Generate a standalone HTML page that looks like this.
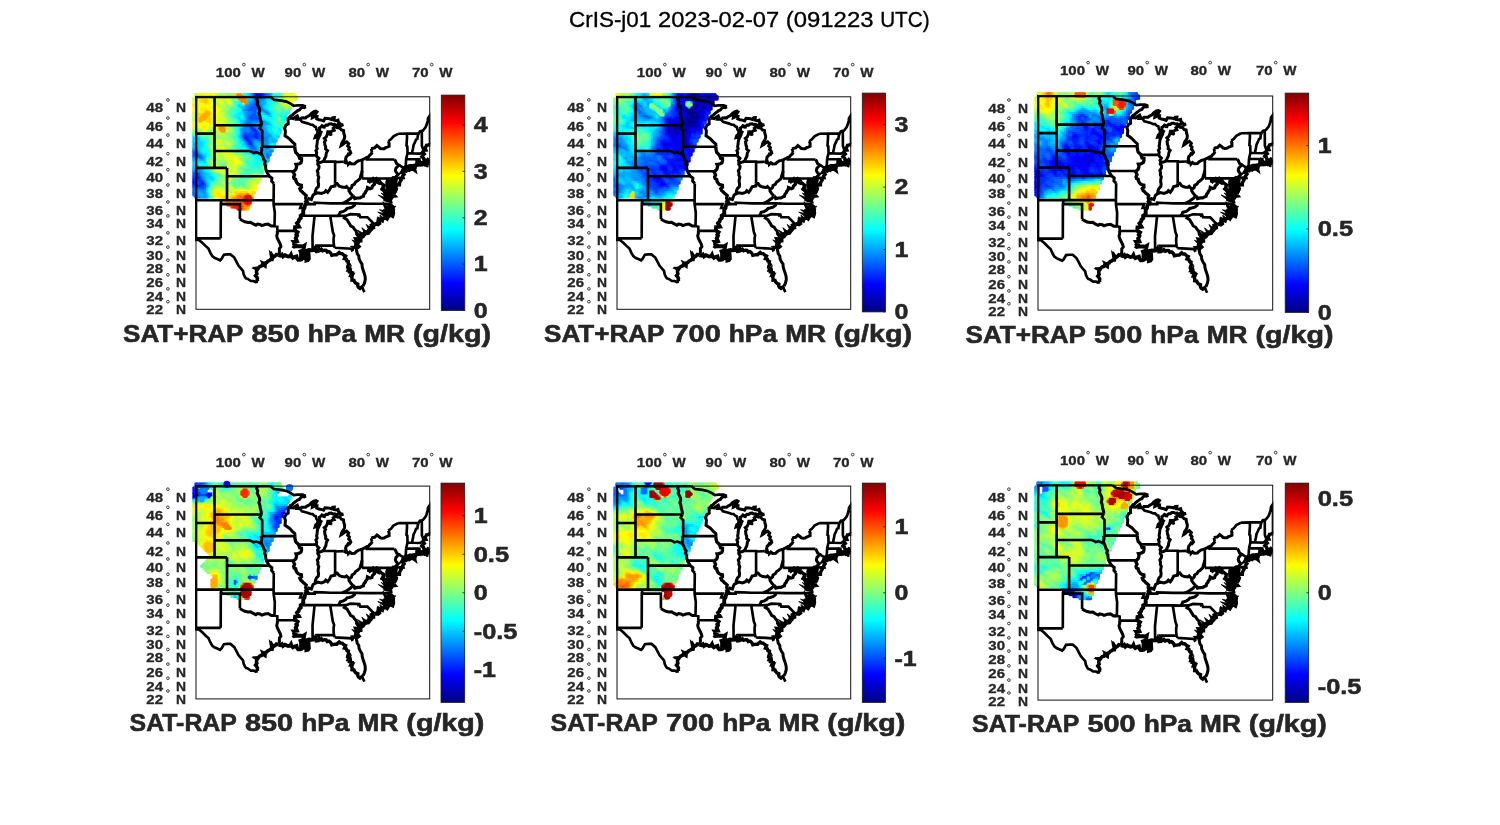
<!DOCTYPE html>
<html><head><meta charset="utf-8"><title>CrIS-j01 2023-02-07</title>
<style>html,body{margin:0;padding:0;background:#fff}svg{display:block;will-change:transform;transform:translateZ(0)}text{font-family:"Liberation Sans",sans-serif}</style></head><body>
<svg width="1500" height="825" viewBox="0 0 1500 825">
<defs>
<linearGradient id="jet" x1="0" y1="1" x2="0" y2="0"><stop offset="0" stop-color="#000080"/><stop offset="0.125" stop-color="#0000ff"/><stop offset="0.375" stop-color="#00ffff"/><stop offset="0.625" stop-color="#ffff00"/><stop offset="0.875" stop-color="#ff0000"/><stop offset="1" stop-color="#800000"/></linearGradient>
<clipPath id="box"><rect x="-1" y="-1" width="235.29999999999998" height="214.5"/></clipPath>
<g id="st" clip-path="url(#box)" fill="none" stroke="#000" stroke-linejoin="miter" stroke-miterlimit="4">
<path stroke-width="2.65" d="M-3.1 0.0 L74.3 0.0 M18.5 0.0 L18.5 36.8 L18.5 54.2 L18.5 71.1 M-3.1 36.8 L18.5 36.8 M18.5 28.4 L65.5 28.4 M18.5 54.2 L53.3 54.2 L55.8 55.1 L57.4 56.2 L60.2 55.4 L62.7 56.3 L64.6 57.5 L66.2 58.6 M-3.1 71.1 L31.0 71.1 M31.0 71.1 L31.0 79.4 L31.0 103.4 M31.0 79.4 L73.4 79.4 M-3.1 103.4 L25.1 103.4 L31.0 103.4 L77.6 103.4 M25.1 103.4 L25.1 107.3 L24.8 107.3 L24.7 141.5 M24.7 141.5 L2.4 141.5 L2.9 143.1 M2.9 143.1 L-3.1 143.1 M25.1 107.3 L43.9 107.3 L43.9 122.3 M81.3 134.0 L81.3 129.9 L78.5 129.2 L78.8 115.9 L77.6 107.3 L77.6 103.4 L77.8 86.7 M81.3 134.0 L99.3 134.0 M77.6 107.3 L105.7 107.3 L104.2 111.2 L108.5 111.2 M65.2 49.9 L99.0 49.9 M66.2 49.9 L66.2 34.1 L63.7 31.5 L65.5 28.4 M74.3 0.0 L77.8 2.9 L85.3 3.8 L90.3 4.8 L94.1 6.6 L97.8 9.0 L101.6 8.5 L106.6 8.5 L109.9 9.8 M70.4 74.4 L95.8 74.4 L97.7 76.2 M102.5 58.5 L120.4 58.5 M139.1 86.7 L139.1 65.3 M126.5 64.8 L139.1 64.8 L139.1 65.3 L147.7 65.0 M166.1 81.7 L166.1 74.1 L166.1 63.0 M166.1 81.7 L172.5 81.7 L195.7 81.7 M172.5 81.7 L172.5 85.9 M146.2 106.5 L158.8 106.6 L169.3 106.9 L195.2 106.9 M146.2 106.5 L134.8 106.5 L125.4 106.2 L118.7 105.9 L118.7 107.3 L109.7 107.3 M149.9 118.9 L142.2 119.0 L134.2 118.9 L117.9 118.9 L104.7 118.9 M149.9 118.9 L154.3 117.4 L162.8 117.7 L162.7 118.5 L163.5 118.2 L164.3 120.3 L171.4 120.4 L178.5 127.7 M134.2 118.9 L136.8 135.0 L138.1 138.5 L137.6 141.5 L137.6 145.2 L138.0 148.8 L138.8 151.0 M138.8 151.0 L155.5 152.0 L156.1 153.5 L156.6 153.2 L156.8 150.4 L160.2 151.0 M138.0 148.8 L121.7 148.8 L122.9 151.0 L122.2 154.1 M117.9 118.9 L118.5 119.7 L116.5 139.3 L116.6 153.4 M195.7 81.7 L196.3 91.9 L200.4 91.9 M195.7 81.7 L196.9 80.7 L198.2 81.0 M195.2 95.9 L199.2 95.3 M198.5 62.7 L170.8 62.7 L170.8 60.5 M202.6 68.1 L207.6 71.1 M209.1 71.2 L208.6 70.3 L209.8 68.6 L210.1 62.3 M210.1 62.3 L211.5 56.5 M211.5 56.5 L211.5 54.2 L211.3 49.5 L210.5 48.8 L210.7 45.6 L211.0 41.2 L211.0 36.8 M202.2 37.0 L211.0 36.8 L222.6 36.7 M222.6 36.7 L221.8 39.0 L221.4 42.1 L220.1 42.7 L218.9 45.6 L217.6 48.2 L217.0 51.7 L216.3 54.7 L216.6 56.6 M211.5 56.5 L216.6 56.6 L223.9 56.8 L226.9 55.4 M210.1 62.3 L220.7 62.5 L223.4 62.6 L223.4 63.6 L224.5 65.3 L225.0 67.0 M220.7 62.5 L220.4 68.5 M227.6 53.6 L225.9 49.3 L225.8 34.1 M222.6 36.7 L223.9 34.6 L225.8 34.1 M225.8 34.1 L227.0 33.7 L229.5 30.6 L230.5 28.3 L231.7 24.2 L232.0 21.5 L234.5 17.8 L237.0 14.6 M192.3 44.5 L194.9 42.6 L197.5 39.5 L202.2 37.0 M176.2 55.3 L175.5 53.8 L175.1 52.0 M121.7 35.9 L121.3 33.7 L120.4 32.8 L119.8 30.1 L118.5 29.7 L116.6 27.9 L114.8 27.9 L112.3 26.8 L106.0 25.1 L104.0 22.7 M2.9 143.1 L6.3 145.9 L10.0 149.6 L12.5 151.8 L14.4 156.1 L16.3 159.4 L18.8 161.2 L21.3 162.2 L24.1 163.5 L25.7 161.9 L27.9 157.9 L31.4 157.6 L34.5 157.6 L38.3 160.8 L40.8 165.5 L42.6 169.0 L47.0 174.0 L47.7 177.5 L49.2 180.7 L50.2 181.7 L51.4 181.9 L54.9 184.2 L57.7 184.2 L59.6 185.2 L61.8 184.8 M0.0 0.0 L0.0 143.1 M234.0 18.3 L234.0 47.3 M165.9 190.1 L168.4 195.3"/>
<path stroke-width="3.0" d="M43.9 122.3 L45.8 123.5 L48.9 125.0 L52.0 125.6 L54.6 125.4 L56.8 126.9 L59.9 128.4 L61.5 127.3 L64.0 127.7 L65.8 128.8 L69.0 127.7 L72.1 127.3 L75.3 129.2 L78.5 129.2 M81.3 134.0 L81.4 136.5 L80.7 139.0 L81.3 141.5 L82.8 144.4 L84.3 147.4 L84.9 149.8 L83.4 151.8 L83.4 155.4 L82.5 158.3 M77.8 86.7 L75.6 84.3 L75.9 81.4 L73.4 79.4 L71.8 76.9 L70.4 74.4 L69.8 71.8 L69.5 69.0 L68.5 67.0 L69.2 64.6 L67.7 62.7 L67.1 60.6 L66.2 58.6 M66.2 58.6 L65.2 56.0 L65.8 52.5 L65.2 49.9 M65.5 28.4 L65.2 25.4 L64.3 22.4 L63.8 18.7 L62.9 16.5 L63.7 14.1 L63.4 11.7 L62.4 9.5 L61.2 7.2 L61.8 4.8 L60.7 2.5 L61.3 0.0 M93.4 21.5 L92.2 22.0 L92.1 24.5 L92.2 27.1 L90.0 28.3 L88.5 31.5 L89.4 34.1 L89.2 36.8 L89.0 39.0 L91.6 40.8 L93.4 42.1 L94.9 43.6 L96.3 45.2 L98.8 47.3 L99.0 49.9 M122.2 65.3 L121.7 67.4 L123.1 69.6 L122.8 71.7 L121.3 73.9 L122.0 76.0 L121.8 78.2 L122.8 80.4 L122.3 82.5 L122.1 84.7 L122.6 87.3 L122.3 89.9 L120.5 91.6 L119.5 93.9 L119.0 97.1 M111.9 103.4 L112.9 101.8 L115.4 102.8 L116.3 100.3 L117.1 98.2 L119.0 97.1 L121.8 95.9 L125.4 96.7 L128.6 95.5 L129.8 93.9 L131.7 95.5 L133.3 93.4 L135.1 89.9 L138.9 89.1 L139.1 86.7 M139.1 86.7 L141.1 86.7 L143.0 89.1 L145.8 90.3 L149.2 90.7 L150.5 89.7 L151.8 91.1 L152.8 91.8 L153.0 92.3 M153.0 92.3 L154.0 92.2 L155.6 90.7 L156.0 88.7 L158.3 87.5 L159.6 85.3 L161.2 84.3 L164.0 81.8 L164.6 79.4 L165.6 76.1 L166.1 74.1 M157.0 99.2 L154.9 97.1 L153.0 94.2 L153.0 92.3 M157.0 99.2 L154.6 101.8 L152.8 103.0 L151.1 104.2 L148.8 105.5 L146.2 106.5 M158.8 106.6 L158.5 108.5 L156.1 110.4 L153.0 111.2 L151.1 111.6 L149.9 113.0 L147.4 114.6 L144.2 115.5 L143.6 117.0 L142.2 119.0 M149.9 118.9 L148.3 121.2 L151.1 122.9 L152.1 124.8 L153.3 126.5 L154.6 129.0 L157.1 130.3 L158.3 132.3 L159.9 134.0 L161.2 137.8 L162.6 139.3 L163.7 141.1 M198.5 62.7 L199.4 64.0 L200.7 67.0 L202.6 68.1 L201.3 69.9 L199.9 71.4 L199.4 73.6 L200.0 75.3 L202.1 77.7 L199.7 80.2 L198.2 81.0 L197.2 82.6 M167.1 189.4 L168.5 186.1 L169.3 182.9 L169.1 179.6 L168.1 176.1 L167.0 172.9 L166.2 170.1 L166.0 167.3 L164.3 164.8 L163.0 161.9 L162.8 159.1 L161.2 156.8 L160.5 153.2 L160.2 151.0"/>
<path stroke-width="3.0" d="M109.9 9.8 L108.2 10.8 L106.1 10.5 L104.5 11.8 L103.4 13.3 L101.6 13.9 L100.2 15.0 L98.7 16.1 L97.3 17.2 L96.1 18.6 L94.5 19.4 L93.4 20.8 L93.4 21.5 M93.4 21.5 L95.3 21.5 L97.3 21.8 L98.8 20.7 L100.3 19.7 L101.3 19.1 L102.0 20.8 L101.0 22.4 L104.1 22.4 L104.0 22.7 M104.0 22.7 L105.6 21.1 L107.9 21.0 L109.6 21.1 L111.0 19.9 L113.5 18.7 L115.4 16.6 L117.9 14.9 L119.9 14.4 L121.0 15.1 L119.9 16.8 L117.9 16.9 L116.6 18.7 L116.3 21.0 L119.1 19.7 L121.0 19.7 L120.7 22.0 L122.9 22.9 L125.4 23.3 L127.6 24.1 L129.0 21.6 L131.8 21.8 L133.5 22.0 L135.3 22.6 L136.7 21.0 L138.3 20.9 L138.0 23.3 L140.5 23.8 L142.0 23.3 L142.6 25.5 L144.2 27.0 L145.4 28.8 L147.4 27.9 L144.9 28.3 L141.7 27.9 L139.7 29.0 L138.6 27.6 L136.7 27.8 L135.2 27.0 L133.2 27.1 L131.7 28.3 L130.1 28.2 L128.6 29.5 L127.9 31.5 L127.7 29.6 L126.0 28.8 L125.0 30.1 L123.3 31.2 L123.5 33.2 L122.8 34.7 L121.7 35.9 M121.7 35.9 L121.3 37.6 L119.8 38.6 L119.1 40.8 L121.5 40.1 L122.9 38.1 L123.0 36.2 L124.9 35.6 L125.7 34.1 L124.3 35.6 L124.2 37.7 L123.2 39.7 L122.3 41.7 L121.6 43.1 L121.3 44.7 L121.0 47.8 L120.6 49.8 L121.2 52.0 L119.9 53.8 L120.7 55.8 L120.3 57.8 L120.4 58.5 L121.2 60.2 L122.9 61.6 L121.5 63.8 L122.2 65.3 L123.5 65.9 L126.0 65.1 L126.5 64.8 M126.5 64.8 L128.0 63.6 L128.6 61.9 L129.9 59.4 L130.1 57.7 L130.4 56.1 L131.6 53.9 L129.6 52.3 L129.7 50.1 L128.9 48.1 L128.7 46.0 L128.5 45.1 L129.6 43.4 L128.3 41.5 L130.2 40.1 L131.3 37.7 L131.8 35.0 L134.5 35.0 L134.3 36.9 L134.1 38.8 L134.8 36.8 L135.1 38.6 L134.1 35.9 L136.3 34.0 L138.2 33.5 L137.3 31.5 L139.7 29.8 L141.3 31.0 L143.8 31.2 L145.4 33.1 L147.5 33.7 L147.8 36.3 L148.3 37.9 L148.7 39.5 L148.4 41.9 L147.7 43.4 L146.1 45.6 L145.2 48.6 L146.7 47.7 L148.0 46.5 L148.8 46.1 L150.7 45.0 L152.7 46.9 L151.7 49.1 L153.4 50.8 L152.7 52.7 L154.1 54.2 L154.8 56.1 L153.5 57.7 L152.4 57.2 L151.1 59.4 L150.2 60.0 L149.6 62.3 L150.4 64.9 L147.7 65.0 M147.7 65.0 L148.6 65.3 L150.3 66.3 L152.3 66.5 L152.4 67.4 L153.9 65.9 L155.6 67.2 L158.7 67.0 L159.9 65.7 L161.3 64.8 L162.7 63.9 L164.3 63.6 L166.1 63.0 L168.8 61.7 L170.8 60.5 L172.5 60.1 L173.5 58.6 L175.2 57.1 L176.3 55.3 M175.1 52.0 L176.9 51.4 L178.7 51.1 L180.9 48.8 L182.6 50.1 L184.4 51.7 L186.2 52.0 L188.1 51.9 L189.6 50.9 L191.2 50.3 L193.1 49.5 L193.1 46.5 L192.3 44.5"/>
<path stroke-width="3.3" d="M99.0 49.9 L98.9 52.1 L99.4 54.2 L99.8 55.7 L101.0 56.8 L102.5 58.5 L103.1 60.0 L103.6 61.6 L105.5 61.9 L105.5 64.0 L104.9 66.0 L103.2 67.0 L101.6 67.4 L100.0 67.6 L100.6 69.3 L100.3 71.1 L99.7 72.8 L97.8 74.4 L97.7 76.2 M97.7 76.2 L98.6 78.2 L97.6 80.2 L98.1 81.8 L99.7 82.5 L100.0 84.3 L100.9 86.0 L102.2 87.5 L103.8 88.1 L105.4 88.5 L105.5 90.5 L103.8 91.9 L104.7 93.9 L106.1 95.0 L107.2 96.3 L108.8 97.5 L110.2 98.8 L109.7 101.1 L110.2 102.8 L111.9 103.4 M197.2 82.6 L197.2 83.9 L200.2 82.7 L199.7 85.9 L201.1 88.1 L203.5 88.1 L203.6 86.0 L204.3 84.6 L205.1 83.4 L203.7 81.4 L207.1 81.1 L206.6 79.4 L208.2 77.6 L206.9 75.5 L205.4 75.7 L206.8 73.6 L207.6 71.1"/>
<path stroke-width="3.9" d="M111.9 103.4 L110.3 104.8 L111.6 106.5 L109.7 107.3 L108.8 109.2 L108.5 111.2 L107.3 113.0 L107.2 115.1 L107.3 116.7 L106.2 117.9 L104.7 118.9 L104.8 121.2 L103.2 122.7 L102.5 124.9 L101.0 126.5 L102.9 129.8 L99.1 130.3 L98.9 132.2 L99.3 134.0 L101.6 135.4 L100.3 137.8 L101.0 138.9 L99.7 141.5 L100.9 144.4 L97.7 144.8 L99.5 147.5 L96.6 148.8 M96.6 148.8 L98.2 149.8 L99.9 149.4 L101.6 149.3 L103.3 149.4 L104.9 149.4 L106.6 149.8 L108.3 148.8 L107.7 151.8 L108.2 153.6 L109.6 154.8"/>
<path stroke-width="3.6" d="M172.5 85.9 L173.9 84.7 L175.6 83.9 L177.1 82.2 L178.1 83.2 L179.4 82.5 L180.6 81.8 L181.9 82.6 L182.8 83.4 L183.6 84.9 M178.5 127.7 L180.3 127.0 L182.1 127.7 L183.5 126.7 L183.1 125.0 L183.1 122.4 L186.3 123.9 L186.9 122.0 L188.4 121.4 L190.0 121.2 L191.1 122.0 L191.8 120.8 L192.5 119.7 L194.5 118.2 L196.6 119.4 L197.3 117.2 L197.4 115.7 L197.1 114.2 L197.3 112.8 L195.5 111.8 L196.0 109.7 L193.9 108.8 L195.2 106.9"/>
<path stroke-width="3.2" d="M183.6 84.9 L182.9 86.4 L180.6 85.3 L179.7 83.8 L178.0 85.3 L178.4 87.5 L176.4 89.3 L175.9 91.2 L174.1 91.9 L171.5 90.7 L171.1 93.0 L169.6 94.7 L169.3 95.9 L167.9 97.5 L167.4 99.5 L166.2 99.9 L164.0 101.1 L161.5 101.2 L158.8 101.8 L158.1 100.3 L157.0 99.2 M107.2 155.8 L107.9 154.7 L106.0 153.6 L104.1 154.3 L104.7 155.8 L106.6 155.9 L107.2 155.8 M208.3 72.8 L210.1 71.8 L212.6 71.5 L214.2 72.5 L215.7 71.3 L219.0 73.8 L218.0 69.8 L216.1 70.0 L215.3 71.8 L217.6 71.5 L218.7 70.2 L220.4 70.5 L218.9 70.9 L217.7 71.8 L216.3 72.4 L214.6 72.5 L213.2 73.6 L211.4 73.0 L210.1 74.4 L208.5 74.2 L206.9 74.7 L206.9 73.6 L208.3 72.8 M227.0 67.4 L229.2 67.8 L228.6 68.2 L227.0 67.4 M230.5 68.6 L232.2 68.8 L231.4 69.0 L230.5 68.6"/>
<path stroke-width="3.5" d="M61.8 184.8 L61.1 183.4 L61.5 181.7 L60.8 180.3 L59.5 178.8 L60.9 177.0 L60.5 175.4 L60.6 173.9 L61.5 172.6 L60.2 171.9 L62.1 171.5 L63.7 169.7 L65.5 169.2 L66.5 167.6 L69.0 169.2 L69.3 166.2 L70.8 165.7 L71.9 164.3 L73.4 163.7 L74.4 162.8 L76.1 162.8 L76.5 161.2 L75.6 159.7 L75.3 157.9 L76.8 159.4 L77.8 160.1 L79.0 159.4 L80.4 157.7 L82.5 158.3"/>
<path stroke-width="3.8" d="M82.5 158.3 L84.3 158.9 L85.9 157.8 L87.0 159.7 L88.9 158.3 L90.3 159.0 L92.1 159.8 L94.1 159.4 L95.0 157.9 L95.6 159.7 L96.9 161.0 L98.5 160.1 L100.5 159.5 L101.0 161.5 L102.2 163.0 L103.8 163.0 L105.4 162.6 L106.6 161.5 L107.9 161.2 L109.7 161.9 L110.4 163.3 L110.4 163.8 L111.9 163.4 L112.9 161.9 L112.7 158.8 L110.4 160.8 L109.1 159.0 L110.6 158.7 L111.0 157.2 L111.6 156.1 L109.1 155.8 L109.6 154.8 M109.6 154.8 L110.8 153.9 L112.3 153.4 L113.5 153.2 L115.7 153.6 L116.6 153.4 L118.2 153.2 L119.0 151.2 L119.6 151.2 L120.2 153.2 L120.7 154.3 L119.0 154.4 L120.3 154.5 L121.7 154.3 L122.2 154.1"/>
<path stroke-width="3.4" d="M122.2 154.1 L124.2 153.7 L125.4 152.5 L126.7 154.0 L128.6 153.4 L130.1 153.5 L131.2 155.2 L132.9 154.7 L133.9 155.4 L135.1 156.8 L135.8 158.5 L138.0 158.1 L139.3 157.9 L140.7 157.9 L141.7 156.8 L143.1 155.6 L144.4 156.8 L146.1 156.8 L148.0 158.5 L149.6 159.3 L148.4 161.8 L150.3 162.4 L150.8 164.1 L152.4 164.8 L152.2 166.2 L153.2 167.7 L151.9 169.0 L151.6 170.7 L152.8 171.8 L152.2 173.3 L154.3 173.3 L154.0 171.2 L153.3 173.3 L153.3 175.2 L155.9 175.8 L154.9 178.2 L156.5 177.9 L155.5 180.0 L156.1 181.4 L156.0 183.4 L158.0 183.6 L158.7 185.2 L160.0 186.6 L161.8 187.3 L161.7 189.0 L162.4 190.6 L164.0 191.7 L165.6 190.4 L167.1 189.4 M190.0 121.2 L190.6 118.9 L189.2 119.1 L188.1 118.2 L189.7 118.5 L191.3 118.9 L192.1 117.6 L191.3 116.2 L189.1 117.2 L188.1 115.1 L190.1 114.8 L191.9 115.8 L192.8 114.4 L194.4 114.7 L196.0 113.5 L195.0 111.6 L193.6 112.4 L192.1 112.8 L190.6 111.6 L190.0 110.4 L191.9 111.0 L193.8 110.8 L193.1 108.9 L195.3 109.7 L194.7 107.3 M195.2 106.9 L194.6 104.6 L194.4 104.0 L192.5 103.8 L191.6 103.4 L190.1 103.2 L189.4 101.8 L191.6 100.5 L192.2 103.0 L191.9 101.4 L189.2 102.3 L189.4 99.5 L191.2 99.0 L192.5 100.3 L192.5 98.7 L192.3 96.3 L190.5 96.2 L188.8 95.9 L189.4 97.8 L190.9 97.8 L192.5 97.9 L192.9 96.5 L191.3 95.5 L190.5 93.9 L188.8 93.9 L188.1 93.1 L186.2 92.3 L187.2 90.3 L187.8 88.3 L186.6 87.5 L184.9 86.3 L183.6 84.9 M187.8 88.3 L186.9 90.7 L187.8 92.7 L189.4 93.5 L190.2 95.6 L192.4 95.2 L191.9 93.1 L193.5 91.0 L191.1 89.9 L191.4 87.7 L191.0 85.5 L191.6 83.2 L193.8 84.3 L193.9 83.0 L195.0 83.4 L194.9 85.3 L193.1 85.9 L192.5 88.3 L192.5 90.7 L194.4 91.1 L193.1 93.1 L193.6 94.9 L195.2 95.7 L194.3 97.5 L194.6 99.5 L193.6 101.0 L194.6 102.5 L195.8 101.1 L196.6 99.5 L198.9 99.2 L195.8 96.0 L198.5 95.9 L199.0 94.2 L200.2 92.9 L200.4 91.9 L198.3 90.7 L200.1 89.1 L198.4 88.5 L198.2 86.7 L198.3 85.2 L197.2 84.3 L197.0 82.6 M206.8 73.6 L208.3 72.0 L209.1 71.2 L209.8 70.9 L212.0 69.8 L213.8 68.9 L216.3 69.0 L218.9 68.5 L220.4 68.5 L222.7 68.1 L223.2 66.1 L223.2 64.4 L224.2 65.3 L224.5 67.3 L225.1 67.0 L226.4 66.1 L228.1 64.9 L227.8 66.8 L228.3 66.5 L230.1 65.9 L232.0 66.5 L232.3 65.5 L232.4 64.4 L232.2 63.6 L231.4 62.3 L230.8 62.1 L231.5 62.7 L231.8 63.3 L232.2 64.6 L231.1 64.9 L230.1 65.1 L228.9 64.7 L228.0 63.2 L227.5 61.1 L225.8 59.8 L226.7 58.5 L228.3 57.2 L226.9 55.4 L227.6 53.6 L229.9 53.3 L228.9 51.2 L229.9 50.1 L230.5 48.6 L231.9 48.4 L233.3 47.8 L236.0 48.4 L235.8 45.6"/>
<path stroke-width="5.0" d="M160.2 151.0 L161.9 149.7 L160.5 148.1 L160.9 146.5 L161.8 145.2 L160.8 142.9 L164.0 143.0 L164.0 141.3 L164.9 140.0 L166.5 139.3 L167.4 137.8 L168.7 136.8 L169.9 135.9 L172.0 135.7 L173.1 134.0 L174.5 132.6 L175.0 131.3 L176.6 130.5 L176.2 128.8 L178.5 127.7"/>
<path fill="#000" stroke-width="0.8" d="M193.5 82.6 L195.2 82.2 L196.9 82.2 L197.9 83.9 L200.4 85.5 L201.3 88.1 L200.4 89.1 L200.4 91.1 L200.4 93.1 L200.7 95.5 L198.5 96.3 L197.1 97.6 L196.5 99.4 L196.2 101.2 L195.0 102.6 L192.5 103.8 L191.5 101.8 L191.6 99.5 L190.9 97.6 L191.0 95.5 L190.6 93.7 L190.0 91.9 L194.4 90.8 L190.6 88.3 L190.2 86.7 L190.3 85.1 L192.4 84.6 L193.5 82.6Z M195.7 109.7 L194.0 111.8 L191.8 109.7 L190.0 110.4 L190.0 112.0 L187.5 112.6 L188.1 115.1 L187.5 116.6 L188.1 118.2 L188.5 119.9 L190.0 120.8 L191.3 121.6 L192.8 120.5 L193.8 118.9 L195.1 117.2 L197.2 117.0 L197.4 114.9 L197.2 112.8 L199.8 109.5 L195.7 109.7Z M103.8 153.6 L105.6 154.3 L107.2 153.2 L109.1 154.3 L111.6 155.8 L111.0 158.3 L111.9 159.7 L112.9 161.2 L111.9 163.7 L110.1 163.7 L107.9 161.9 L105.4 162.6 L103.5 161.2 L103.5 158.3 L103.8 156.1 L103.8 153.6Z M206.6 74.8 L207.8 73.4 L208.2 71.5 L209.9 71.4 L211.7 71.4 L212.6 69.5 L214.5 69.1 L216.3 68.6 L218.5 69.5 L220.4 68.2 L220.4 70.3 L219.3 71.5 L218.0 72.2 L216.3 72.4 L214.7 72.3 L213.7 73.9 L211.6 72.6 L210.7 74.4 L208.5 73.4 L206.6 74.8Z M223.2 64.0 L224.8 65.2 L226.6 64.6 L228.3 64.9 L229.9 66.1 L232.0 66.1 L232.0 68.6 L230.1 70.0 L228.3 67.2 L226.4 68.6 L224.4 69.6 L222.6 68.2 L221.7 65.9 L223.2 64.0Z M144.5 48.6 L145.2 46.0 L147.4 45.6 L148.3 46.5 L146.7 48.2 L144.5 48.6Z M175.6 131.5 L170.2 127.6 L173.1 133.6Z M171.2 134.9 L165.8 130.9 L168.7 136.9Z M167.9 137.0 L161.4 133.2 L165.7 139.3Z M166.1 139.0 L160.8 135.1 L163.7 141.0Z M165.1 140.1 L159.2 136.8 L162.9 142.4Z M162.0 145.3 L155.8 143.1 L160.3 148.0Z M160.6 149.5 L154.3 149.6 L159.9 152.6Z M183.5 127.1 L181.3 120.8 L180.3 127.4Z M187.6 121.1 L183.9 118.3 L184.9 122.9Z M190.7 117.5 L181.7 115.3 L189.4 120.4Z M191.2 114.4 L183.5 112.9 L190.0 117.3Z M191.4 110.1 L187.0 104.9 L188.6 111.5Z M192.1 102.0 L182.3 98.2 L190.5 104.8Z M192.9 100.2 L185.3 96.2 L190.9 102.7Z M193.5 97.4 L184.2 91.9 L191.5 99.9Z M78.1 160.5 L75.3 154.6 L74.9 161.1Z M68.8 165.7 L64.2 163.5 L66.6 168.1Z M62.5 170.3 L56.7 170.5 L61.7 173.4Z M120.7 154.0 L119.4 147.7 L117.6 153.9Z M153.7 174.1 L155.4 168.6 L151.0 172.4Z M156.9 180.4 L157.3 176.3 L154.1 178.9Z"/>
</g>
</defs>
<rect width="1500" height="825" fill="#fff"/>
<text x="568.99" y="27.30" font-size="22.09" fill="#000" stroke="#000" stroke-width="0.33" textLength="82.36" lengthAdjust="spacingAndGlyphs" >CrIS-j01</text><text x="657.99" y="27.30" font-size="22.09" fill="#000" stroke="#000" stroke-width="0.33" textLength="121.17" lengthAdjust="spacingAndGlyphs" >2023-02-07</text><text x="785.78" y="27.30" font-size="22.09" fill="#000" stroke="#000" stroke-width="0.33" textLength="87.73" lengthAdjust="spacingAndGlyphs" >(091223</text><text x="880.14" y="27.30" font-size="22.09" fill="#000" stroke="#000" stroke-width="0.33" textLength="49.47" lengthAdjust="spacingAndGlyphs" >UTC)</text>
<g transform="translate(196.0,96.8) scale(1.00000,1.00000)">
<g fill="none" stroke-linecap="round" stroke-width="3.7">
<path stroke="#0000d4" d="M60 -2h.01M62 -2h.01"/>
<path stroke="#0000ea" d="M64 -2h.01M60 40h.01M50 42h.01"/>
<path stroke="#0000ff" d="M66 -2h.01M60 0h.01M56 32h.01M58 34h.01M60 34h.01M50 40h.01M-2 86h.01M6 86h.01"/>
<path stroke="#0015ff" d="M62 0h.01M64 0h.01M66 0h.01M56 30h.01M58 32h.01M60 36h.01M60 38h.01M48 40h.01M58 40h.01M62 40h.01M48 42h.01M52 42h.01M50 44h.01M52 44h.01M54 46h.01M-2 84h.01M4 84h.01M8 86h.01M0 88h.01M6 88h.01"/>
<path stroke="#002aff" d="M58 -2h.01M68 -2h.01M60 2h.01M60 4h.01M60 6h.01M54 28h.01M54 30h.01M60 32h.01M56 34h.01M62 36h.01M50 38h.01M54 38h.01M58 38h.01M62 38h.01M52 40h.01M56 40h.01M60 42h.01M62 42h.01M54 44h.01M52 46h.01M56 46h.01M54 48h.01M56 48h.01M0 78h.01M2 78h.01M0 80h.01M2 80h.01M4 80h.01M-2 82h.01M0 82h.01M2 82h.01M4 82h.01M6 84h.01M0 86h.01M4 86h.01M-2 88h.01M2 88h.01M4 88h.01M8 88h.01M0 90h.01M2 90h.01M4 90h.01"/>
<path stroke="#0040ff" d="M58 0h.01M68 0h.01M62 4h.01M62 6h.01M60 8h.01M62 8h.01M60 10h.01M62 10h.01M64 10h.01M54 12h.01M56 12h.01M64 12h.01M58 16h.01M60 16h.01M60 18h.01M54 20h.01M56 20h.01M60 20h.01M54 22h.01M56 22h.01M60 22h.01M62 22h.01M56 28h.01M58 30h.01M54 32h.01M62 34h.01M54 36h.01M58 36h.01M48 38h.01M52 38h.01M56 38h.01M64 38h.01M54 40h.01M54 42h.01M64 42h.01M56 44h.01M56 50h.01M58 50h.01M0 56h.01M0 58h.01M2 58h.01M2 60h.01M2 76h.01M-2 80h.01M0 84h.01M2 84h.01M-2 90h.01M6 90h.01M8 90h.01"/>
<path stroke="#0055ff" d="M70 -2h.01M58 2h.01M62 2h.01M64 2h.01M66 2h.01M58 8h.01M54 10h.01M56 10h.01M58 10h.01M58 12h.01M60 12h.01M62 12h.01M54 14h.01M56 14h.01M58 14h.01M60 14h.01M56 18h.01M58 18h.01M52 20h.01M58 20h.01M62 20h.01M58 22h.01M64 22h.01M56 24h.01M52 28h.01M48 36h.01M50 36h.01M52 36h.01M56 36h.01M64 36h.01M46 38h.01M46 40h.01M64 40h.01M56 42h.01M58 42h.01M64 44h.01M66 44h.01M52 48h.01M54 50h.01M58 52h.01M-2 56h.01M2 56h.01M-2 58h.01M0 60h.01M4 60h.01M-2 76h.01M0 76h.01M4 76h.01M-2 78h.01M4 78h.01M6 82h.01M8 84h.01M2 86h.01M10 88h.01M4 92h.01M6 92h.01M8 92h.01M-2 96h.01M0 100h.01"/>
<path stroke="#006aff" d="M56 -2h.01M72 -2h.01M70 0h.01M68 2h.01M58 4h.01M58 6h.01M64 6h.01M56 8h.01M64 8h.01M52 10h.01M52 12h.01M66 12h.01M52 14h.01M66 14h.01M56 16h.01M54 18h.01M52 22h.01M52 24h.01M54 24h.01M58 24h.01M60 24h.01M62 24h.01M64 24h.01M66 24h.01M50 26h.01M52 26h.01M54 26h.01M66 26h.01M50 28h.01M50 30h.01M52 30h.01M48 34h.01M54 34h.01M66 38h.01M66 40h.01M68 40h.01M48 44h.01M62 44h.01M50 46h.01M66 46h.01M58 48h.01M70 50h.01M56 52h.01M60 52h.01M-2 54h.01M0 54h.01M4 58h.01M72 58h.01M-2 60h.01M6 60h.01M70 60h.01M72 60h.01M4 62h.01M6 62h.01M6 80h.01M10 86h.01M10 90h.01M-2 92h.01M0 92h.01M2 92h.01M-2 94h.01M0 96h.01M-2 98h.01M0 98h.01M2 100h.01"/>
<path stroke="#0080ff" d="M74 -2h.01M74 0h.01M64 4h.01M56 6h.01M52 8h.01M54 8h.01M50 10h.01M66 10h.01M48 12h.01M50 12h.01M48 14h.01M50 14h.01M62 14h.01M64 14h.01M68 14h.01M70 14h.01M52 16h.01M54 16h.01M70 16h.01M72 16h.01M50 18h.01M52 18h.01M62 18h.01M50 20h.01M66 22h.01M50 24h.01M68 24h.01M56 26h.01M60 26h.01M68 26h.01M48 30h.01M60 30h.01M46 32h.01M48 32h.01M50 32h.01M52 32h.01M62 32h.01M46 34h.01M50 34h.01M52 34h.01M64 34h.01M46 36h.01M66 36h.01M70 40h.01M72 40h.01M46 42h.01M66 42h.01M68 42h.01M70 42h.01M58 44h.01M68 44h.01M70 44h.01M58 46h.01M68 46h.01M68 48h.01M70 48h.01M52 50h.01M60 50h.01M68 50h.01M72 50h.01M54 52h.01M70 52h.01M72 52h.01M74 52h.01M2 54h.01M56 54h.01M58 54h.01M60 54h.01M74 54h.01M76 54h.01M70 56h.01M72 56h.01M6 58h.01M70 58h.01M74 58h.01M72 62h.01M-2 74h.01M0 74h.01M2 74h.01M4 74h.01M6 78h.01M8 82h.01M10 92h.01M4 94h.01M6 94h.01M8 94h.01M2 98h.01"/>
<path stroke="#0095ff" d="M56 0h.01M72 0h.01M76 0h.01M70 2h.01M56 4h.01M66 4h.01M68 4h.01M54 6h.01M50 8h.01M66 8h.01M68 12h.01M50 16h.01M62 16h.01M68 16h.01M72 18h.01M74 18h.01M64 20h.01M50 22h.01M48 26h.01M58 26h.01M62 26h.01M64 26h.01M70 26h.01M72 26h.01M48 28h.01M58 28h.01M60 28h.01M66 28h.01M68 28h.01M62 30h.01M66 30h.01M68 30h.01M44 32h.01M64 32h.01M66 32h.01M68 32h.01M66 34h.01M68 34h.01M68 36h.01M70 36h.01M68 38h.01M70 38h.01M72 38h.01M74 38h.01M74 40h.01M72 42h.01M60 44h.01M72 44h.01M64 46h.01M70 46h.01M72 46h.01M50 48h.01M66 48h.01M72 48h.01M-2 52h.01M0 52h.01M62 52h.01M70 54h.01M4 56h.01M74 56h.01M8 60h.01M-2 62h.01M0 62h.01M2 62h.01M8 62h.01M6 64h.01M0 72h.01M2 72h.01M4 72h.01M6 74h.01M6 76h.01M8 80h.01M10 84h.01M0 94h.01M2 94h.01M10 94h.01M2 96h.01M6 96h.01M8 96h.01M10 96h.01M8 98h.01M10 98h.01M4 100h.01M8 100h.01M10 100h.01"/>
<path stroke="#00aaff" d="M54 -2h.01M56 2h.01M76 2h.01M54 4h.01M66 6h.01M68 6h.01M68 8h.01M48 10h.01M46 12h.01M72 14h.01M48 16h.01M74 16h.01M48 18h.01M70 18h.01M48 24h.01M70 24h.01M62 28h.01M64 28h.01M70 28h.01M72 28h.01M46 30h.01M64 30h.01M70 32h.01M44 34h.01M70 34h.01M72 34h.01M72 36h.01M44 38h.01M44 40h.01M76 40h.01M76 42h.01M78 42h.01M46 44h.01M76 44h.01M78 44h.01M0 46h.01M48 46h.01M60 46h.01M62 46h.01M78 46h.01M60 48h.01M50 50h.01M62 50h.01M2 52h.01M68 52h.01M54 54h.01M62 54h.01M64 54h.01M68 54h.01M72 54h.01M58 56h.01M60 56h.01M62 56h.01M68 56h.01M68 58h.01M70 62h.01M-2 64h.01M8 64h.01M-2 72h.01M6 72h.01M8 76h.01M8 78h.01M12 88h.01M12 90h.01M4 96h.01M4 98h.01M6 98h.01M6 100h.01"/>
<path stroke="#00bfff" d="M76 -2h.01M72 2h.01M74 2h.01M78 2h.01M52 4h.01M70 4h.01M52 6h.01M70 6h.01M42 8h.01M48 8h.01M70 8h.01M44 10h.01M46 10h.01M68 10h.01M70 12h.01M46 14h.01M64 16h.01M66 16h.01M64 18h.01M48 20h.01M74 20h.01M76 20h.01M44 24h.01M46 24h.01M46 26h.01M74 26h.01M46 28h.01M74 28h.01M70 30h.01M44 36h.01M74 36h.01M76 38h.01M0 40h.01M2 40h.01M82 40h.01M0 42h.01M2 42h.01M44 42h.01M74 42h.01M0 44h.01M74 44h.01M80 44h.01M-2 46h.01M2 46h.01M4 46h.01M74 46h.01M76 46h.01M-2 48h.01M0 48h.01M48 48h.01M62 48h.01M64 48h.01M-2 50h.01M0 50h.01M2 50h.01M66 50h.01M52 52h.01M64 52h.01M66 52h.01M76 52h.01M4 54h.01M66 54h.01M6 56h.01M56 56h.01M64 56h.01M66 56h.01M8 58h.01M58 58h.01M60 58h.01M10 60h.01M68 60h.01M0 64h.01M4 64h.01M72 64h.01M-2 68h.01M-2 70h.01M0 70h.01M2 70h.01M8 74h.01M10 76h.01M10 78h.01M12 78h.01M10 80h.01M14 80h.01M16 80h.01M10 82h.01M16 82h.01M12 86h.01M12 98h.01M12 100h.01"/>
<path stroke="#00d4ff" d="M52 -2h.01M54 0h.01M78 0h.01M52 2h.01M54 2h.01M78 4h.01M44 8h.01M42 10h.01M74 14h.01M46 16h.01M68 18h.01M76 18h.01M42 20h.01M66 20h.01M72 20h.01M42 22h.01M44 22h.01M48 22h.01M68 22h.01M72 24h.01M44 26h.01M76 28h.01M44 30h.01M72 30h.01M72 32h.01M82 32h.01M84 34h.01M76 36h.01M82 38h.01M-2 40h.01M42 40h.01M78 40h.01M-2 42h.01M4 42h.01M80 42h.01M-2 44h.01M2 44h.01M4 44h.01M6 46h.01M2 48h.01M4 48h.01M6 48h.01M74 48h.01M4 50h.01M6 50h.01M48 50h.01M64 50h.01M74 50h.01M4 52h.01M52 54h.01M10 58h.01M62 58h.01M64 58h.01M66 58h.01M10 62h.01M2 64h.01M10 64h.01M64 64h.01M70 64h.01M-2 66h.01M0 66h.01M8 66h.01M10 66h.01M68 66h.01M70 66h.01M0 68h.01M2 68h.01M70 68h.01M4 70h.01M8 72h.01M12 76h.01M14 78h.01M12 80h.01M12 82h.01M14 82h.01M18 82h.01M12 84h.01M16 84h.01M12 92h.01M12 96h.01"/>
<path stroke="#00eaff" d="M52 0h.01M80 2h.01M72 4h.01M74 4h.01M76 4h.01M80 4h.01M46 6h.01M72 6h.01M46 8h.01M72 8h.01M74 8h.01M70 10h.01M72 10h.01M44 12h.01M72 12h.01M42 16h.01M44 16h.01M76 16h.01M42 18h.01M44 18h.01M46 18h.01M66 18h.01M38 20h.01M40 20h.01M44 20h.01M86 20h.01M88 20h.01M90 20h.01M46 22h.01M70 22h.01M76 22h.01M90 22h.01M74 24h.01M76 26h.01M44 28h.01M74 30h.01M76 30h.01M42 32h.01M74 32h.01M76 32h.01M84 32h.01M74 34h.01M76 34h.01M78 36h.01M84 36h.01M42 38h.01M78 38h.01M80 38h.01M4 40h.01M80 40h.01M6 44h.01M8 44h.01M44 44h.01M8 46h.01M44 46h.01M46 46h.01M8 48h.01M46 48h.01M78 48h.01M8 50h.01M46 50h.01M6 52h.01M50 52h.01M6 54h.01M50 54h.01M8 56h.01M10 56h.01M12 56h.01M54 56h.01M56 58h.01M60 60h.01M62 60h.01M66 60h.01M62 62h.01M64 62h.01M68 62h.01M66 64h.01M68 64h.01M2 66h.01M4 66h.01M6 66h.01M6 70h.01M10 72h.01M10 74h.01M12 74h.01M14 76h.01M16 78h.01M18 80h.01M50 80h.01M14 84h.01M18 84h.01M14 86h.01M14 88h.01M14 90h.01M12 94h.01"/>
<path stroke="#00ffff" d="M50 -2h.01M50 2h.01M42 6h.01M44 6h.01M74 6h.01M80 6h.01M76 8h.01M74 10h.01M44 14h.01M76 14h.01M40 16h.01M78 16h.01M92 16h.01M38 18h.01M40 18h.01M84 18h.01M86 18h.01M46 20h.01M68 20h.01M70 20h.01M78 20h.01M40 22h.01M72 22h.01M74 22h.01M78 22h.01M88 22h.01M42 24h.01M78 28h.01M78 30h.01M80 30h.01M82 30h.01M42 34h.01M78 34h.01M82 34h.01M42 36h.01M6 42h.01M42 42h.01M10 44h.01M10 46h.01M10 48h.01M44 48h.01M76 48h.01M10 50h.01M44 50h.01M76 50h.01M8 52h.01M10 52h.01M48 52h.01M8 54h.01M10 54h.01M48 54h.01M52 56h.01M12 58h.01M14 58h.01M12 60h.01M58 60h.01M64 60h.01M60 62h.01M66 62h.01M62 64h.01M58 66h.01M60 66h.01M66 66h.01M4 68h.01M8 68h.01M10 68h.01M60 68h.01M8 70h.01M10 70h.01M60 70h.01M62 70h.01M12 72h.01M14 74h.01M16 76h.01M14 98h.01M14 100h.01"/>
<path stroke="#15ffea" d="M48 -2h.01M78 -2h.01M84 -2h.01M50 0h.01M80 0h.01M44 4h.01M76 6h.01M78 6h.01M40 8h.01M76 10h.01M42 12h.01M74 12h.01M76 12h.01M40 14h.01M42 14h.01M90 16h.01M78 18h.01M82 18h.01M90 18h.01M36 20h.01M84 20h.01M86 22h.01M76 24h.01M78 24h.01M80 24h.01M88 24h.01M42 26h.01M88 26h.01M42 30h.01M40 32h.01M78 32h.01M80 32h.01M80 36h.01M82 36h.01M-2 38h.01M0 38h.01M2 38h.01M40 40h.01M8 42h.01M10 42h.01M42 44h.01M42 46h.01M12 50h.01M42 50h.01M78 50h.01M44 52h.01M46 52h.01M12 54h.01M46 54h.01M14 56h.01M48 56h.01M50 56h.01M54 58h.01M14 60h.01M56 60h.01M58 62h.01M58 64h.01M60 64h.01M52 66h.01M62 66h.01M64 66h.01M6 68h.01M58 68h.01M62 68h.01M68 68h.01M56 70h.01M58 70h.01M56 72h.01M64 72h.01M18 78h.01M50 78h.01M20 80h.01M48 80h.01M52 80h.01M20 82h.01M20 84h.01M16 86h.01M14 92h.01M14 96h.01"/>
<path stroke="#2bffd4" d="M80 -2h.01M82 -2h.01M82 0h.01M84 0h.01M82 2h.01M40 6h.01M82 6h.01M82 8h.01M38 12h.01M40 12h.01M78 12h.01M38 14h.01M78 14h.01M88 14h.01M38 16h.01M80 16h.01M86 16h.01M88 16h.01M36 18h.01M80 18h.01M88 18h.01M38 22h.01M80 22h.01M40 24h.01M82 24h.01M86 24h.01M78 26h.01M82 26h.01M42 28h.01M38 30h.01M40 30h.01M84 30h.01M86 30h.01M40 34h.01M80 34h.01M40 36h.01M40 38h.01M6 40h.01M12 42h.01M40 42h.01M12 44h.01M40 44h.01M42 48h.01M40 50h.01M12 52h.01M40 52h.01M42 52h.01M42 54h.01M44 54h.01M50 58h.01M52 58h.01M16 60h.01M12 62h.01M56 62h.01M50 64h.01M52 64h.01M56 64h.01M12 66h.01M50 66h.01M54 66h.01M56 66h.01M12 68h.01M52 68h.01M54 68h.01M56 68h.01M12 70h.01M54 70h.01M64 70h.01M48 72h.01M50 72h.01M54 72h.01M58 72h.01M62 72h.01M50 74h.01M52 74h.01M58 74h.01M64 74h.01M66 74h.01M18 76h.01M66 76h.01M48 78h.01M52 78h.01M18 86h.01M46 86h.01M16 88h.01M46 88h.01M14 94h.01"/>
<path stroke="#40ffbf" d="M48 0h.01M38 4h.01M42 4h.01M38 6h.01M78 8h.01M80 8h.01M40 10h.01M78 10h.01M84 10h.01M36 12h.01M80 12h.01M86 12h.01M94 12h.01M36 14h.01M80 14h.01M86 14h.01M90 14h.01M92 14h.01M34 16h.01M36 16h.01M82 16h.01M84 16h.01M34 18h.01M80 20h.01M82 20h.01M36 22h.01M84 24h.01M40 26h.01M80 26h.01M84 26h.01M86 26h.01M40 28h.01M80 28h.01M82 28h.01M84 28h.01M86 28h.01M38 32h.01M4 38h.01M8 40h.01M10 40h.01M12 40h.01M36 40h.01M38 40h.01M38 42h.01M14 44h.01M12 46h.01M12 48h.01M40 48h.01M38 50h.01M14 52h.01M14 54h.01M40 54h.01M42 56h.01M46 56h.01M16 58h.01M54 60h.01M50 62h.01M54 62h.01M12 64h.01M54 64h.01M64 68h.01M66 68h.01M52 70h.01M14 72h.01M52 72h.01M60 72h.01M66 72h.01M16 74h.01M48 74h.01M54 74h.01M56 74h.01M60 74h.01M62 74h.01M48 76h.01M50 76h.01M64 76h.01M20 78h.01M22 78h.01M24 78h.01M46 78h.01M22 80h.01M24 80h.01M44 80h.01M46 80h.01M54 80h.01M46 82h.01M48 82h.01M50 82h.01M52 82h.01M22 84h.01M20 86h.01M48 86h.01M38 88h.01M40 88h.01M48 88h.01M16 90h.01M40 90h.01M48 90h.01M50 90h.01M16 100h.01"/>
<path stroke="#55ffaa" d="M46 -2h.01M86 -2h.01M86 0h.01M36 2h.01M38 2h.01M42 2h.01M84 2h.01M40 4h.01M82 4h.01M38 8h.01M84 8h.01M34 10h.01M36 10h.01M38 10h.01M86 10h.01M34 12h.01M88 12h.01M34 14h.01M82 14h.01M84 14h.01M32 16h.01M34 20h.01M82 22h.01M84 22h.01M38 24h.01M38 28h.01M38 34h.01M38 36h.01M38 38h.01M34 40h.01M36 42h.01M16 46h.01M40 46h.01M38 48h.01M36 50h.01M38 52h.01M40 56h.01M44 56h.01M46 58h.01M48 58h.01M50 60h.01M14 62h.01M16 62h.01M52 62h.01M48 64h.01M26 68h.01M50 68h.01M26 70h.01M28 70h.01M48 70h.01M66 70h.01M46 72h.01M22 76h.01M46 76h.01M52 76h.01M54 76h.01M56 76h.01M58 76h.01M60 76h.01M62 76h.01M26 78h.01M44 78h.01M54 78h.01M26 80h.01M28 80h.01M22 82h.01M44 82h.01M54 82h.01M42 84h.01M44 84h.01M46 84h.01M48 84h.01M22 86h.01M36 86h.01M38 86h.01M40 86h.01M42 86h.01M44 86h.01M42 88h.01M38 90h.01M46 90h.01"/>
<path stroke="#6aff95" d="M36 0h.01M36 4h.01M30 6h.01M80 10h.01M82 10h.01M82 12h.01M84 12h.01M92 12h.01M32 14h.01M32 18h.01M34 22h.01M36 24h.01M38 26h.01M36 28h.01M36 30h.01M-2 36h.01M0 36h.01M2 36h.01M14 36h.01M16 36h.01M36 36h.01M6 38h.01M10 38h.01M12 38h.01M14 38h.01M16 38h.01M18 38h.01M32 38h.01M36 38h.01M18 40h.01M14 42h.01M16 44h.01M34 44h.01M38 44h.01M14 46h.01M38 46h.01M14 50h.01M36 52h.01M38 54h.01M18 60h.01M48 60h.01M52 60h.01M18 62h.01M48 62h.01M48 66h.01M14 68h.01M24 68h.01M28 68h.01M14 70h.01M44 70h.01M46 70h.01M50 70h.01M68 70h.01M44 72h.01M68 72h.01M46 74h.01M20 76h.01M24 76h.01M44 76h.01M64 78h.01M66 78h.01M42 80h.01M38 82h.01M40 82h.01M42 82h.01M36 84h.01M38 84h.01M40 84h.01M50 84h.01M24 86h.01M50 86h.01M18 88h.01M22 88h.01M24 88h.01M36 88h.01M44 88h.01M50 88h.01M42 90h.01M16 92h.01M40 92h.01"/>
<path stroke="#80ff80" d="M32 -2h.01M34 -2h.01M34 0h.01M38 0h.01M40 2h.01M86 2h.01M88 2h.01M84 6h.01M30 8h.01M32 8h.01M32 10h.01M94 10h.01M32 12h.01M90 12h.01M30 14h.01M30 16h.01M30 18h.01M32 20h.01M32 22h.01M32 24h.01M34 24h.01M32 26h.01M34 26h.01M36 26h.01M32 28h.01M34 28h.01M36 32h.01M16 34h.01M4 36h.01M12 36h.01M18 36h.01M30 36h.01M32 36h.01M8 38h.01M30 38h.01M34 38h.01M14 40h.01M16 40h.01M20 40h.01M32 40h.01M16 42h.01M18 42h.01M26 42h.01M32 42h.01M34 42h.01M32 44h.01M36 44h.01M36 46h.01M14 48h.01M16 48h.01M18 48h.01M36 48h.01M32 50h.01M34 50h.01M16 52h.01M34 52h.01M16 54h.01M36 54h.01M16 56h.01M38 56h.01M44 58h.01M46 60h.01M20 62h.01M44 62h.01M46 62h.01M14 64h.01M20 64h.01M22 64h.01M26 64h.01M46 64h.01M14 66h.01M22 66h.01M24 66h.01M26 66h.01M28 66h.01M30 66h.01M30 68h.01M48 68h.01M16 72h.01M28 72h.01M42 72h.01M18 74h.01M42 74h.01M44 74h.01M28 78h.01M56 78h.01M56 80h.01M24 82h.01M26 82h.01M28 82h.01M56 82h.01M24 84h.01M26 84h.01M52 84h.01M54 84h.01M26 86h.01M34 86h.01M20 88h.01M26 88h.01M18 90h.01M44 90h.01M52 90h.01M50 92h.01M52 92h.01M16 94h.01M32 94h.01M34 94h.01M16 98h.01"/>
<path stroke="#95ff6a" d="M24 -2h.01M30 -2h.01M36 -2h.01M24 0h.01M26 0h.01M28 0h.01M30 0h.01M32 0h.01M88 0h.01M34 2h.01M84 4h.01M20 6h.01M36 6h.01M22 8h.01M34 8h.01M36 8h.01M86 8h.01M24 10h.01M26 10h.01M30 10h.01M88 10h.01M28 12h.01M30 12h.01M28 14h.01M28 18h.01M30 20h.01M30 26h.01M34 30h.01M2 32h.01M16 32h.01M32 32h.01M-2 34h.01M2 34h.01M4 34h.01M14 34h.01M18 34h.01M32 34h.01M36 34h.01M6 36h.01M28 36h.01M34 36h.01M20 38h.01M22 40h.01M24 40h.01M26 40h.01M20 42h.01M24 42h.01M28 42h.01M30 42h.01M18 46h.01M34 46h.01M28 48h.01M16 50h.01M30 50h.01M32 52h.01M22 54h.01M22 56h.01M24 56h.01M40 58h.01M42 58h.01M26 62h.01M28 62h.01M16 64h.01M18 64h.01M24 64h.01M28 64h.01M22 68h.01M46 68h.01M24 70h.01M30 70h.01M42 70h.01M30 72h.01M42 76h.01M42 78h.01M58 78h.01M60 78h.01M62 78h.01M30 80h.01M36 80h.01M38 80h.01M40 80h.01M30 82h.01M36 82h.01M58 82h.01M28 84h.01M30 84h.01M32 84h.01M34 84h.01M56 84h.01M32 86h.01M52 86h.01M28 88h.01M34 88h.01M52 88h.01M22 90h.01M24 90h.01M26 90h.01M28 90h.01M36 90h.01M18 92h.01M30 92h.01M32 92h.01M38 92h.01M48 92h.01M16 96h.01M34 96h.01M36 96h.01"/>
<path stroke="#aaff55" d="M22 -2h.01M26 -2h.01M28 -2h.01M38 -2h.01M22 0h.01M40 0h.01M26 2h.01M28 2h.01M30 2h.01M28 4h.01M86 4h.01M88 4h.01M22 6h.01M28 6h.01M86 6h.01M24 8h.01M28 10h.01M92 10h.01M26 12h.01M26 14h.01M28 16h.01M28 20h.01M-2 22h.01M24 22h.01M30 22h.01M0 24h.01M28 24h.01M30 24h.01M16 30h.01M30 30h.01M32 30h.01M4 32h.01M14 32h.01M18 32h.01M30 32h.01M34 32h.01M0 34h.01M6 34h.01M12 34h.01M24 34h.01M34 34h.01M8 36h.01M10 36h.01M24 36h.01M26 36h.01M22 38h.01M24 38h.01M28 38h.01M28 40h.01M30 40h.01M22 42h.01M18 44h.01M26 44h.01M28 44h.01M30 44h.01M28 46h.01M20 48h.01M30 48h.01M34 48h.01M22 50h.01M28 50h.01M18 52h.01M30 52h.01M18 54h.01M24 54h.01M32 54h.01M34 54h.01M36 56h.01M18 58h.01M24 58h.01M26 58h.01M38 58h.01M20 60h.01M26 60h.01M28 60h.01M42 60h.01M44 60h.01M22 62h.01M24 62h.01M30 64h.01M44 64h.01M16 66h.01M20 66h.01M32 66h.01M46 66h.01M16 68h.01M20 68h.01M32 68h.01M42 68h.01M44 68h.01M16 70h.01M32 70h.01M18 72h.01M26 72h.01M20 74h.01M26 76h.01M34 78h.01M36 78h.01M58 80h.01M64 80h.01M60 82h.01M58 84h.01M60 84h.01M62 84h.01M28 86h.01M30 86h.01M54 86h.01M56 86h.01M32 88h.01M54 88h.01M20 90h.01M30 90h.01M32 90h.01M54 90h.01M20 92h.01M28 92h.01M42 92h.01M46 92h.01M18 100h.01"/>
<path stroke="#bfff40" d="M0 -2h.01M88 -2h.01M16 2h.01M24 2h.01M32 2h.01M90 2h.01M98 2h.01M100 2h.01M30 4h.01M34 4h.01M90 4h.01M92 4h.01M18 6h.01M32 6h.01M88 6h.01M90 6h.01M20 8h.01M28 8h.01M88 8h.01M90 8h.01M92 8h.01M94 8h.01M22 10h.01M90 10h.01M24 14h.01M24 16h.01M26 16h.01M26 18h.01M22 20h.01M0 22h.01M22 22h.01M-2 24h.01M26 24h.01M28 26h.01M26 28h.01M30 28h.01M14 30h.01M18 30h.01M28 30h.01M-2 32h.01M0 32h.01M8 34h.01M10 34h.01M20 34h.01M22 34h.01M30 34h.01M20 36h.01M22 36h.01M26 38h.01M20 44h.01M26 46h.01M30 46h.01M32 46h.01M22 48h.01M24 48h.01M26 48h.01M32 48h.01M18 50h.01M20 50h.01M24 50h.01M26 50h.01M20 52h.01M22 52h.01M20 54h.01M30 54h.01M18 56h.01M26 56h.01M32 56h.01M34 56h.01M22 58h.01M28 58h.01M36 58h.01M22 60h.01M24 60h.01M30 62h.01M42 62h.01M32 64h.01M34 64h.01M36 64h.01M18 66h.01M18 68h.01M40 68h.01M34 70h.01M32 72h.01M34 72h.01M40 72h.01M22 74h.01M30 74h.01M32 74h.01M34 74h.01M40 74h.01M34 76h.01M40 76h.01M30 78h.01M38 78h.01M40 78h.01M34 82h.01M62 82h.01M64 82h.01M58 86h.01M30 88h.01M56 88h.01M34 90h.01M56 90h.01M22 92h.01M26 92h.01M34 92h.01M54 92h.01M30 94h.01M36 94h.01M42 94h.01M52 94h.01"/>
<path stroke="#d5ff2a" d="M2 -2h.01M6 -2h.01M20 -2h.01M94 -2h.01M98 -2h.01M0 0h.01M14 0h.01M16 0h.01M20 0h.01M94 0h.01M100 0h.01M-2 2h.01M14 2h.01M18 2h.01M22 2h.01M-2 4h.01M16 4h.01M18 4h.01M20 4h.01M22 4h.01M24 4h.01M26 4h.01M94 4h.01M96 4h.01M0 6h.01M2 6h.01M4 6h.01M24 6h.01M48 6h.01M92 6h.01M4 8h.01M26 8h.01M0 12h.01M2 12h.01M24 12h.01M0 14h.01M18 14h.01M22 14h.01M-2 16h.01M-2 18h.01M24 18h.01M-2 20h.01M20 20h.01M24 20h.01M26 20h.01M26 22h.01M28 22h.01M22 24h.01M24 24h.01M0 26h.01M2 26h.01M4 26h.01M24 26h.01M26 26h.01M10 28h.01M12 28h.01M28 28h.01M0 30h.01M2 30h.01M12 30h.01M6 32h.01M12 32h.01M20 32h.01M22 32h.01M22 44h.01M24 44h.01M20 46h.01M22 46h.01M24 46h.01M24 52h.01M28 52h.01M26 54h.01M20 56h.01M28 56h.01M30 56h.01M20 58h.01M30 58h.01M34 58h.01M30 60h.01M32 60h.01M34 60h.01M36 60h.01M38 60h.01M40 60h.01M32 62h.01M34 62h.01M36 62h.01M38 64h.01M34 66h.01M36 66h.01M38 66h.01M34 68h.01M36 68h.01M38 68h.01M18 70h.01M22 70h.01M36 70h.01M38 70h.01M40 70h.01M20 72h.01M24 72h.01M36 72h.01M38 72h.01M24 74h.01M28 74h.01M36 74h.01M38 74h.01M28 76h.01M32 76h.01M36 76h.01M38 76h.01M32 78h.01M34 80h.01M60 80h.01M62 80h.01M32 82h.01M60 86h.01M62 86h.01M24 92h.01M36 92h.01M44 92h.01M56 92h.01M18 94h.01M22 94h.01M24 94h.01M44 94h.01M54 94h.01M26 96h.01M32 96h.01M18 98h.01M36 98h.01M38 98h.01M26 104h.01"/>
<path stroke="#eaff15" d="M4 -2h.01M8 -2h.01M14 -2h.01M16 -2h.01M90 -2h.01M92 -2h.01M96 -2h.01M2 0h.01M12 0h.01M18 0h.01M90 0h.01M92 0h.01M96 0h.01M98 0h.01M0 2h.01M20 2h.01M92 2h.01M94 2h.01M96 2h.01M0 4h.01M14 4h.01M32 4h.01M16 6h.01M26 6h.01M34 6h.01M94 6h.01M2 8h.01M6 8h.01M18 8h.01M96 8h.01M0 10h.01M12 10h.01M14 10h.01M12 12h.01M14 12h.01M16 12h.01M2 14h.01M4 14h.01M14 14h.01M16 14h.01M20 14h.01M0 16h.01M18 16h.01M22 16h.01M0 18h.01M20 18h.01M22 18h.01M0 20h.01M2 22h.01M20 22h.01M20 24h.01M-2 26h.01M6 26h.01M10 26h.01M22 26h.01M-2 28h.01M4 28h.01M6 28h.01M8 28h.01M14 28h.01M16 28h.01M24 28h.01M-2 30h.01M4 30h.01M10 30h.01M8 32h.01M10 32h.01M26 52h.01M28 54h.01M32 58h.01M38 62h.01M42 64h.01M44 66h.01M20 70h.01M22 72h.01M26 74h.01M30 76h.01M32 80h.01M58 88h.01M60 88h.01M58 90h.01M58 92h.01M20 94h.01M26 94h.01M28 94h.01M38 94h.01M40 94h.01M46 94h.01M18 96h.01M24 96h.01M28 96h.01M38 96h.01M28 98h.01M24 102h.01"/>
<path stroke="#ffff00" d="M10 -2h.01M12 -2h.01M18 -2h.01M4 0h.01M6 0h.01M8 0h.01M10 0h.01M12 2h.01M2 4h.01M-2 6h.01M6 6h.01M14 6h.01M96 6h.01M0 8h.01M8 8h.01M10 8h.01M12 8h.01M14 8h.01M16 8h.01M-2 10h.01M2 10h.01M4 10h.01M6 10h.01M8 10h.01M10 10h.01M16 10h.01M20 10h.01M-2 12h.01M4 12h.01M18 12h.01M20 12h.01M22 12h.01M-2 14h.01M4 16h.01M6 16h.01M16 16h.01M20 16h.01M18 18h.01M2 20h.01M18 20h.01M2 24h.01M8 24h.01M8 26h.01M12 26h.01M20 26h.01M0 28h.01M2 28h.01M18 28h.01M6 30h.01M20 30h.01M22 30h.01M40 62h.01M40 64h.01M40 66h.01M42 66h.01M60 90h.01M60 92h.01M48 94h.01M50 94h.01M56 94h.01M58 94h.01M30 96h.01M52 96h.01M54 96h.01M26 98h.01M30 98h.01M32 98h.01M34 98h.01M20 100h.01M22 100h.01M32 100h.01M26 102h.01M28 106h.01"/>
<path stroke="#ffea00" d="M2 2h.01M4 2h.01M6 2h.01M8 2h.01M10 2h.01M4 4h.01M12 4h.01M8 6h.01M12 6h.01M-2 8h.01M18 10h.01M6 12h.01M8 12h.01M10 12h.01M6 14h.01M8 14h.01M12 14h.01M2 16h.01M8 16h.01M2 18h.01M6 18h.01M14 18h.01M16 18h.01M4 20h.01M12 20h.01M14 20h.01M16 20h.01M16 22h.01M18 22h.01M10 24h.01M16 24h.01M18 24h.01M14 26h.01M16 26h.01M18 26h.01M20 28h.01M22 28h.01M8 30h.01M20 96h.01M22 96h.01M42 96h.01M44 96h.01M56 96h.01M20 98h.01M22 98h.01M24 98h.01M40 98h.01M54 98h.01M56 98h.01M24 100h.01M26 100h.01M28 100h.01M30 100h.01M34 100h.01M32 102h.01M34 102h.01M28 104h.01M54 108h.01"/>
<path stroke="#ffd500" d="M40 -2h.01M6 4h.01M8 4h.01M10 6h.01M10 14h.01M14 16h.01M4 18h.01M10 22h.01M12 22h.01M14 22h.01M6 24h.01M12 24h.01M14 24h.01M40 96h.01M46 96h.01M48 96h.01M50 96h.01M58 96h.01M36 100h.01M38 100h.01M56 100h.01M28 102h.01M30 102h.01M32 104h.01M52 112h.01"/>
<path stroke="#ffbf00" d="M10 4h.01M10 16h.01M42 98h.01M50 98h.01M40 100h.01M36 102h.01M30 104h.01M34 104h.01M30 106h.01"/>
<path stroke="#ffaa00" d="M12 16h.01M8 18h.01M10 18h.01M12 18h.01M6 20h.01M8 20h.01M10 20h.01M4 22h.01M6 22h.01M8 22h.01M4 24h.01M44 98h.01M46 98h.01M48 98h.01M52 110h.01M50 112h.01"/>
<path stroke="#ff9500" d="M24 30h.01M26 30h.01M24 32h.01M26 32h.01M28 32h.01M26 34h.01M28 34h.01M38 102h.01M40 102h.01M36 104h.01M48 110h.01M50 110h.01M48 112h.01"/>
<path stroke="#ff8000" d="M42 -2h.01M44 -2h.01M42 0h.01M44 0h.01M46 0h.01M44 2h.01M46 2h.01M48 2h.01M46 4h.01M48 4h.01M50 4h.01M50 6h.01M42 100h.01M46 100h.01M48 100h.01M42 102h.01M38 104h.01M40 104h.01M42 104h.01M44 104h.01M32 106h.01M34 106h.01M36 106h.01M42 106h.01M44 108h.01M46 108h.01M48 108h.01M50 108h.01"/>
<path stroke="#ff6a00" d="M52 98h.01M44 100h.01M44 102h.01M46 102h.01M56 102h.01M46 104h.01M38 106h.01M40 106h.01M44 106h.01M48 106h.01M32 108h.01M42 108h.01M46 110h.01"/>
<path stroke="#ff5500" d="M46 106h.01M36 108h.01M38 108h.01M52 108h.01M46 112h.01"/>
<path stroke="#ff4000" d="M48 102h.01M48 104h.01M34 108h.01M40 108h.01M36 110h.01"/>
<path stroke="#ff1500" d="M38 110h.01M40 110h.01M42 110h.01M44 110h.01M42 112h.01M44 112h.01"/>
<path stroke="#ff0000" d="M50 100h.01M52 100h.01M54 100h.01M50 102h.01M52 102h.01M54 102h.01M50 104h.01M52 104h.01M54 104h.01M50 106h.01M52 106h.01M54 106h.01"/>
</g>
<use href="#st"/>
</g>
<rect x="196.0" y="96.8" width="233.7" height="212.5" fill="none" stroke="#101010" stroke-width="1.0"/>
<text x="215.80" y="76.60" font-size="12.72" font-weight="bold" fill="#262626" stroke="#262626" stroke-width="0.31" textLength="25.05" lengthAdjust="spacingAndGlyphs" >100</text>
<circle cx="243.85" cy="64.60" r="1.35" fill="none" stroke="#262626" stroke-width="0.9"/>
<text x="251.45" y="76.60" font-size="12.72" font-weight="bold" fill="#262626" stroke="#262626" stroke-width="0.31" textLength="13.24" lengthAdjust="spacingAndGlyphs" >W</text>
<text x="284.60" y="76.60" font-size="12.72" font-weight="bold" fill="#262626" stroke="#262626" stroke-width="0.31" textLength="16.70" lengthAdjust="spacingAndGlyphs" >90</text>
<circle cx="304.30" cy="64.60" r="1.35" fill="none" stroke="#262626" stroke-width="0.9"/>
<text x="311.90" y="76.60" font-size="12.72" font-weight="bold" fill="#262626" stroke="#262626" stroke-width="0.31" textLength="13.24" lengthAdjust="spacingAndGlyphs" >W</text>
<text x="348.50" y="76.60" font-size="12.72" font-weight="bold" fill="#262626" stroke="#262626" stroke-width="0.31" textLength="16.70" lengthAdjust="spacingAndGlyphs" >80</text>
<circle cx="368.20" cy="64.60" r="1.35" fill="none" stroke="#262626" stroke-width="0.9"/>
<text x="375.80" y="76.60" font-size="12.72" font-weight="bold" fill="#262626" stroke="#262626" stroke-width="0.31" textLength="13.24" lengthAdjust="spacingAndGlyphs" >W</text>
<text x="412.00" y="76.60" font-size="12.72" font-weight="bold" fill="#262626" stroke="#262626" stroke-width="0.31" textLength="16.70" lengthAdjust="spacingAndGlyphs" >70</text>
<circle cx="431.70" cy="64.60" r="1.35" fill="none" stroke="#262626" stroke-width="0.9"/>
<text x="439.30" y="76.60" font-size="12.72" font-weight="bold" fill="#262626" stroke="#262626" stroke-width="0.31" textLength="13.24" lengthAdjust="spacingAndGlyphs" >W</text>
<text x="146.30" y="112.40" font-size="12.72" font-weight="bold" fill="#262626" stroke="#262626" stroke-width="0.31" textLength="16.70" lengthAdjust="spacingAndGlyphs" >48</text>
<circle cx="167.90" cy="99.90" r="1.35" fill="none" stroke="#262626" stroke-width="0.9"/>
<text x="176.00" y="112.40" font-size="12.72" font-weight="bold" fill="#262626" stroke="#262626" stroke-width="0.31" textLength="10.04" lengthAdjust="spacingAndGlyphs" >N</text>
<text x="146.30" y="130.50" font-size="12.72" font-weight="bold" fill="#262626" stroke="#262626" stroke-width="0.31" textLength="16.70" lengthAdjust="spacingAndGlyphs" >46</text>
<circle cx="167.90" cy="118.00" r="1.35" fill="none" stroke="#262626" stroke-width="0.9"/>
<text x="176.00" y="130.50" font-size="12.72" font-weight="bold" fill="#262626" stroke="#262626" stroke-width="0.31" textLength="10.04" lengthAdjust="spacingAndGlyphs" >N</text>
<text x="146.30" y="147.60" font-size="12.72" font-weight="bold" fill="#262626" stroke="#262626" stroke-width="0.31" textLength="16.70" lengthAdjust="spacingAndGlyphs" >44</text>
<circle cx="167.90" cy="135.10" r="1.35" fill="none" stroke="#262626" stroke-width="0.9"/>
<text x="176.00" y="147.60" font-size="12.72" font-weight="bold" fill="#262626" stroke="#262626" stroke-width="0.31" textLength="10.04" lengthAdjust="spacingAndGlyphs" >N</text>
<text x="146.30" y="166.20" font-size="12.72" font-weight="bold" fill="#262626" stroke="#262626" stroke-width="0.31" textLength="16.70" lengthAdjust="spacingAndGlyphs" >42</text>
<circle cx="167.90" cy="153.70" r="1.35" fill="none" stroke="#262626" stroke-width="0.9"/>
<text x="176.00" y="166.20" font-size="12.72" font-weight="bold" fill="#262626" stroke="#262626" stroke-width="0.31" textLength="10.04" lengthAdjust="spacingAndGlyphs" >N</text>
<text x="146.30" y="182.20" font-size="12.72" font-weight="bold" fill="#262626" stroke="#262626" stroke-width="0.31" textLength="16.70" lengthAdjust="spacingAndGlyphs" >40</text>
<circle cx="167.90" cy="169.70" r="1.35" fill="none" stroke="#262626" stroke-width="0.9"/>
<text x="176.00" y="182.20" font-size="12.72" font-weight="bold" fill="#262626" stroke="#262626" stroke-width="0.31" textLength="10.04" lengthAdjust="spacingAndGlyphs" >N</text>
<text x="146.30" y="197.50" font-size="12.72" font-weight="bold" fill="#262626" stroke="#262626" stroke-width="0.31" textLength="16.70" lengthAdjust="spacingAndGlyphs" >38</text>
<circle cx="167.90" cy="185.00" r="1.35" fill="none" stroke="#262626" stroke-width="0.9"/>
<text x="176.00" y="197.50" font-size="12.72" font-weight="bold" fill="#262626" stroke="#262626" stroke-width="0.31" textLength="10.04" lengthAdjust="spacingAndGlyphs" >N</text>
<text x="146.30" y="214.50" font-size="12.72" font-weight="bold" fill="#262626" stroke="#262626" stroke-width="0.31" textLength="16.70" lengthAdjust="spacingAndGlyphs" >36</text>
<circle cx="167.90" cy="202.00" r="1.35" fill="none" stroke="#262626" stroke-width="0.9"/>
<text x="176.00" y="214.50" font-size="12.72" font-weight="bold" fill="#262626" stroke="#262626" stroke-width="0.31" textLength="10.04" lengthAdjust="spacingAndGlyphs" >N</text>
<text x="146.30" y="228.40" font-size="12.72" font-weight="bold" fill="#262626" stroke="#262626" stroke-width="0.31" textLength="16.70" lengthAdjust="spacingAndGlyphs" >34</text>
<circle cx="167.90" cy="215.90" r="1.35" fill="none" stroke="#262626" stroke-width="0.9"/>
<text x="176.00" y="228.40" font-size="12.72" font-weight="bold" fill="#262626" stroke="#262626" stroke-width="0.31" textLength="10.04" lengthAdjust="spacingAndGlyphs" >N</text>
<text x="146.30" y="245.40" font-size="12.72" font-weight="bold" fill="#262626" stroke="#262626" stroke-width="0.31" textLength="16.70" lengthAdjust="spacingAndGlyphs" >32</text>
<circle cx="167.90" cy="232.90" r="1.35" fill="none" stroke="#262626" stroke-width="0.9"/>
<text x="176.00" y="245.40" font-size="12.72" font-weight="bold" fill="#262626" stroke="#262626" stroke-width="0.31" textLength="10.04" lengthAdjust="spacingAndGlyphs" >N</text>
<text x="146.30" y="259.60" font-size="12.72" font-weight="bold" fill="#262626" stroke="#262626" stroke-width="0.31" textLength="16.70" lengthAdjust="spacingAndGlyphs" >30</text>
<circle cx="167.90" cy="247.10" r="1.35" fill="none" stroke="#262626" stroke-width="0.9"/>
<text x="176.00" y="259.60" font-size="12.72" font-weight="bold" fill="#262626" stroke="#262626" stroke-width="0.31" textLength="10.04" lengthAdjust="spacingAndGlyphs" >N</text>
<text x="146.30" y="272.70" font-size="12.72" font-weight="bold" fill="#262626" stroke="#262626" stroke-width="0.31" textLength="16.70" lengthAdjust="spacingAndGlyphs" >28</text>
<circle cx="167.90" cy="260.20" r="1.35" fill="none" stroke="#262626" stroke-width="0.9"/>
<text x="176.00" y="272.70" font-size="12.72" font-weight="bold" fill="#262626" stroke="#262626" stroke-width="0.31" textLength="10.04" lengthAdjust="spacingAndGlyphs" >N</text>
<text x="146.30" y="287.30" font-size="12.72" font-weight="bold" fill="#262626" stroke="#262626" stroke-width="0.31" textLength="16.70" lengthAdjust="spacingAndGlyphs" >26</text>
<circle cx="167.90" cy="274.80" r="1.35" fill="none" stroke="#262626" stroke-width="0.9"/>
<text x="176.00" y="287.30" font-size="12.72" font-weight="bold" fill="#262626" stroke="#262626" stroke-width="0.31" textLength="10.04" lengthAdjust="spacingAndGlyphs" >N</text>
<text x="146.30" y="301.40" font-size="12.72" font-weight="bold" fill="#262626" stroke="#262626" stroke-width="0.31" textLength="16.70" lengthAdjust="spacingAndGlyphs" >24</text>
<circle cx="167.90" cy="288.90" r="1.35" fill="none" stroke="#262626" stroke-width="0.9"/>
<text x="176.00" y="301.40" font-size="12.72" font-weight="bold" fill="#262626" stroke="#262626" stroke-width="0.31" textLength="10.04" lengthAdjust="spacingAndGlyphs" >N</text>
<text x="146.30" y="314.20" font-size="12.72" font-weight="bold" fill="#262626" stroke="#262626" stroke-width="0.31" textLength="16.70" lengthAdjust="spacingAndGlyphs" >22</text>
<circle cx="167.90" cy="301.70" r="1.35" fill="none" stroke="#262626" stroke-width="0.9"/>
<text x="176.00" y="314.20" font-size="12.72" font-weight="bold" fill="#262626" stroke="#262626" stroke-width="0.31" textLength="10.04" lengthAdjust="spacingAndGlyphs" >N</text>
<rect x="441.3" y="95.1" width="23.50" height="215.40" fill="url(#jet)" stroke="#1a1a1a" stroke-width="0.8"/>
<path d="M462.50 310.50H464.80" stroke="#1a1a1a" stroke-width="0.8"/>
<text x="473.80" y="317.80" font-size="21.19" font-weight="bold" fill="#262626" stroke="#262626" stroke-width="0.52" textLength="13.92" lengthAdjust="spacingAndGlyphs" >0</text>
<path d="M462.50 264.13H464.80" stroke="#1a1a1a" stroke-width="0.8"/>
<text x="473.80" y="271.43" font-size="21.19" font-weight="bold" fill="#262626" stroke="#262626" stroke-width="0.52" textLength="13.92" lengthAdjust="spacingAndGlyphs" >1</text>
<path d="M462.50 217.76H464.80" stroke="#1a1a1a" stroke-width="0.8"/>
<text x="473.80" y="225.06" font-size="21.19" font-weight="bold" fill="#262626" stroke="#262626" stroke-width="0.52" textLength="13.92" lengthAdjust="spacingAndGlyphs" >2</text>
<path d="M462.50 171.38H464.80" stroke="#1a1a1a" stroke-width="0.8"/>
<text x="473.80" y="178.68" font-size="21.19" font-weight="bold" fill="#262626" stroke="#262626" stroke-width="0.52" textLength="13.92" lengthAdjust="spacingAndGlyphs" >3</text>
<path d="M462.50 125.01H464.80" stroke="#1a1a1a" stroke-width="0.8"/>
<text x="473.80" y="132.31" font-size="21.19" font-weight="bold" fill="#262626" stroke="#262626" stroke-width="0.52" textLength="13.92" lengthAdjust="spacingAndGlyphs" >4</text>
<text x="123.04" y="341.80" font-size="24.48" font-weight="bold" fill="#262626" stroke="#262626" stroke-width="0.60" textLength="120.43" lengthAdjust="spacingAndGlyphs" >SAT+RAP</text><text x="251.51" y="341.80" font-size="24.48" font-weight="bold" fill="#262626" stroke="#262626" stroke-width="0.60" textLength="48.22" lengthAdjust="spacingAndGlyphs" >850</text><text x="307.77" y="341.80" font-size="24.48" font-weight="bold" fill="#262626" stroke="#262626" stroke-width="0.60" textLength="48.34" lengthAdjust="spacingAndGlyphs" >hPa</text><text x="364.16" y="341.80" font-size="24.48" font-weight="bold" fill="#262626" stroke="#262626" stroke-width="0.60" textLength="40.78" lengthAdjust="spacingAndGlyphs" >MR</text><text x="412.97" y="341.80" font-size="24.48" font-weight="bold" fill="#262626" stroke="#262626" stroke-width="0.60" textLength="77.98" lengthAdjust="spacingAndGlyphs" >(g/kg)</text>
<g transform="translate(617.0,96.8) scale(1.00000,1.00000)">
<g fill="none" stroke-linecap="round" stroke-width="3.7">
<path stroke="#000080" d="M74 -2h.01M76 -2h.01M80 -2h.01M78 0h.01M80 0h.01M76 8h.01M78 8h.01M70 12h.01M72 12h.01M70 14h.01M72 14h.01M74 14h.01M76 14h.01M72 16h.01M74 16h.01M76 16h.01M78 16h.01M72 18h.01M74 18h.01M76 18h.01M74 20h.01M76 20h.01M58 28h.01"/>
<path stroke="#000095" d="M78 -2h.01M82 -2h.01M76 0h.01M82 0h.01M78 2h.01M80 2h.01M80 4h.01M94 4h.01M96 4h.01M76 6h.01M94 6h.01M96 6h.01M86 10h.01M66 12h.01M74 12h.01M68 14h.01M78 14h.01M70 16h.01M80 16h.01M80 18h.01M78 20h.01M80 20h.01M82 20h.01M70 22h.01M72 22h.01M74 22h.01M76 22h.01M78 22h.01M80 22h.01M70 24h.01M72 24h.01M74 24h.01M76 24h.01M54 26h.01M70 26h.01M72 26h.01M74 26h.01M76 26h.01M56 28h.01M60 28h.01M70 28h.01M72 28h.01M74 28h.01M56 30h.01M58 30h.01M60 30h.01M62 30h.01M70 30h.01M72 30h.01M74 30h.01M64 32h.01"/>
<path stroke="#0000aa" d="M72 -2h.01M74 0h.01M90 0h.01M82 2h.01M92 2h.01M94 2h.01M98 2h.01M100 2h.01M74 4h.01M78 4h.01M82 4h.01M92 4h.01M78 6h.01M80 6h.01M82 6h.01M80 8h.01M86 8h.01M96 8h.01M70 10h.01M74 10h.01M76 10h.01M78 10h.01M80 10h.01M82 10h.01M84 10h.01M88 10h.01M64 12h.01M68 12h.01M76 12h.01M80 12h.01M86 12h.01M66 14h.01M80 14h.01M82 14h.01M84 14h.01M78 18h.01M82 18h.01M72 20h.01M82 22h.01M54 24h.01M66 24h.01M68 24h.01M78 24h.01M80 24h.01M82 24h.01M56 26h.01M58 26h.01M66 26h.01M68 26h.01M78 26h.01M80 26h.01M54 28h.01M62 28h.01M66 28h.01M68 28h.01M76 28h.01M78 28h.01M64 30h.01M68 30h.01M76 30h.01M78 30h.01M58 32h.01M60 32h.01M62 32h.01M66 32h.01M68 32h.01M70 32h.01M50 34h.01M52 34h.01M58 34h.01M60 34h.01M64 34h.01M66 34h.01M68 34h.01M70 34h.01M58 36h.01M60 36h.01M68 48h.01M70 48h.01M70 50h.01"/>
<path stroke="#0000bf" d="M88 -2h.01M90 -2h.01M92 -2h.01M94 -2h.01M84 0h.01M88 0h.01M92 0h.01M74 2h.01M76 2h.01M84 2h.01M88 2h.01M90 2h.01M96 2h.01M68 4h.01M72 4h.01M84 4h.01M86 4h.01M88 4h.01M68 6h.01M84 6h.01M86 6h.01M88 6h.01M92 6h.01M68 8h.01M82 8h.01M84 8h.01M88 8h.01M92 8h.01M94 8h.01M64 10h.01M66 10h.01M68 10h.01M94 10h.01M78 12h.01M82 12h.01M84 12h.01M88 12h.01M92 12h.01M94 12h.01M64 14h.01M86 14h.01M68 16h.01M82 16h.01M84 16h.01M70 18h.01M68 20h.01M70 20h.01M84 20h.01M64 22h.01M66 22h.01M68 22h.01M64 24h.01M52 26h.01M60 26h.01M62 26h.01M64 26h.01M82 26h.01M64 28h.01M80 28h.01M54 30h.01M66 30h.01M80 30h.01M50 32h.01M52 32h.01M54 32h.01M56 32h.01M72 32h.01M76 32h.01M78 32h.01M54 34h.01M56 34h.01M62 34h.01M72 34h.01M50 36h.01M52 36h.01M54 36h.01M62 36h.01M68 36h.01M60 38h.01M68 42h.01M68 44h.01M70 44h.01M68 46h.01M70 46h.01M68 50h.01M72 52h.01M70 66h.01M40 80h.01"/>
<path stroke="#0000d4" d="M62 -2h.01M64 -2h.01M96 -2h.01M98 -2h.01M64 0h.01M72 0h.01M86 0h.01M94 0h.01M96 0h.01M98 0h.01M100 0h.01M72 2h.01M86 2h.01M66 4h.01M70 4h.01M76 4h.01M90 4h.01M66 6h.01M90 6h.01M64 8h.01M66 8h.01M90 8h.01M62 10h.01M90 10h.01M92 10h.01M62 12h.01M90 12h.01M92 14h.01M86 16h.01M68 18h.01M84 18h.01M86 18h.01M66 20h.01M86 20h.01M54 22h.01M62 22h.01M84 22h.01M86 22h.01M52 24h.01M56 24h.01M62 24h.01M84 26h.01M52 28h.01M82 28h.01M52 30h.01M82 30h.01M74 32h.01M56 36h.01M64 36h.01M66 36h.01M70 36h.01M72 36h.01M54 38h.01M56 38h.01M58 38h.01M62 38h.01M68 38h.01M70 38h.01M72 38h.01M56 40h.01M58 40h.01M60 40h.01M68 40h.01M70 40h.01M56 42h.01M58 42h.01M60 42h.01M66 42h.01M70 42h.01M58 44h.01M58 46h.01M60 46h.01M66 46h.01M46 48h.01M48 48h.01M50 48h.01M66 48h.01M72 48h.01M52 50h.01M72 50h.01M62 52h.01M70 52h.01M60 54h.01M62 54h.01M72 54h.01M74 54h.01M62 56h.01M68 64h.01M70 64h.01M68 66h.01M70 68h.01M46 70h.01M64 70h.01M66 70h.01M50 78h.01M40 82h.01M42 82h.01M46 86h.01"/>
<path stroke="#0000ea" d="M70 -2h.01M84 -2h.01M86 -2h.01M66 0h.01M66 2h.01M68 2h.01M70 2h.01M60 4h.01M62 4h.01M60 6h.01M62 6h.01M64 6h.01M62 8h.01M60 10h.01M60 12h.01M60 14h.01M62 14h.01M88 14h.01M90 14h.01M62 16h.01M64 16h.01M66 16h.01M66 18h.01M88 18h.01M60 20h.01M62 20h.01M64 20h.01M88 20h.01M52 22h.01M60 22h.01M88 22h.01M50 24h.01M58 24h.01M60 24h.01M84 24h.01M50 28h.01M50 30h.01M84 30h.01M80 32h.01M82 32h.01M84 32h.01M48 34h.01M74 34h.01M76 34h.01M78 34h.01M84 34h.01M74 36h.01M50 38h.01M52 38h.01M64 38h.01M66 38h.01M74 38h.01M54 40h.01M62 40h.01M64 40h.01M66 40h.01M72 40h.01M74 40h.01M54 42h.01M56 44h.01M60 44h.01M62 44h.01M66 44h.01M46 46h.01M48 46h.01M50 46h.01M56 46h.01M62 46h.01M72 46h.01M52 48h.01M58 48h.01M60 48h.01M46 50h.01M48 50h.01M50 50h.01M54 50h.01M60 50h.01M62 50h.01M64 50h.01M66 50h.01M48 52h.01M50 52h.01M60 52h.01M64 52h.01M74 52h.01M50 54h.01M58 54h.01M64 54h.01M76 54h.01M60 56h.01M64 56h.01M74 56h.01M60 62h.01M62 62h.01M64 62h.01M72 64h.01M54 66h.01M54 68h.01M56 68h.01M64 68h.01M44 70h.01M48 70h.01M56 70h.01M58 70h.01M46 72h.01M48 72h.01M66 72h.01M68 72h.01M48 74h.01M48 76h.01M50 76h.01M38 80h.01M42 80h.01M50 80h.01M38 82h.01M44 82h.01M44 84h.01M44 86h.01M44 88h.01M46 88h.01M48 88h.01"/>
<path stroke="#0000ff" d="M60 -2h.01M66 -2h.01M62 0h.01M70 0h.01M60 2h.01M62 2h.01M64 2h.01M64 4h.01M60 8h.01M88 16h.01M64 18h.01M58 20h.01M50 22h.01M56 22h.01M58 22h.01M86 24h.01M88 24h.01M50 26h.01M84 28h.01M48 32h.01M80 34h.01M82 34h.01M76 36h.01M78 36h.01M52 40h.01M62 42h.01M64 42h.01M72 42h.01M48 44h.01M54 44h.01M64 44h.01M72 44h.01M44 46h.01M52 46h.01M54 46h.01M64 46h.01M54 48h.01M56 48h.01M62 48h.01M64 48h.01M74 48h.01M56 50h.01M58 50h.01M74 50h.01M46 52h.01M52 52h.01M56 52h.01M58 52h.01M68 52h.01M42 54h.01M48 54h.01M52 54h.01M56 54h.01M70 54h.01M50 56h.01M52 56h.01M56 56h.01M58 56h.01M66 56h.01M68 56h.01M72 56h.01M60 58h.01M62 58h.01M64 58h.01M66 58h.01M68 58h.01M70 58h.01M72 58h.01M74 58h.01M64 60h.01M72 60h.01M58 62h.01M66 62h.01M68 62h.01M50 64h.01M54 64h.01M60 64h.01M62 64h.01M64 64h.01M66 64h.01M52 66h.01M56 66h.01M46 68h.01M58 68h.01M60 68h.01M62 68h.01M66 68h.01M68 68h.01M50 70h.01M62 70h.01M68 70h.01M44 72h.01M50 72h.01M56 72h.01M58 72h.01M60 72h.01M64 72h.01M46 74h.01M50 74h.01M56 74h.01M58 74h.01M60 74h.01M54 76h.01M56 76h.01M60 76h.01M62 76h.01M38 78h.01M40 78h.01M48 78h.01M52 78h.01M52 80h.01M36 82h.01M40 84h.01M42 84h.01M46 84h.01M48 86h.01M42 88h.01"/>
<path stroke="#0015ff" d="M68 -2h.01M60 0h.01M68 0h.01M58 10h.01M58 12h.01M58 14h.01M60 16h.01M90 16h.01M92 16h.01M60 18h.01M62 18h.01M90 18h.01M52 20h.01M54 20h.01M90 20h.01M48 22h.01M48 24h.01M86 26h.01M48 28h.01M86 28h.01M48 30h.01M86 30h.01M48 36h.01M80 36h.01M82 36h.01M84 36h.01M48 38h.01M78 38h.01M50 40h.01M76 40h.01M48 42h.01M52 42h.01M74 42h.01M44 44h.01M46 44h.01M50 44h.01M52 44h.01M74 46h.01M44 48h.01M40 50h.01M44 50h.01M42 52h.01M54 52h.01M66 52h.01M76 52h.01M44 54h.01M54 54h.01M66 54h.01M68 54h.01M42 56h.01M54 56h.01M70 56h.01M56 58h.01M58 58h.01M48 60h.01M58 60h.01M60 60h.01M62 60h.01M66 60h.01M68 60h.01M70 60h.01M48 62h.01M50 62h.01M52 62h.01M54 62h.01M56 62h.01M70 62h.01M72 62h.01M52 64h.01M56 64h.01M58 64h.01M42 66h.01M50 66h.01M58 66h.01M60 66h.01M62 66h.01M64 66h.01M66 66h.01M44 68h.01M48 68h.01M50 68h.01M52 68h.01M42 70h.01M54 70h.01M60 70h.01M42 72h.01M62 72h.01M44 74h.01M52 74h.01M54 74h.01M62 74h.01M38 76h.01M46 76h.01M52 76h.01M58 76h.01M36 78h.01M56 78h.01M36 80h.01M44 80h.01M46 82h.01M52 82h.01M54 82h.01M36 84h.01M38 84h.01M54 84h.01M38 86h.01M40 86h.01M42 86h.01M50 88h.01M42 90h.01M44 90h.01M46 90h.01M50 90h.01"/>
<path stroke="#002aff" d="M58 4h.01M58 6h.01M58 8h.01M56 14h.01M56 16h.01M58 16h.01M56 18h.01M58 18h.01M50 20h.01M56 20h.01M90 22h.01M48 26h.01M46 30h.01M76 38h.01M80 38h.01M82 38h.01M48 40h.01M78 40h.01M82 40h.01M46 42h.01M50 42h.01M76 42h.01M78 42h.01M80 42h.01M42 44h.01M74 44h.01M76 46h.01M76 48h.01M42 50h.01M76 50h.01M40 52h.01M44 52h.01M40 54h.01M46 54h.01M40 56h.01M44 56h.01M46 56h.01M48 56h.01M42 58h.01M44 58h.01M46 58h.01M48 58h.01M50 58h.01M52 58h.01M54 58h.01M46 60h.01M50 60h.01M56 60h.01M46 62h.01M40 66h.01M42 68h.01M32 70h.01M52 70h.01M30 72h.01M32 72h.01M34 72h.01M36 72h.01M38 72h.01M40 72h.01M52 72h.01M54 72h.01M34 74h.01M36 74h.01M38 74h.01M42 74h.01M64 74h.01M66 74h.01M36 76h.01M40 76h.01M64 76h.01M42 78h.01M46 78h.01M54 78h.01M58 78h.01M60 78h.01M62 78h.01M64 78h.01M32 80h.01M34 80h.01M48 80h.01M54 80h.01M56 80h.01M32 82h.01M34 82h.01M56 82h.01M34 84h.01M48 84h.01M56 84h.01M50 86h.01M38 88h.01M40 88h.01M40 90h.01M48 90h.01M52 90h.01M38 92h.01M40 92h.01"/>
<path stroke="#0040ff" d="M58 2h.01M56 10h.01M56 12h.01M54 14h.01M54 16h.01M54 18h.01M30 20h.01M32 20h.01M48 20h.01M46 22h.01M88 26h.01M46 28h.01M46 32h.01M46 34h.01M46 36h.01M46 38h.01M44 40h.01M46 40h.01M80 40h.01M40 42h.01M42 42h.01M44 42h.01M40 44h.01M76 44h.01M42 46h.01M40 48h.01M42 48h.01M78 48h.01M38 50h.01M78 50h.01M40 58h.01M52 60h.01M54 60h.01M34 64h.01M36 64h.01M40 64h.01M48 64h.01M44 66h.01M36 68h.01M30 70h.01M34 70h.01M36 70h.01M38 70h.01M40 70h.01M24 72h.01M24 74h.01M26 74h.01M30 74h.01M32 74h.01M40 74h.01M28 76h.01M30 76h.01M34 76h.01M42 76h.01M44 76h.01M28 78h.01M30 78h.01M32 78h.01M34 78h.01M44 78h.01M66 78h.01M30 80h.01M46 80h.01M58 80h.01M60 80h.01M30 82h.01M48 82h.01M50 82h.01M58 82h.01M30 84h.01M32 84h.01M52 84h.01M58 84h.01M32 86h.01M34 86h.01M36 86h.01M52 86h.01M54 86h.01M56 86h.01M58 86h.01M60 86h.01M62 86h.01M32 88h.01M34 88h.01M36 88h.01M52 88h.01M58 88h.01M34 90h.01M36 90h.01M38 90h.01M36 92h.01M42 92h.01M44 92h.01M46 92h.01M38 94h.01M40 94h.01M38 96h.01M40 96h.01"/>
<path stroke="#0055ff" d="M58 -2h.01M58 0h.01M20 8h.01M56 8h.01M20 10h.01M20 12h.01M54 12h.01M22 14h.01M52 16h.01M28 18h.01M50 18h.01M52 18h.01M28 20h.01M46 20h.01M46 24h.01M44 34h.01M44 36h.01M44 38h.01M42 40h.01M78 44h.01M80 44h.01M40 46h.01M78 46h.01M0 48h.01M2 48h.01M38 48h.01M2 50h.01M4 50h.01M38 52h.01M38 56h.01M38 58h.01M26 60h.01M28 60h.01M38 60h.01M44 60h.01M28 62h.01M32 62h.01M34 62h.01M36 62h.01M28 64h.01M30 64h.01M32 64h.01M38 64h.01M42 64h.01M28 66h.01M30 66h.01M38 66h.01M46 66h.01M48 66h.01M20 68h.01M28 68h.01M30 68h.01M32 68h.01M34 68h.01M38 68h.01M40 68h.01M20 70h.01M22 70h.01M28 70h.01M22 72h.01M26 72h.01M28 72h.01M22 74h.01M28 74h.01M24 76h.01M26 76h.01M32 76h.01M66 76h.01M26 78h.01M26 80h.01M28 80h.01M62 80h.01M64 80h.01M-2 82h.01M28 82h.01M60 82h.01M28 84h.01M50 84h.01M60 84h.01M62 84h.01M30 86h.01M30 88h.01M54 88h.01M56 88h.01M60 88h.01M-2 90h.01M32 90h.01M32 92h.01M34 92h.01M50 92h.01M52 92h.01M36 94h.01M42 94h.01M-2 96h.01M0 96h.01"/>
<path stroke="#006aff" d="M56 2h.01M56 4h.01M20 6h.01M22 8h.01M18 10h.01M54 10h.01M18 12h.01M22 12h.01M20 14h.01M24 14h.01M52 14h.01M22 16h.01M24 16h.01M50 16h.01M26 18h.01M30 18h.01M48 18h.01M26 20h.01M34 20h.01M44 20h.01M32 22h.01M46 26h.01M44 28h.01M42 34h.01M42 36h.01M40 40h.01M0 44h.01M38 44h.01M0 46h.01M2 46h.01M38 46h.01M-2 48h.01M4 48h.01M0 50h.01M6 50h.01M36 50h.01M8 52h.01M36 52h.01M38 54h.01M26 58h.01M28 58h.01M36 58h.01M24 60h.01M30 60h.01M32 60h.01M34 60h.01M36 60h.01M40 60h.01M24 62h.01M26 62h.01M30 62h.01M38 62h.01M40 62h.01M44 62h.01M26 64h.01M44 64h.01M46 64h.01M24 66h.01M26 66h.01M32 66h.01M34 66h.01M36 66h.01M16 68h.01M18 68h.01M22 68h.01M24 68h.01M26 68h.01M24 70h.01M26 70h.01M20 72h.01M22 76h.01M24 78h.01M26 82h.01M62 82h.01M-2 84h.01M-2 86h.01M28 86h.01M-2 88h.01M0 88h.01M2 88h.01M4 88h.01M0 90h.01M2 90h.01M30 90h.01M54 90h.01M58 90h.01M60 90h.01M0 92h.01M2 92h.01M30 92h.01M48 92h.01M-2 94h.01M0 94h.01M2 94h.01M34 94h.01M44 94h.01M46 94h.01M48 94h.01M50 94h.01M2 96h.01M42 96h.01M46 96h.01M0 98h.01M28 98h.01M38 98h.01M40 98h.01"/>
<path stroke="#0080ff" d="M56 -2h.01M56 0h.01M56 6h.01M24 8h.01M54 8h.01M22 10h.01M24 10h.01M20 16h.01M26 16h.01M28 16h.01M48 16h.01M22 18h.01M24 18h.01M24 20h.01M28 22h.01M30 22h.01M34 22h.01M44 22h.01M44 24h.01M44 26h.01M44 30h.01M44 32h.01M40 34h.01M42 38h.01M-2 42h.01M0 42h.01M2 42h.01M4 42h.01M38 42h.01M-2 44h.01M-2 46h.01M4 46h.01M-2 50h.01M8 50h.01M10 50h.01M2 52h.01M6 52h.01M10 52h.01M10 54h.01M36 54h.01M24 56h.01M26 56h.01M28 56h.01M34 56h.01M36 56h.01M24 58h.01M30 58h.01M32 58h.01M34 58h.01M22 60h.01M42 60h.01M8 62h.01M10 62h.01M18 62h.01M22 62h.01M42 62h.01M20 64h.01M22 64h.01M24 64h.01M14 66h.01M16 66h.01M18 66h.01M20 66h.01M22 66h.01M14 68h.01M18 70h.01M18 72h.01M20 74h.01M16 76h.01M20 76h.01M2 78h.01M22 78h.01M-2 80h.01M22 80h.01M24 80h.01M24 82h.01M64 82h.01M0 84h.01M20 84h.01M26 84h.01M0 86h.01M2 86h.01M26 86h.01M14 88h.01M26 88h.01M28 88h.01M4 90h.01M6 90h.01M8 90h.01M28 90h.01M56 90h.01M-2 92h.01M4 92h.01M54 92h.01M4 94h.01M24 94h.01M26 94h.01M30 94h.01M32 94h.01M52 94h.01M24 96h.01M26 96h.01M28 96h.01M36 96h.01M44 96h.01M-2 98h.01M2 98h.01M26 98h.01M30 98h.01M42 98h.01M44 98h.01M22 100h.01M28 100h.01M30 100h.01"/>
<path stroke="#0095ff" d="M26 0h.01M22 6h.01M30 6h.01M32 6h.01M18 8h.01M32 8h.01M16 10h.01M26 10h.01M24 12h.01M26 12h.01M52 12h.01M18 14h.01M26 14h.01M50 14h.01M20 18h.01M32 18h.01M22 20h.01M36 20h.01M16 22h.01M18 22h.01M26 22h.01M36 22h.01M18 24h.01M20 24h.01M42 26h.01M40 32h.01M42 32h.01M40 38h.01M-2 40h.01M0 40h.01M2 40h.01M4 40h.01M38 40h.01M6 42h.01M36 42h.01M2 44h.01M4 44h.01M6 44h.01M6 46h.01M36 46h.01M6 48h.01M8 48h.01M10 48h.01M36 48h.01M34 50h.01M0 52h.01M4 52h.01M34 52h.01M8 54h.01M34 54h.01M12 56h.01M30 56h.01M32 56h.01M12 58h.01M6 60h.01M8 60h.01M14 60h.01M16 60h.01M20 60h.01M16 62h.01M20 62h.01M10 64h.01M12 64h.01M14 64h.01M16 64h.01M18 64h.01M12 66h.01M14 70h.01M16 70h.01M16 72h.01M16 74h.01M18 74h.01M8 76h.01M14 76h.01M18 76h.01M0 78h.01M4 78h.01M6 78h.01M14 78h.01M16 78h.01M18 78h.01M20 78h.01M0 80h.01M2 80h.01M6 80h.01M8 80h.01M14 80h.01M16 80h.01M18 80h.01M20 80h.01M0 82h.01M16 82h.01M18 82h.01M20 82h.01M22 82h.01M8 84h.01M18 84h.01M22 84h.01M24 84h.01M12 86h.01M22 86h.01M24 86h.01M6 88h.01M12 88h.01M24 88h.01M14 90h.01M16 90h.01M6 92h.01M28 92h.01M56 92h.01M22 94h.01M28 94h.01M54 94h.01M4 96h.01M22 96h.01M30 96h.01M32 96h.01M34 96h.01M48 96h.01M32 98h.01M34 98h.01M36 98h.01M46 98h.01M0 100h.01M20 100h.01M24 100h.01M26 100h.01M32 100h.01M40 100h.01M24 102h.01M26 102h.01"/>
<path stroke="#00aaff" d="M26 -2h.01M28 -2h.01M26 2h.01M28 2h.01M30 2h.01M54 2h.01M20 4h.01M28 4h.01M30 4h.01M18 6h.01M34 6h.01M54 6h.01M74 6h.01M16 8h.01M26 8h.01M30 8h.01M52 10h.01M16 12h.01M28 12h.01M34 12h.01M28 14h.01M38 14h.01M46 14h.01M48 14h.01M30 16h.01M40 16h.01M34 18h.01M36 18h.01M42 18h.01M16 20h.01M18 20h.01M20 20h.01M42 20h.01M20 22h.01M22 22h.01M24 22h.01M38 22h.01M42 22h.01M16 24h.01M26 24h.01M28 24h.01M30 24h.01M32 24h.01M38 24h.01M40 24h.01M42 24h.01M20 26h.01M38 34h.01M38 36h.01M40 36h.01M0 38h.01M38 38h.01M36 40h.01M8 44h.01M36 44h.01M8 46h.01M-2 52h.01M12 52h.01M-2 54h.01M2 54h.01M4 54h.01M12 54h.01M24 54h.01M26 54h.01M28 54h.01M10 56h.01M22 56h.01M14 58h.01M22 58h.01M10 60h.01M18 60h.01M10 66h.01M12 68h.01M6 72h.01M14 72h.01M6 74h.01M8 74h.01M14 74h.01M0 76h.01M2 76h.01M4 76h.01M6 76h.01M10 76h.01M12 76h.01M-2 78h.01M8 78h.01M10 78h.01M12 78h.01M4 80h.01M12 80h.01M6 82h.01M8 82h.01M14 82h.01M10 84h.01M16 84h.01M4 86h.01M10 86h.01M14 86h.01M8 88h.01M10 88h.01M16 88h.01M10 90h.01M12 90h.01M26 90h.01M8 92h.01M14 92h.01M16 92h.01M18 92h.01M24 92h.01M26 92h.01M58 92h.01M6 94h.01M20 94h.01M56 94h.01M6 96h.01M50 96h.01M22 98h.01M24 98h.01M48 98h.01M2 100h.01M4 100h.01M34 100h.01M38 100h.01M42 100h.01M44 100h.01M28 102h.01M26 104h.01M28 106h.01"/>
<path stroke="#00bfff" d="M30 -2h.01M28 0h.01M30 0h.01M32 0h.01M54 0h.01M32 2h.01M18 4h.01M26 4h.01M32 4h.01M34 4h.01M54 4h.01M24 6h.01M26 6h.01M36 6h.01M28 10h.01M30 10h.01M32 10h.01M30 12h.01M32 12h.01M46 12h.01M48 12h.01M30 14h.01M32 14h.01M34 14h.01M36 14h.01M18 16h.01M32 16h.01M34 16h.01M36 16h.01M38 16h.01M16 18h.01M18 18h.01M38 20h.01M14 22h.01M40 22h.01M12 24h.01M14 24h.01M22 24h.01M24 24h.01M34 24h.01M36 24h.01M10 26h.01M26 26h.01M40 26h.01M36 28h.01M42 28h.01M10 30h.01M14 30h.01M16 30h.01M42 30h.01M16 32h.01M38 32h.01M-2 36h.01M0 36h.01M36 36h.01M-2 38h.01M2 38h.01M4 38h.01M6 38h.01M36 38h.01M6 40h.01M8 42h.01M10 42h.01M10 46h.01M12 48h.01M34 48h.01M12 50h.01M0 54h.01M6 54h.01M22 54h.01M32 54h.01M-2 56h.01M0 56h.01M2 56h.01M4 56h.01M6 56h.01M8 56h.01M14 56h.01M4 58h.01M6 58h.01M8 58h.01M10 58h.01M16 58h.01M18 58h.01M12 60h.01M6 62h.01M12 62h.01M14 62h.01M8 64h.01M10 68h.01M12 70h.01M4 72h.01M8 72h.01M12 72h.01M-2 74h.01M0 74h.01M2 74h.01M10 74h.01M12 74h.01M-2 76h.01M10 80h.01M2 82h.01M4 82h.01M10 82h.01M12 82h.01M2 84h.01M6 84h.01M12 84h.01M14 84h.01M8 86h.01M20 86h.01M22 88h.01M10 92h.01M12 92h.01M22 92h.01M60 92h.01M8 94h.01M16 94h.01M18 94h.01M52 96h.01M54 96h.01M56 96h.01M4 98h.01M20 98h.01M18 100h.01M36 100h.01M46 100h.01M30 102h.01M32 102h.01M44 102h.01M28 104h.01M30 104h.01M30 106h.01"/>
<path stroke="#00d4ff" d="M24 -2h.01M32 -2h.01M54 -2h.01M24 0h.01M34 0h.01M20 2h.01M34 2h.01M22 4h.01M24 4h.01M36 4h.01M16 6h.01M28 6h.01M28 8h.01M38 8h.01M14 10h.01M40 10h.01M42 10h.01M72 10h.01M44 12h.01M50 12h.01M16 14h.01M16 16h.01M14 18h.01M38 18h.01M40 18h.01M6 20h.01M8 20h.01M14 20h.01M10 24h.01M12 26h.01M18 26h.01M22 26h.01M24 26h.01M28 26h.01M34 26h.01M36 26h.01M38 26h.01M8 28h.01M10 28h.01M12 28h.01M34 28h.01M6 30h.01M8 30h.01M12 30h.01M36 30h.01M40 30h.01M10 32h.01M12 32h.01M14 32h.01M18 32h.01M34 34h.01M36 34h.01M2 36h.01M4 36h.01M8 40h.01M10 40h.01M12 42h.01M34 42h.01M10 44h.01M34 44h.01M34 46h.01M14 52h.01M32 52h.01M14 54h.01M20 54h.01M30 54h.01M16 56h.01M20 56h.01M2 58h.01M20 58h.01M4 60h.01M-2 62h.01M8 66h.01M8 68h.01M4 70h.01M6 70h.01M8 70h.01M10 70h.01M-2 72h.01M0 72h.01M2 72h.01M10 72h.01M4 74h.01M4 84h.01M6 86h.01M16 86h.01M18 86h.01M18 90h.01M24 90h.01M20 92h.01M12 94h.01M14 94h.01M58 94h.01M8 96h.01M12 96h.01M14 96h.01M18 96h.01M20 96h.01M58 96h.01M6 98h.01M12 98h.01M18 98h.01M50 98h.01M56 98h.01M6 100h.01M48 100h.01M34 102h.01M38 102h.01M40 102h.01M42 102h.01M46 102h.01M32 104h.01M32 106h.01M32 108h.01"/>
<path stroke="#00eaff" d="M20 -2h.01M22 -2h.01M18 2h.01M24 2h.01M36 2h.01M16 4h.01M52 4h.01M38 6h.01M14 8h.01M40 8h.01M42 8h.01M44 10h.01M14 16h.01M46 16h.01M6 18h.01M8 18h.01M10 20h.01M12 20h.01M40 20h.01M6 22h.01M8 22h.01M10 22h.01M12 22h.01M8 26h.01M14 26h.01M16 26h.01M30 26h.01M32 26h.01M4 28h.01M6 28h.01M14 28h.01M22 28h.01M24 28h.01M28 28h.01M32 28h.01M38 28h.01M40 28h.01M4 30h.01M32 30h.01M34 30h.01M38 30h.01M6 32h.01M8 32h.01M28 32h.01M32 32h.01M34 32h.01M36 32h.01M-2 34h.01M0 34h.01M18 34h.01M20 34h.01M32 34h.01M6 36h.01M10 36h.01M34 36h.01M8 38h.01M10 38h.01M34 38h.01M12 40h.01M34 40h.01M14 42h.01M12 44h.01M14 44h.01M12 46h.01M14 46h.01M14 48h.01M16 48h.01M18 48h.01M14 50h.01M16 50h.01M32 50h.01M16 52h.01M18 52h.01M22 52h.01M24 52h.01M26 52h.01M28 52h.01M16 54h.01M18 54h.01M18 56h.01M-2 58h.01M0 58h.01M-2 60h.01M-2 64h.01M6 64h.01M6 66h.01M-2 68h.01M4 68h.01M6 68h.01M-2 70h.01M0 70h.01M2 70h.01M18 88h.01M22 90h.01M10 94h.01M10 96h.01M8 98h.01M52 98h.01M54 98h.01M50 100h.01M36 102h.01M34 104h.01M34 106h.01M34 108h.01"/>
<path stroke="#00ffff" d="M20 0h.01M22 0h.01M36 0h.01M22 2h.01M44 8h.01M46 10h.01M48 10h.01M14 12h.01M36 12h.01M42 12h.01M2 16h.01M4 16h.01M12 16h.01M4 18h.01M12 18h.01M8 24h.01M2 28h.01M16 28h.01M18 28h.01M20 28h.01M26 28h.01M30 28h.01M18 30h.01M24 30h.01M26 30h.01M28 30h.01M30 30h.01M4 32h.01M20 32h.01M26 32h.01M30 32h.01M2 34h.01M4 34h.01M6 34h.01M12 34h.01M16 34h.01M30 34h.01M8 36h.01M12 38h.01M14 40h.01M16 44h.01M16 46h.01M18 46h.01M32 46h.01M32 48h.01M18 50h.01M20 52h.01M30 52h.01M0 60h.01M2 60h.01M0 62h.01M4 62h.01M0 64h.01M2 64h.01M4 64h.01M-2 66h.01M4 66h.01M0 68h.01M2 68h.01M20 88h.01M10 98h.01M12 100h.01M52 100h.01M48 102h.01M50 102h.01M36 104h.01M36 106h.01M36 108h.01"/>
<path stroke="#15ffea" d="M18 -2h.01M18 0h.01M52 0h.01M16 2h.01M42 2h.01M52 2h.01M38 4h.01M42 4h.01M14 6h.01M40 6h.01M42 6h.01M70 6h.01M12 8h.01M0 10h.01M2 10h.01M12 10h.01M50 10h.01M0 12h.01M2 12h.01M0 14h.01M2 14h.01M14 14h.01M0 16h.01M2 18h.01M10 18h.01M4 20h.01M6 26h.01M-2 30h.01M2 30h.01M20 30h.01M-2 32h.01M0 32h.01M24 32h.01M8 34h.01M10 34h.01M14 34h.01M28 34h.01M12 36h.01M32 36h.01M14 38h.01M16 42h.01M18 44h.01M32 44h.01M22 50h.01M24 50h.01M2 62h.01M0 66h.01M2 66h.01M20 90h.01M8 100h.01M52 102h.01M38 104h.01M40 104h.01M42 104h.01M44 104h.01M46 104h.01M48 104h.01M50 104h.01M52 104h.01M38 106h.01M38 108h.01M38 110h.01"/>
<path stroke="#2bffd4" d="M52 -2h.01M16 0h.01M42 0h.01M38 2h.01M12 6h.01M44 6h.01M-2 10h.01M4 12h.01M4 14h.01M10 16h.01M4 22h.01M6 24h.01M2 26h.01M4 26h.01M-2 28h.01M0 28h.01M0 30h.01M22 30h.01M2 32h.01M22 32h.01M22 34h.01M26 34h.01M14 36h.01M16 36h.01M18 36h.01M20 36h.01M22 36h.01M28 36h.01M30 36h.01M32 38h.01M16 40h.01M32 40h.01M32 42h.01M30 44h.01M20 46h.01M30 46h.01M20 48h.01M28 48h.01M30 48h.01M20 50h.01M26 50h.01M28 50h.01M30 50h.01M10 100h.01M54 100h.01M56 100h.01M54 104h.01M40 106h.01M42 106h.01M36 110h.01M40 110h.01"/>
<path stroke="#40ffbf" d="M38 0h.01M44 0h.01M40 2h.01M44 2h.01M8 4h.01M10 4h.01M12 4h.01M14 4h.01M40 4h.01M8 6h.01M10 6h.01M-2 8h.01M0 8h.01M2 8h.01M10 8h.01M4 10h.01M6 10h.01M-2 12h.01M6 12h.01M8 12h.01M12 12h.01M-2 14h.01M8 14h.01M10 14h.01M12 14h.01M-2 16h.01M6 16h.01M8 16h.01M-2 18h.01M0 18h.01M2 20h.01M2 22h.01M-2 26h.01M0 26h.01M24 34h.01M24 36h.01M26 36h.01M22 38h.01M24 38h.01M18 42h.01M24 44h.01M28 44h.01M26 46h.01M28 46h.01M22 48h.01M24 48h.01M26 48h.01M54 102h.01M44 106h.01M40 108h.01M42 112h.01"/>
<path stroke="#55ffaa" d="M16 -2h.01M40 0h.01M46 0h.01M14 2h.01M50 2h.01M6 4h.01M6 6h.01M4 8h.01M6 8h.01M8 8h.01M46 8h.01M8 10h.01M10 10h.01M10 12h.01M6 14h.01M-2 20h.01M0 20h.01M-2 22h.01M0 22h.01M-2 24h.01M0 24h.01M2 24h.01M4 24h.01M16 38h.01M26 38h.01M30 38h.01M30 40h.01M26 42h.01M28 42h.01M30 42h.01M26 44h.01M24 46h.01M56 102h.01M42 108h.01M44 108h.01"/>
<path stroke="#6aff95" d="M50 -2h.01M14 0h.01M50 0h.01M8 2h.01M12 2h.01M46 2h.01M48 2h.01M44 4h.01M46 4h.01M48 4h.01M50 4h.01M-2 6h.01M0 6h.01M4 6h.01M46 6h.01M48 6h.01M50 6h.01M52 6h.01M48 8h.01M50 8h.01M52 8h.01M46 18h.01M18 38h.01M20 38h.01M28 38h.01M18 40h.01M22 40h.01M24 40h.01M26 40h.01M28 40h.01M20 42h.01M22 42h.01M24 42h.01M20 44h.01M22 44h.01M22 46h.01M42 110h.01M44 112h.01"/>
<path stroke="#80ff80" d="M14 -2h.01M46 -2h.01M48 -2h.01M12 0h.01M48 0h.01M6 2h.01M10 2h.01M-2 4h.01M0 4h.01M2 4h.01M4 4h.01M2 6h.01M72 6h.01M34 8h.01M36 8h.01M70 8h.01M72 8h.01M74 8h.01M34 10h.01M36 10h.01M38 10h.01M38 12h.01M40 12h.01M40 14h.01M42 14h.01M44 14h.01M42 16h.01M44 16h.01M44 18h.01M20 40h.01"/>
<path stroke="#95ff6a" d="M12 -2h.01M6 0h.01M-2 2h.01M4 2h.01M44 110h.01"/>
<path stroke="#aaff55" d="M4 -2h.01M6 -2h.01M8 -2h.01M4 0h.01M8 0h.01M10 0h.01M0 2h.01M2 2h.01M16 96h.01M48 106h.01"/>
<path stroke="#bfff40" d="M10 -2h.01M34 -2h.01"/>
<path stroke="#d5ff2a" d="M2 -2h.01"/>
<path stroke="#eaff15" d="M0 -2h.01M44 -2h.01M0 0h.01M2 0h.01"/>
<path stroke="#ffff00" d="M36 -2h.01M38 -2h.01M40 -2h.01M42 -2h.01M46 106h.01M46 108h.01M48 108h.01M46 110h.01M48 110h.01M46 112h.01M48 112h.01"/>
<path stroke="#ffd500" d="M14 98h.01M16 98h.01M14 100h.01M16 100h.01"/>
<path stroke="#ff6a00" d="M54 106h.01"/>
<path stroke="#950000" d="M50 106h.01M52 106h.01M50 108h.01M52 108h.01M54 108h.01M50 110h.01M52 110h.01M50 112h.01M52 112h.01"/>
</g>
<use href="#st"/>
</g>
<rect x="617.0" y="96.8" width="233.7" height="212.5" fill="none" stroke="#101010" stroke-width="1.0"/>
<text x="636.80" y="76.60" font-size="12.72" font-weight="bold" fill="#262626" stroke="#262626" stroke-width="0.31" textLength="25.05" lengthAdjust="spacingAndGlyphs" >100</text>
<circle cx="664.85" cy="64.60" r="1.35" fill="none" stroke="#262626" stroke-width="0.9"/>
<text x="672.45" y="76.60" font-size="12.72" font-weight="bold" fill="#262626" stroke="#262626" stroke-width="0.31" textLength="13.24" lengthAdjust="spacingAndGlyphs" >W</text>
<text x="705.60" y="76.60" font-size="12.72" font-weight="bold" fill="#262626" stroke="#262626" stroke-width="0.31" textLength="16.70" lengthAdjust="spacingAndGlyphs" >90</text>
<circle cx="725.30" cy="64.60" r="1.35" fill="none" stroke="#262626" stroke-width="0.9"/>
<text x="732.90" y="76.60" font-size="12.72" font-weight="bold" fill="#262626" stroke="#262626" stroke-width="0.31" textLength="13.24" lengthAdjust="spacingAndGlyphs" >W</text>
<text x="769.50" y="76.60" font-size="12.72" font-weight="bold" fill="#262626" stroke="#262626" stroke-width="0.31" textLength="16.70" lengthAdjust="spacingAndGlyphs" >80</text>
<circle cx="789.20" cy="64.60" r="1.35" fill="none" stroke="#262626" stroke-width="0.9"/>
<text x="796.80" y="76.60" font-size="12.72" font-weight="bold" fill="#262626" stroke="#262626" stroke-width="0.31" textLength="13.24" lengthAdjust="spacingAndGlyphs" >W</text>
<text x="833.00" y="76.60" font-size="12.72" font-weight="bold" fill="#262626" stroke="#262626" stroke-width="0.31" textLength="16.70" lengthAdjust="spacingAndGlyphs" >70</text>
<circle cx="852.70" cy="64.60" r="1.35" fill="none" stroke="#262626" stroke-width="0.9"/>
<text x="860.30" y="76.60" font-size="12.72" font-weight="bold" fill="#262626" stroke="#262626" stroke-width="0.31" textLength="13.24" lengthAdjust="spacingAndGlyphs" >W</text>
<text x="567.30" y="112.40" font-size="12.72" font-weight="bold" fill="#262626" stroke="#262626" stroke-width="0.31" textLength="16.70" lengthAdjust="spacingAndGlyphs" >48</text>
<circle cx="588.90" cy="99.90" r="1.35" fill="none" stroke="#262626" stroke-width="0.9"/>
<text x="597.00" y="112.40" font-size="12.72" font-weight="bold" fill="#262626" stroke="#262626" stroke-width="0.31" textLength="10.04" lengthAdjust="spacingAndGlyphs" >N</text>
<text x="567.30" y="130.50" font-size="12.72" font-weight="bold" fill="#262626" stroke="#262626" stroke-width="0.31" textLength="16.70" lengthAdjust="spacingAndGlyphs" >46</text>
<circle cx="588.90" cy="118.00" r="1.35" fill="none" stroke="#262626" stroke-width="0.9"/>
<text x="597.00" y="130.50" font-size="12.72" font-weight="bold" fill="#262626" stroke="#262626" stroke-width="0.31" textLength="10.04" lengthAdjust="spacingAndGlyphs" >N</text>
<text x="567.30" y="147.60" font-size="12.72" font-weight="bold" fill="#262626" stroke="#262626" stroke-width="0.31" textLength="16.70" lengthAdjust="spacingAndGlyphs" >44</text>
<circle cx="588.90" cy="135.10" r="1.35" fill="none" stroke="#262626" stroke-width="0.9"/>
<text x="597.00" y="147.60" font-size="12.72" font-weight="bold" fill="#262626" stroke="#262626" stroke-width="0.31" textLength="10.04" lengthAdjust="spacingAndGlyphs" >N</text>
<text x="567.30" y="166.20" font-size="12.72" font-weight="bold" fill="#262626" stroke="#262626" stroke-width="0.31" textLength="16.70" lengthAdjust="spacingAndGlyphs" >42</text>
<circle cx="588.90" cy="153.70" r="1.35" fill="none" stroke="#262626" stroke-width="0.9"/>
<text x="597.00" y="166.20" font-size="12.72" font-weight="bold" fill="#262626" stroke="#262626" stroke-width="0.31" textLength="10.04" lengthAdjust="spacingAndGlyphs" >N</text>
<text x="567.30" y="182.20" font-size="12.72" font-weight="bold" fill="#262626" stroke="#262626" stroke-width="0.31" textLength="16.70" lengthAdjust="spacingAndGlyphs" >40</text>
<circle cx="588.90" cy="169.70" r="1.35" fill="none" stroke="#262626" stroke-width="0.9"/>
<text x="597.00" y="182.20" font-size="12.72" font-weight="bold" fill="#262626" stroke="#262626" stroke-width="0.31" textLength="10.04" lengthAdjust="spacingAndGlyphs" >N</text>
<text x="567.30" y="197.50" font-size="12.72" font-weight="bold" fill="#262626" stroke="#262626" stroke-width="0.31" textLength="16.70" lengthAdjust="spacingAndGlyphs" >38</text>
<circle cx="588.90" cy="185.00" r="1.35" fill="none" stroke="#262626" stroke-width="0.9"/>
<text x="597.00" y="197.50" font-size="12.72" font-weight="bold" fill="#262626" stroke="#262626" stroke-width="0.31" textLength="10.04" lengthAdjust="spacingAndGlyphs" >N</text>
<text x="567.30" y="214.50" font-size="12.72" font-weight="bold" fill="#262626" stroke="#262626" stroke-width="0.31" textLength="16.70" lengthAdjust="spacingAndGlyphs" >36</text>
<circle cx="588.90" cy="202.00" r="1.35" fill="none" stroke="#262626" stroke-width="0.9"/>
<text x="597.00" y="214.50" font-size="12.72" font-weight="bold" fill="#262626" stroke="#262626" stroke-width="0.31" textLength="10.04" lengthAdjust="spacingAndGlyphs" >N</text>
<text x="567.30" y="228.40" font-size="12.72" font-weight="bold" fill="#262626" stroke="#262626" stroke-width="0.31" textLength="16.70" lengthAdjust="spacingAndGlyphs" >34</text>
<circle cx="588.90" cy="215.90" r="1.35" fill="none" stroke="#262626" stroke-width="0.9"/>
<text x="597.00" y="228.40" font-size="12.72" font-weight="bold" fill="#262626" stroke="#262626" stroke-width="0.31" textLength="10.04" lengthAdjust="spacingAndGlyphs" >N</text>
<text x="567.30" y="245.40" font-size="12.72" font-weight="bold" fill="#262626" stroke="#262626" stroke-width="0.31" textLength="16.70" lengthAdjust="spacingAndGlyphs" >32</text>
<circle cx="588.90" cy="232.90" r="1.35" fill="none" stroke="#262626" stroke-width="0.9"/>
<text x="597.00" y="245.40" font-size="12.72" font-weight="bold" fill="#262626" stroke="#262626" stroke-width="0.31" textLength="10.04" lengthAdjust="spacingAndGlyphs" >N</text>
<text x="567.30" y="259.60" font-size="12.72" font-weight="bold" fill="#262626" stroke="#262626" stroke-width="0.31" textLength="16.70" lengthAdjust="spacingAndGlyphs" >30</text>
<circle cx="588.90" cy="247.10" r="1.35" fill="none" stroke="#262626" stroke-width="0.9"/>
<text x="597.00" y="259.60" font-size="12.72" font-weight="bold" fill="#262626" stroke="#262626" stroke-width="0.31" textLength="10.04" lengthAdjust="spacingAndGlyphs" >N</text>
<text x="567.30" y="272.70" font-size="12.72" font-weight="bold" fill="#262626" stroke="#262626" stroke-width="0.31" textLength="16.70" lengthAdjust="spacingAndGlyphs" >28</text>
<circle cx="588.90" cy="260.20" r="1.35" fill="none" stroke="#262626" stroke-width="0.9"/>
<text x="597.00" y="272.70" font-size="12.72" font-weight="bold" fill="#262626" stroke="#262626" stroke-width="0.31" textLength="10.04" lengthAdjust="spacingAndGlyphs" >N</text>
<text x="567.30" y="287.30" font-size="12.72" font-weight="bold" fill="#262626" stroke="#262626" stroke-width="0.31" textLength="16.70" lengthAdjust="spacingAndGlyphs" >26</text>
<circle cx="588.90" cy="274.80" r="1.35" fill="none" stroke="#262626" stroke-width="0.9"/>
<text x="597.00" y="287.30" font-size="12.72" font-weight="bold" fill="#262626" stroke="#262626" stroke-width="0.31" textLength="10.04" lengthAdjust="spacingAndGlyphs" >N</text>
<text x="567.30" y="301.40" font-size="12.72" font-weight="bold" fill="#262626" stroke="#262626" stroke-width="0.31" textLength="16.70" lengthAdjust="spacingAndGlyphs" >24</text>
<circle cx="588.90" cy="288.90" r="1.35" fill="none" stroke="#262626" stroke-width="0.9"/>
<text x="597.00" y="301.40" font-size="12.72" font-weight="bold" fill="#262626" stroke="#262626" stroke-width="0.31" textLength="10.04" lengthAdjust="spacingAndGlyphs" >N</text>
<text x="567.30" y="314.20" font-size="12.72" font-weight="bold" fill="#262626" stroke="#262626" stroke-width="0.31" textLength="16.70" lengthAdjust="spacingAndGlyphs" >22</text>
<circle cx="588.90" cy="301.70" r="1.35" fill="none" stroke="#262626" stroke-width="0.9"/>
<text x="597.00" y="314.20" font-size="12.72" font-weight="bold" fill="#262626" stroke="#262626" stroke-width="0.31" textLength="10.04" lengthAdjust="spacingAndGlyphs" >N</text>
<rect x="862.3" y="93.1" width="23.20" height="218.80" fill="url(#jet)" stroke="#1a1a1a" stroke-width="0.8"/>
<path d="M883.20 311.90H885.50" stroke="#1a1a1a" stroke-width="0.8"/>
<text x="894.50" y="319.20" font-size="21.19" font-weight="bold" fill="#262626" stroke="#262626" stroke-width="0.52" textLength="13.92" lengthAdjust="spacingAndGlyphs" >0</text>
<path d="M883.20 249.49H885.50" stroke="#1a1a1a" stroke-width="0.8"/>
<text x="894.50" y="256.79" font-size="21.19" font-weight="bold" fill="#262626" stroke="#262626" stroke-width="0.52" textLength="13.92" lengthAdjust="spacingAndGlyphs" >1</text>
<path d="M883.20 187.09H885.50" stroke="#1a1a1a" stroke-width="0.8"/>
<text x="894.50" y="194.39" font-size="21.19" font-weight="bold" fill="#262626" stroke="#262626" stroke-width="0.52" textLength="13.92" lengthAdjust="spacingAndGlyphs" >2</text>
<path d="M883.20 124.68H885.50" stroke="#1a1a1a" stroke-width="0.8"/>
<text x="894.50" y="131.98" font-size="21.19" font-weight="bold" fill="#262626" stroke="#262626" stroke-width="0.52" textLength="13.92" lengthAdjust="spacingAndGlyphs" >3</text>
<text x="544.04" y="341.80" font-size="24.48" font-weight="bold" fill="#262626" stroke="#262626" stroke-width="0.60" textLength="120.43" lengthAdjust="spacingAndGlyphs" >SAT+RAP</text><text x="672.51" y="341.80" font-size="24.48" font-weight="bold" fill="#262626" stroke="#262626" stroke-width="0.60" textLength="48.22" lengthAdjust="spacingAndGlyphs" >700</text><text x="728.77" y="341.80" font-size="24.48" font-weight="bold" fill="#262626" stroke="#262626" stroke-width="0.60" textLength="48.34" lengthAdjust="spacingAndGlyphs" >hPa</text><text x="785.16" y="341.80" font-size="24.48" font-weight="bold" fill="#262626" stroke="#262626" stroke-width="0.60" textLength="40.78" lengthAdjust="spacingAndGlyphs" >MR</text><text x="833.97" y="341.80" font-size="24.48" font-weight="bold" fill="#262626" stroke="#262626" stroke-width="0.60" textLength="77.98" lengthAdjust="spacingAndGlyphs" >(g/kg)</text>
<g transform="translate(1038.0,96.0) scale(1.00428,1.00753)">
<g fill="none" stroke-linecap="round" stroke-width="3.7">
<path stroke="#0000bf" d="M52 62h.01M52 64h.01M54 64h.01M20 66h.01M-2 88h.01M-2 90h.01M0 90h.01"/>
<path stroke="#0000d4" d="M60 38h.01M28 52h.01M30 52h.01M30 54h.01M50 60h.01M42 62h.01M44 62h.01M46 62h.01M54 62h.01M38 64h.01M40 64h.01M46 64h.01M18 66h.01M48 66h.01M50 66h.01M52 66h.01M18 68h.01M20 68h.01M42 68h.01M48 68h.01M50 68h.01M20 70h.01M22 70h.01M22 72h.01M-2 76h.01M46 76h.01M-2 78h.01M54 78h.01M-2 80h.01M-2 86h.01M0 88h.01M0 92h.01"/>
<path stroke="#0000ea" d="M76 30h.01M48 32h.01M76 32h.01M78 32h.01M84 32h.01M56 34h.01M56 36h.01M58 36h.01M82 36h.01M62 38h.01M36 40h.01M62 40h.01M64 40h.01M48 46h.01M50 46h.01M50 48h.01M54 50h.01M56 50h.01M52 52h.01M56 52h.01M58 52h.01M28 54h.01M40 54h.01M52 54h.01M54 54h.01M60 54h.01M28 56h.01M54 56h.01M56 56h.01M30 58h.01M32 58h.01M46 58h.01M48 58h.01M50 58h.01M56 58h.01M58 58h.01M60 58h.01M62 58h.01M30 60h.01M32 60h.01M42 60h.01M46 60h.01M48 60h.01M52 60h.01M60 60h.01M62 60h.01M16 62h.01M18 62h.01M38 62h.01M40 62h.01M48 62h.01M50 62h.01M16 64h.01M18 64h.01M20 64h.01M36 64h.01M42 64h.01M44 64h.01M48 64h.01M50 64h.01M56 64h.01M16 66h.01M22 66h.01M36 66h.01M38 66h.01M40 66h.01M42 66h.01M54 66h.01M56 66h.01M58 66h.01M60 66h.01M16 68h.01M22 68h.01M32 68h.01M40 68h.01M44 68h.01M46 68h.01M52 68h.01M58 68h.01M60 68h.01M14 70h.01M16 70h.01M18 70h.01M32 70h.01M42 70h.01M44 70h.01M46 70h.01M48 70h.01M50 70h.01M14 72h.01M16 72h.01M20 72h.01M24 72h.01M34 72h.01M44 72h.01M46 72h.01M48 72h.01M-2 74h.01M16 74h.01M22 74h.01M36 74h.01M44 74h.01M46 74h.01M48 74h.01M16 76h.01M18 76h.01M44 76h.01M48 76h.01M0 78h.01M52 78h.01M56 78h.01M62 78h.01M64 78h.01M0 80h.01M36 80h.01M44 80h.01M52 80h.01M54 80h.01M56 80h.01M60 80h.01M62 80h.01M-2 82h.01M-2 84h.01M-2 92h.01"/>
<path stroke="#0000ff" d="M46 30h.01M48 30h.01M72 30h.01M74 30h.01M78 30h.01M82 30h.01M84 30h.01M86 30h.01M46 32h.01M64 32h.01M80 32h.01M82 32h.01M48 34h.01M54 34h.01M66 34h.01M78 34h.01M80 34h.01M82 34h.01M84 34h.01M54 36h.01M60 36h.01M68 36h.01M36 38h.01M38 38h.01M54 38h.01M56 38h.01M58 38h.01M82 38h.01M38 40h.01M60 40h.01M66 40h.01M36 42h.01M62 42h.01M64 42h.01M48 44h.01M56 44h.01M58 44h.01M60 44h.01M62 44h.01M60 46h.01M62 46h.01M38 48h.01M48 48h.01M52 48h.01M60 48h.01M62 48h.01M28 50h.01M30 50h.01M50 50h.01M52 50h.01M26 52h.01M32 52h.01M40 52h.01M42 52h.01M50 52h.01M54 52h.01M60 52h.01M26 54h.01M32 54h.01M38 54h.01M42 54h.01M56 54h.01M58 54h.01M26 56h.01M30 56h.01M32 56h.01M36 56h.01M38 56h.01M40 56h.01M42 56h.01M46 56h.01M48 56h.01M52 56h.01M58 56h.01M60 56h.01M38 58h.01M40 58h.01M52 58h.01M54 58h.01M16 60h.01M18 60h.01M34 60h.01M36 60h.01M38 60h.01M40 60h.01M44 60h.01M54 60h.01M56 60h.01M64 60h.01M20 62h.01M32 62h.01M34 62h.01M36 62h.01M56 62h.01M62 62h.01M64 62h.01M14 64h.01M34 64h.01M12 66h.01M14 66h.01M24 66h.01M32 66h.01M34 66h.01M44 66h.01M46 66h.01M14 68h.01M24 68h.01M26 68h.01M30 68h.01M34 68h.01M36 68h.01M38 68h.01M12 70h.01M24 70h.01M26 70h.01M28 70h.01M30 70h.01M34 70h.01M36 70h.01M38 70h.01M40 70h.01M52 70h.01M58 70h.01M60 70h.01M62 70h.01M-2 72h.01M18 72h.01M26 72h.01M28 72h.01M30 72h.01M32 72h.01M36 72h.01M40 72h.01M42 72h.01M50 72h.01M0 74h.01M14 74h.01M18 74h.01M20 74h.01M24 74h.01M34 74h.01M42 74h.01M50 74h.01M62 74h.01M0 76h.01M2 76h.01M24 76h.01M34 76h.01M36 76h.01M38 76h.01M50 76h.01M62 76h.01M64 76h.01M2 78h.01M4 78h.01M16 78h.01M18 78h.01M32 78h.01M34 78h.01M36 78h.01M46 78h.01M48 78h.01M50 78h.01M58 78h.01M60 78h.01M2 80h.01M4 80h.01M28 80h.01M30 80h.01M34 80h.01M38 80h.01M42 80h.01M46 80h.01M58 80h.01M64 80h.01M0 82h.01M0 86h.01M2 88h.01M2 90h.01"/>
<path stroke="#0015ff" d="M46 20h.01M48 20h.01M90 22h.01M40 24h.01M70 24h.01M70 26h.01M72 26h.01M46 28h.01M48 28h.01M68 28h.01M70 28h.01M72 28h.01M74 28h.01M76 28h.01M82 28h.01M84 28h.01M50 30h.01M80 30h.01M50 32h.01M54 32h.01M56 32h.01M62 32h.01M66 32h.01M74 32h.01M46 34h.01M50 34h.01M58 34h.01M64 34h.01M68 34h.01M76 34h.01M52 36h.01M66 36h.01M70 36h.01M80 36h.01M84 36h.01M40 38h.01M48 38h.01M52 38h.01M64 38h.01M66 38h.01M68 38h.01M70 38h.01M74 38h.01M76 38h.01M78 38h.01M34 40h.01M40 40h.01M42 40h.01M48 40h.01M50 40h.01M52 40h.01M58 40h.01M68 40h.01M76 40h.01M32 42h.01M34 42h.01M38 42h.01M40 42h.01M48 42h.01M50 42h.01M60 42h.01M66 42h.01M68 42h.01M70 42h.01M34 44h.01M36 44h.01M38 44h.01M54 44h.01M64 44h.01M36 46h.01M38 46h.01M46 46h.01M58 46h.01M64 46h.01M26 48h.01M28 48h.01M36 48h.01M40 48h.01M54 48h.01M26 50h.01M32 50h.01M36 50h.01M38 50h.01M40 50h.01M42 50h.01M44 50h.01M48 50h.01M58 50h.01M60 50h.01M36 52h.01M38 52h.01M44 52h.01M48 52h.01M34 54h.01M44 54h.01M46 54h.01M48 54h.01M50 54h.01M62 54h.01M34 56h.01M44 56h.01M50 56h.01M62 56h.01M28 58h.01M34 58h.01M36 58h.01M42 58h.01M44 58h.01M14 60h.01M20 60h.01M58 60h.01M14 62h.01M30 62h.01M58 62h.01M60 62h.01M8 64h.01M12 64h.01M22 64h.01M24 64h.01M30 64h.01M32 64h.01M58 64h.01M60 64h.01M62 64h.01M64 64h.01M26 66h.01M28 66h.01M30 66h.01M62 66h.01M64 66h.01M66 66h.01M68 66h.01M12 68h.01M28 68h.01M54 68h.01M56 68h.01M62 68h.01M64 68h.01M66 68h.01M-2 70h.01M10 70h.01M54 70h.01M56 70h.01M64 70h.01M12 72h.01M38 72h.01M56 72h.01M58 72h.01M60 72h.01M62 72h.01M2 74h.01M12 74h.01M26 74h.01M28 74h.01M30 74h.01M32 74h.01M38 74h.01M60 74h.01M4 76h.01M10 76h.01M12 76h.01M14 76h.01M26 76h.01M30 76h.01M32 76h.01M42 76h.01M52 76h.01M54 76h.01M60 76h.01M6 78h.01M26 78h.01M28 78h.01M30 78h.01M38 78h.01M40 78h.01M42 78h.01M44 78h.01M66 78h.01M6 80h.01M18 80h.01M20 80h.01M32 80h.01M40 80h.01M48 80h.01M50 80h.01M2 82h.01M6 82h.01M0 84h.01M2 84h.01M2 86h.01M10 90h.01M12 90h.01M2 92h.01M-2 94h.01M0 94h.01M-2 96h.01M0 96h.01M-2 98h.01M0 98h.01M0 100h.01"/>
<path stroke="#002aff" d="M100 0h.01M96 2h.01M98 2h.01M100 2h.01M96 8h.01M44 18h.01M38 20h.01M40 20h.01M42 20h.01M44 20h.01M88 20h.01M40 22h.01M42 22h.01M46 22h.01M48 22h.01M88 22h.01M42 24h.01M44 24h.01M68 24h.01M44 26h.01M46 26h.01M66 26h.01M68 26h.01M82 26h.01M44 28h.01M66 28h.01M78 28h.01M56 30h.01M58 30h.01M60 30h.01M62 30h.01M68 30h.01M70 30h.01M52 32h.01M58 32h.01M60 32h.01M42 34h.01M44 34h.01M52 34h.01M62 34h.01M74 34h.01M34 36h.01M36 36h.01M38 36h.01M46 36h.01M48 36h.01M50 36h.01M62 36h.01M64 36h.01M72 36h.01M74 36h.01M76 36h.01M78 36h.01M34 38h.01M42 38h.01M44 38h.01M46 38h.01M50 38h.01M72 38h.01M80 38h.01M44 40h.01M46 40h.01M54 40h.01M56 40h.01M70 40h.01M72 40h.01M74 40h.01M78 40h.01M82 40h.01M30 42h.01M42 42h.01M46 42h.01M52 42h.01M54 42h.01M56 42h.01M58 42h.01M32 44h.01M40 44h.01M46 44h.01M50 44h.01M52 44h.01M66 44h.01M68 44h.01M28 46h.01M34 46h.01M40 46h.01M52 46h.01M56 46h.01M66 46h.01M30 48h.01M42 48h.01M46 48h.01M56 48h.01M58 48h.01M64 48h.01M34 50h.01M46 50h.01M62 50h.01M10 52h.01M46 52h.01M62 52h.01M10 54h.01M12 54h.01M24 54h.01M36 54h.01M14 56h.01M24 56h.01M64 56h.01M14 58h.01M16 58h.01M64 58h.01M-2 60h.01M6 60h.01M22 60h.01M28 60h.01M66 60h.01M6 62h.01M8 62h.01M22 62h.01M24 62h.01M28 62h.01M66 62h.01M6 64h.01M10 64h.01M26 64h.01M28 64h.01M66 64h.01M2 66h.01M6 66h.01M8 66h.01M10 66h.01M-2 68h.01M8 68h.01M10 68h.01M68 68h.01M0 70h.01M8 70h.01M66 70h.01M0 72h.01M4 72h.01M6 72h.01M10 72h.01M52 72h.01M54 72h.01M64 72h.01M68 72h.01M4 74h.01M6 74h.01M10 74h.01M40 74h.01M52 74h.01M56 74h.01M58 74h.01M64 74h.01M6 76h.01M8 76h.01M20 76h.01M22 76h.01M28 76h.01M40 76h.01M56 76h.01M58 76h.01M8 78h.01M10 78h.01M14 78h.01M20 78h.01M22 78h.01M24 78h.01M8 80h.01M16 80h.01M22 80h.01M26 80h.01M4 82h.01M8 82h.01M10 82h.01M12 82h.01M30 82h.01M36 82h.01M44 82h.01M46 82h.01M4 84h.01M6 84h.01M8 84h.01M14 84h.01M4 86h.01M6 86h.01M4 88h.01M8 88h.01M10 88h.01M8 90h.01M2 94h.01M2 96h.01M2 98h.01"/>
<path stroke="#0040ff" d="M98 -2h.01M94 0h.01M98 0h.01M96 4h.01M94 8h.01M90 16h.01M92 16h.01M42 18h.01M46 18h.01M90 18h.01M90 20h.01M50 22h.01M74 22h.01M76 22h.01M46 24h.01M48 24h.01M66 24h.01M72 24h.01M40 26h.01M42 26h.01M48 26h.01M64 26h.01M74 26h.01M76 26h.01M78 26h.01M80 26h.01M40 28h.01M42 28h.01M50 28h.01M64 28h.01M80 28h.01M86 28h.01M40 30h.01M44 30h.01M52 30h.01M64 30h.01M66 30h.01M38 32h.01M40 32h.01M42 32h.01M44 32h.01M68 32h.01M72 32h.01M34 34h.01M60 34h.01M70 34h.01M30 36h.01M32 36h.01M40 36h.01M42 36h.01M44 36h.01M30 40h.01M32 40h.01M80 40h.01M44 42h.01M72 42h.01M30 44h.01M42 44h.01M44 44h.01M70 44h.01M72 44h.01M26 46h.01M30 46h.01M42 46h.01M54 46h.01M24 48h.01M32 48h.01M34 48h.01M44 48h.01M66 48h.01M24 50h.01M64 50h.01M24 52h.01M34 52h.01M8 54h.01M14 54h.01M22 54h.01M64 54h.01M12 56h.01M66 56h.01M12 58h.01M18 58h.01M24 58h.01M26 58h.01M66 58h.01M74 58h.01M12 60h.01M24 60h.01M70 60h.01M72 60h.01M-2 62h.01M0 62h.01M4 62h.01M12 62h.01M26 62h.01M0 64h.01M2 64h.01M4 64h.01M68 64h.01M4 66h.01M70 66h.01M0 68h.01M2 68h.01M6 68h.01M70 68h.01M2 70h.01M4 70h.01M6 70h.01M68 70h.01M2 72h.01M8 72h.01M66 72h.01M8 74h.01M54 74h.01M66 76h.01M12 78h.01M10 80h.01M12 80h.01M14 80h.01M24 80h.01M22 82h.01M28 82h.01M32 82h.01M34 82h.01M38 82h.01M10 84h.01M12 84h.01M16 84h.01M8 86h.01M14 86h.01M16 86h.01M6 88h.01M4 90h.01M6 90h.01M14 90h.01M4 92h.01M4 94h.01M4 96h.01M2 100h.01"/>
<path stroke="#0055ff" d="M96 -2h.01M96 0h.01M94 2h.01M92 6h.01M94 6h.01M96 6h.01M92 8h.01M94 10h.01M94 12h.01M90 14h.01M92 14h.01M40 18h.01M50 20h.01M74 20h.01M38 22h.01M44 22h.01M70 22h.01M72 22h.01M78 22h.01M82 22h.01M86 22h.01M38 24h.01M50 24h.01M64 24h.01M74 24h.01M76 24h.01M78 24h.01M80 24h.01M82 24h.01M84 24h.01M86 24h.01M88 24h.01M62 26h.01M84 26h.01M88 26h.01M54 28h.01M56 28h.01M58 28h.01M60 28h.01M62 28h.01M38 30h.01M42 30h.01M54 30h.01M36 32h.01M70 32h.01M30 34h.01M32 34h.01M36 34h.01M38 34h.01M40 34h.01M72 34h.01M30 38h.01M32 38h.01M28 40h.01M28 42h.01M74 42h.01M76 42h.01M28 44h.01M74 44h.01M24 46h.01M32 46h.01M44 46h.01M68 46h.01M74 46h.01M68 48h.01M10 50h.01M4 52h.01M8 52h.01M12 52h.01M64 52h.01M4 54h.01M6 54h.01M6 56h.01M8 56h.01M10 56h.01M16 56h.01M18 56h.01M22 56h.01M68 56h.01M-2 58h.01M4 58h.01M6 58h.01M20 58h.01M22 58h.01M68 58h.01M70 58h.01M72 58h.01M0 60h.01M4 60h.01M8 60h.01M26 60h.01M68 60h.01M2 62h.01M10 62h.01M70 62h.01M72 62h.01M-2 64h.01M-2 66h.01M0 66h.01M4 68h.01M66 74h.01M14 82h.01M16 82h.01M18 82h.01M20 82h.01M24 82h.01M26 82h.01M40 82h.01M42 82h.01M48 82h.01M54 82h.01M30 84h.01M32 84h.01M10 86h.01M12 86h.01M18 86h.01M20 86h.01M22 86h.01M12 88h.01M14 88h.01M6 92h.01M8 92h.01M10 92h.01M12 92h.01M14 92h.01M4 98h.01"/>
<path stroke="#006aff" d="M92 -2h.01M94 -2h.01M92 0h.01M92 4h.01M94 4h.01M42 16h.01M44 16h.01M88 16h.01M38 18h.01M48 18h.01M56 18h.01M58 18h.01M70 18h.01M88 18h.01M36 20h.01M58 20h.01M60 20h.01M62 20h.01M72 20h.01M76 20h.01M86 20h.01M36 22h.01M52 22h.01M60 22h.01M62 22h.01M64 22h.01M66 22h.01M68 22h.01M80 22h.01M84 22h.01M52 24h.01M62 24h.01M38 26h.01M50 26h.01M54 26h.01M56 26h.01M58 26h.01M60 26h.01M86 26h.01M38 28h.01M52 28h.01M34 30h.01M36 30h.01M34 32h.01M28 38h.01M26 44h.01M6 46h.01M8 46h.01M70 46h.01M72 46h.01M76 46h.01M22 48h.01M70 48h.01M2 50h.01M8 50h.01M12 50h.01M66 50h.01M68 50h.01M2 52h.01M6 52h.01M14 52h.01M22 52h.01M66 52h.01M68 52h.01M0 54h.01M2 54h.01M16 54h.01M18 54h.01M20 54h.01M66 54h.01M68 54h.01M70 54h.01M-2 56h.01M0 56h.01M2 56h.01M4 56h.01M20 56h.01M70 56h.01M72 56h.01M74 56h.01M0 58h.01M2 58h.01M8 58h.01M10 58h.01M2 60h.01M10 60h.01M68 62h.01M70 64h.01M72 64h.01M50 82h.01M52 82h.01M56 82h.01M60 82h.01M62 82h.01M18 84h.01M20 84h.01M22 84h.01M24 84h.01M34 84h.01M24 86h.01M16 88h.01M18 88h.01M20 88h.01M22 88h.01M24 88h.01M16 90h.01M22 90h.01M24 90h.01M16 92h.01M6 94h.01M8 94h.01M16 94h.01M6 96h.01M4 100h.01"/>
<path stroke="#0080ff" d="M92 2h.01M90 6h.01M90 8h.01M92 10h.01M68 12h.01M70 12h.01M90 12h.01M92 12h.01M68 14h.01M88 14h.01M40 16h.01M46 16h.01M36 18h.01M50 18h.01M54 18h.01M54 20h.01M56 20h.01M70 20h.01M82 20h.01M84 20h.01M54 22h.01M58 22h.01M36 24h.01M54 24h.01M56 24h.01M58 24h.01M60 24h.01M52 26h.01M32 30h.01M30 32h.01M32 32h.01M28 34h.01M28 36h.01M26 38h.01M0 40h.01M26 40h.01M0 42h.01M2 42h.01M4 42h.01M6 42h.01M78 42h.01M80 42h.01M6 44h.01M8 44h.01M10 44h.01M24 44h.01M10 46h.01M22 46h.01M-2 48h.01M6 48h.01M8 48h.01M10 48h.01M72 48h.01M76 48h.01M78 48h.01M-2 50h.01M0 50h.01M4 50h.01M6 50h.01M22 50h.01M-2 52h.01M0 52h.01M18 52h.01M20 52h.01M70 52h.01M-2 54h.01M72 54h.01M58 82h.01M28 84h.01M36 84h.01M38 84h.01M30 86h.01M18 90h.01M20 90h.01M26 90h.01M10 94h.01M14 94h.01M6 98h.01"/>
<path stroke="#0095ff" d="M90 -2h.01M90 4h.01M68 10h.01M90 10h.01M42 14h.01M44 14h.01M46 14h.01M48 14h.01M48 16h.01M50 16h.01M52 16h.01M54 16h.01M56 16h.01M68 16h.01M52 18h.01M60 18h.01M68 18h.01M86 18h.01M52 20h.01M64 20h.01M66 20h.01M68 20h.01M78 20h.01M80 20h.01M34 22h.01M56 22h.01M34 24h.01M36 26h.01M30 28h.01M32 28h.01M34 28h.01M36 28h.01M28 32h.01M-2 40h.01M2 40h.01M6 40h.01M8 42h.01M24 42h.01M26 42h.01M2 44h.01M4 44h.01M12 44h.01M22 44h.01M76 44h.01M-2 46h.01M4 46h.01M0 48h.01M4 48h.01M74 48h.01M14 50h.01M16 50h.01M18 50h.01M70 50h.01M72 50h.01M16 52h.01M72 52h.01M76 52h.01M74 54h.01M76 54h.01M64 82h.01M26 84h.01M40 84h.01M42 84h.01M44 84h.01M46 84h.01M48 84h.01M28 86h.01M32 86h.01M26 88h.01M18 92h.01M20 92h.01M22 92h.01M24 92h.01M26 92h.01M18 94h.01M6 100h.01"/>
<path stroke="#00aaff" d="M90 0h.01M90 2h.01M66 10h.01M44 12h.01M46 12h.01M66 12h.01M88 12h.01M40 14h.01M50 14h.01M38 16h.01M58 16h.01M86 16h.01M34 18h.01M62 18h.01M76 18h.01M34 20h.01M34 26h.01M30 30h.01M0 36h.01M2 36h.01M12 36h.01M14 36h.01M24 36h.01M26 36h.01M-2 38h.01M0 38h.01M2 38h.01M12 38h.01M14 38h.01M24 38h.01M4 40h.01M24 40h.01M-2 42h.01M10 42h.01M12 42h.01M22 42h.01M0 44h.01M14 44h.01M80 44h.01M0 46h.01M12 46h.01M18 46h.01M20 46h.01M78 46h.01M2 48h.01M12 48h.01M14 48h.01M16 48h.01M18 48h.01M20 50h.01M74 52h.01M50 84h.01M52 84h.01M26 86h.01M34 86h.01M28 88h.01M28 90h.01M12 94h.01M20 94h.01M8 96h.01M10 96h.01M16 96h.01M18 96h.01"/>
<path stroke="#00bfff" d="M70 -2h.01M70 0h.01M88 2h.01M88 4h.01M88 6h.01M66 8h.01M68 8h.01M88 8h.01M70 10h.01M88 10h.01M52 14h.01M56 14h.01M58 14h.01M66 14h.01M36 16h.01M66 18h.01M78 18h.01M84 18h.01M32 22h.01M32 24h.01M32 26h.01M0 28h.01M28 28h.01M28 30h.01M-2 34h.01M0 34h.01M10 34h.01M26 34h.01M10 36h.01M4 38h.01M6 38h.01M10 38h.01M16 38h.01M8 40h.01M10 40h.01M12 40h.01M14 40h.01M14 42h.01M-2 44h.01M16 44h.01M18 44h.01M20 44h.01M78 44h.01M2 46h.01M14 46h.01M16 46h.01M20 48h.01M74 50h.01M76 50h.01M78 50h.01M54 84h.01M36 86h.01M30 88h.01M32 88h.01M28 92h.01M22 94h.01M24 94h.01M12 96h.01M14 96h.01M20 96h.01M8 98h.01"/>
<path stroke="#00d4ff" d="M88 0h.01M70 2h.01M86 2h.01M86 4h.01M64 6h.01M70 6h.01M64 8h.01M70 8h.01M64 10h.01M42 12h.01M48 12h.01M38 14h.01M54 14h.01M86 14h.01M30 16h.01M32 16h.01M34 16h.01M60 16h.01M66 16h.01M84 16h.01M32 18h.01M64 18h.01M82 18h.01M28 26h.01M30 26h.01M0 30h.01M8 32h.01M10 32h.01M26 32h.01M12 34h.01M-2 36h.01M4 36h.01M6 36h.01M16 36h.01M22 36h.01M8 38h.01M18 38h.01M16 40h.01M18 40h.01M22 40h.01M16 42h.01M18 42h.01M20 42h.01M56 84h.01M62 84h.01M38 86h.01M40 86h.01M30 90h.01M26 94h.01M28 94h.01M10 98h.01M12 98h.01M8 100h.01"/>
<path stroke="#00eaff" d="M68 -2h.01M72 -2h.01M88 -2h.01M68 0h.01M72 0h.01M84 0h.01M86 0h.01M72 2h.01M84 2h.01M64 4h.01M66 4h.01M70 4h.01M62 6h.01M66 6h.01M68 6h.01M62 8h.01M44 10h.01M40 12h.01M56 12h.01M64 12h.01M72 12h.01M60 14h.01M62 16h.01M80 18h.01M32 20h.01M-2 26h.01M26 26h.01M-2 28h.01M2 28h.01M-2 30h.01M2 30h.01M4 30h.01M6 30h.01M-2 32h.01M0 32h.01M4 32h.01M6 32h.01M12 32h.01M2 34h.01M8 34h.01M14 34h.01M22 34h.01M24 34h.01M8 36h.01M20 38h.01M22 38h.01M20 40h.01M58 84h.01M60 84h.01M42 86h.01M44 86h.01M34 88h.01M32 90h.01M30 92h.01M30 94h.01M22 96h.01M14 98h.01M18 98h.01M20 98h.01M28 106h.01"/>
<path stroke="#00ffff" d="M82 0h.01M74 2h.01M62 4h.01M68 4h.01M72 4h.01M60 8h.01M42 10h.01M46 10h.01M62 10h.01M38 12h.01M50 12h.01M54 12h.01M58 12h.01M86 12h.01M36 14h.01M62 14h.01M64 14h.01M84 14h.01M64 16h.01M78 16h.01M30 18h.01M30 20h.01M30 22h.01M30 24h.01M0 26h.01M26 28h.01M8 30h.01M10 30h.01M12 30h.01M26 30h.01M2 32h.01M14 32h.01M24 32h.01M4 34h.01M6 34h.01M16 34h.01M18 36h.01M20 36h.01M46 86h.01M50 86h.01M52 86h.01M54 86h.01M16 98h.01M26 104h.01"/>
<path stroke="#15ffea" d="M66 -2h.01M74 -2h.01M86 -2h.01M74 0h.01M64 2h.01M66 2h.01M68 2h.01M74 4h.01M58 6h.01M60 6h.01M72 6h.01M58 8h.01M72 8h.01M60 10h.01M72 10h.01M52 12h.01M30 14h.01M28 16h.01M82 16h.01M28 22h.01M26 24h.01M28 24h.01M8 26h.01M24 30h.01M16 32h.01M18 34h.01M20 34h.01M48 86h.01M56 86h.01M36 88h.01M34 90h.01M32 92h.01M32 94h.01M24 96h.01M26 96h.01M28 96h.01M22 98h.01M10 100h.01M12 100h.01M14 100h.01M32 108h.01"/>
<path stroke="#2bffd4" d="M84 -2h.01M66 0h.01M76 0h.01M62 2h.01M76 2h.01M82 2h.01M60 4h.01M56 6h.01M40 10h.01M48 10h.01M52 10h.01M54 10h.01M56 10h.01M58 10h.01M36 12h.01M60 12h.01M62 12h.01M28 14h.01M32 14h.01M34 14h.01M26 18h.01M28 18h.01M74 18h.01M28 20h.01M0 22h.01M2 22h.01M4 22h.01M0 24h.01M2 24h.01M4 24h.01M6 24h.01M24 24h.01M2 26h.01M6 26h.01M24 26h.01M4 28h.01M6 28h.01M8 28h.01M10 28h.01M24 28h.01M22 30h.01M18 32h.01M38 88h.01M40 88h.01M36 90h.01M30 96h.01M16 100h.01M18 100h.01M20 100h.01M28 104h.01M30 106h.01"/>
<path stroke="#40ffbf" d="M54 -2h.01M76 -2h.01M78 -2h.01M78 0h.01M80 0h.01M58 2h.01M60 2h.01M54 4h.01M56 4h.01M58 4h.01M74 6h.01M38 8h.01M40 8h.01M42 8h.01M44 8h.01M48 8h.01M50 8h.01M52 8h.01M56 8h.01M38 10h.01M50 10h.01M82 14h.01M24 16h.01M26 16h.01M80 16h.01M24 18h.01M-2 20h.01M0 20h.01M2 20h.01M4 20h.01M26 20h.01M-2 22h.01M24 22h.01M26 22h.01M-2 24h.01M8 24h.01M4 26h.01M10 26h.01M16 26h.01M12 28h.01M22 28h.01M14 30h.01M20 32h.01M22 32h.01M58 86h.01M62 86h.01M42 88h.01M46 88h.01M34 92h.01M32 96h.01M24 98h.01M26 98h.01M28 98h.01M22 100h.01M24 102h.01M34 108h.01"/>
<path stroke="#55ffaa" d="M52 -2h.01M64 -2h.01M82 -2h.01M54 0h.01M56 0h.01M58 0h.01M64 0h.01M54 2h.01M56 2h.01M78 2h.01M80 2h.01M52 4h.01M36 6h.01M38 6h.01M48 6h.01M50 6h.01M54 6h.01M36 8h.01M46 8h.01M54 8h.01M74 8h.01M36 10h.01M34 12h.01M74 12h.01M26 14h.01M78 14h.01M22 16h.01M0 18h.01M22 18h.01M24 20h.01M6 22h.01M22 22h.01M22 24h.01M14 26h.01M22 26h.01M16 30h.01M18 30h.01M20 30h.01M60 86h.01M44 88h.01M48 88h.01M36 92h.01M34 94h.01M26 102h.01M32 106h.01M36 110h.01"/>
<path stroke="#6aff95" d="M56 -2h.01M80 -2h.01M52 2h.01M48 4h.01M50 4h.01M42 6h.01M46 6h.01M52 6h.01M30 8h.01M32 8h.01M34 10h.01M26 12h.01M28 12h.01M32 12h.01M18 14h.01M24 14h.01M18 16h.01M20 16h.01M-2 18h.01M2 18h.01M4 18h.01M6 20h.01M8 22h.01M10 24h.01M12 24h.01M14 24h.01M16 24h.01M12 26h.01M14 28h.01M16 28h.01M18 28h.01M20 28h.01M52 88h.01M54 88h.01M56 88h.01M38 90h.01M34 96h.01M30 98h.01M24 100h.01M32 102h.01M30 104h.01M36 108h.01M38 110h.01M40 110h.01"/>
<path stroke="#80ff80" d="M20 -2h.01M22 -2h.01M50 -2h.01M58 -2h.01M62 -2h.01M22 0h.01M26 0h.01M28 0h.01M60 0h.01M62 0h.01M28 2h.01M30 2h.01M50 2h.01M28 4h.01M30 4h.01M32 4h.01M34 4h.01M36 4h.01M46 4h.01M28 6h.01M30 6h.01M32 6h.01M34 6h.01M40 6h.01M44 6h.01M34 8h.01M32 10h.01M74 10h.01M24 12h.01M30 12h.01M20 14h.01M22 14h.01M80 14h.01M-2 16h.01M0 16h.01M22 20h.01M10 22h.01M12 22h.01M18 26h.01M50 88h.01M58 88h.01M60 88h.01M38 92h.01M36 94h.01M32 98h.01M26 100h.01M28 100h.01M30 100h.01M28 102h.01M30 102h.01M32 104h.01M34 106h.01M42 110h.01M42 112h.01M44 112h.01"/>
<path stroke="#95ff6a" d="M24 -2h.01M26 -2h.01M28 -2h.01M30 -2h.01M60 -2h.01M20 0h.01M24 0h.01M30 0h.01M52 0h.01M22 2h.01M24 2h.01M26 2h.01M32 2h.01M48 2h.01M26 4h.01M38 4h.01M42 4h.01M44 4h.01M26 6h.01M22 8h.01M24 10h.01M30 10h.01M76 12h.01M0 14h.01M16 14h.01M2 16h.01M6 18h.01M18 18h.01M20 18h.01M8 20h.01M20 22h.01M18 24h.01M20 24h.01M20 26h.01M40 90h.01M42 90h.01M46 90h.01M38 94h.01M34 98h.01M36 106h.01M38 108h.01M44 110h.01"/>
<path stroke="#aaff55" d="M32 -2h.01M48 -2h.01M32 0h.01M50 0h.01M0 2h.01M24 4h.01M40 4h.01M20 8h.01M24 8h.01M28 8h.01M20 10h.01M22 10h.01M26 10h.01M76 10h.01M18 12h.01M20 12h.01M22 12h.01M78 12h.01M-2 14h.01M16 16h.01M12 18h.01M14 18h.01M16 18h.01M72 18h.01M10 20h.01M12 20h.01M14 20h.01M16 20h.01M18 20h.01M20 20h.01M14 22h.01M16 22h.01M18 22h.01M44 90h.01M48 90h.01M40 92h.01M36 96h.01M32 100h.01M34 104h.01M38 106h.01M40 108h.01M46 110h.01M50 110h.01M46 112h.01"/>
<path stroke="#bfff40" d="M0 -2h.01M18 -2h.01M34 -2h.01M0 0h.01M48 0h.01M-2 2h.01M20 2h.01M34 2h.01M36 2h.01M44 2h.01M46 2h.01M0 4h.01M20 6h.01M22 6h.01M24 6h.01M26 8h.01M28 10h.01M16 12h.01M80 12h.01M2 14h.01M4 16h.01M12 16h.01M14 16h.01M8 18h.01M10 18h.01M42 92h.01M40 94h.01M36 98h.01M34 102h.01M42 108h.01M44 108h.01M46 108h.01M48 108h.01M50 112h.01"/>
<path stroke="#d5ff2a" d="M36 -2h.01M34 0h.01M2 2h.01M38 2h.01M42 2h.01M-2 4h.01M20 4h.01M22 4h.01M16 6h.01M18 6h.01M16 8h.01M18 8h.01M18 10h.01M-2 12h.01M0 12h.01M14 14h.01M10 16h.01M50 90h.01M52 90h.01M54 90h.01M56 90h.01M44 92h.01M46 92h.01M60 92h.01M38 96h.01M36 104h.01M40 106h.01M42 106h.01M44 106h.01M46 106h.01M50 108h.01M48 110h.01"/>
<path stroke="#eaff15" d="M2 -2h.01M2 0h.01M18 0h.01M36 0h.01M18 2h.01M40 2h.01M2 4h.01M4 4h.01M6 4h.01M18 4h.01M-2 6h.01M0 6h.01M2 6h.01M6 6h.01M14 6h.01M-2 8h.01M2 8h.01M4 8h.01M14 8h.01M-2 10h.01M6 10h.01M16 10h.01M78 10h.01M14 12h.01M4 14h.01M8 14h.01M10 14h.01M12 14h.01M76 14h.01M6 16h.01M58 90h.01M60 90h.01M48 92h.01M58 92h.01M42 94h.01M44 94h.01M46 94h.01M40 96h.01M38 98h.01M34 100h.01M36 100h.01M38 104h.01M40 104h.01M42 104h.01M48 112h.01"/>
<path stroke="#ffff00" d="M4 0h.01M4 2h.01M16 2h.01M14 4h.01M16 4h.01M4 6h.01M8 6h.01M0 8h.01M6 8h.01M0 10h.01M4 10h.01M14 10h.01M2 12h.01M6 12h.01M8 12h.01M10 12h.01M12 12h.01M6 14h.01M8 16h.01M50 92h.01M52 92h.01M56 92h.01M48 94h.01M58 94h.01M42 96h.01M46 96h.01M36 102h.01M38 102h.01M44 104h.01M48 106h.01"/>
<path stroke="#ffea00" d="M4 -2h.01M16 -2h.01M16 0h.01M6 2h.01M14 2h.01M8 4h.01M12 4h.01M12 6h.01M12 8h.01M2 10h.01M8 10h.01M12 10h.01M4 12h.01M54 92h.01M50 94h.01M52 94h.01M44 96h.01M38 100h.01M40 102h.01M56 102h.01M46 104h.01M54 104h.01M54 106h.01"/>
<path stroke="#ffd500" d="M6 -2h.01M6 0h.01M8 2h.01M10 6h.01M8 8h.01M10 10h.01M54 94h.01M56 94h.01M48 96h.01M52 96h.01M54 96h.01M56 96h.01M58 96h.01M40 98h.01M42 98h.01M42 102h.01"/>
<path stroke="#ffbf00" d="M14 -2h.01M8 0h.01M14 0h.01M10 2h.01M12 2h.01M10 4h.01M10 8h.01M50 96h.01M44 98h.01M46 98h.01M56 98h.01M54 102h.01M52 104h.01M50 106h.01"/>
<path stroke="#ffaa00" d="M8 -2h.01M10 0h.01M48 98h.01M52 98h.01M54 98h.01M40 100h.01M42 100h.01M56 100h.01M44 102h.01M52 102h.01M48 104h.01M52 106h.01"/>
<path stroke="#ff9500" d="M12 0h.01M50 98h.01M44 100h.01M54 100h.01M46 102h.01M50 104h.01"/>
<path stroke="#ff8000" d="M12 -2h.01M46 100h.01M48 100h.01M52 100h.01M48 102h.01M50 102h.01"/>
<path stroke="#ff6a00" d="M10 -2h.01M86 6h.01M86 10h.01M76 16h.01"/>
<path stroke="#ff5500" d="M38 -2h.01M40 -2h.01M42 -2h.01M44 -2h.01M46 -2h.01M38 0h.01M40 0h.01M42 0h.01M44 0h.01M46 0h.01M76 4h.01M78 4h.01M80 4h.01M84 4h.01M76 6h.01M78 6h.01M80 6h.01M76 8h.01M78 8h.01M80 8h.01M50 100h.01"/>
<path stroke="#ff4000" d="M82 4h.01M80 10h.01M82 12h.01M84 12h.01"/>
<path stroke="#ff1500" d="M82 6h.01M84 6h.01M82 8h.01M84 8h.01M86 8h.01M82 10h.01M84 10h.01"/>
<path stroke="#ff0000" d="M70 14h.01M72 14h.01M74 14h.01M70 16h.01M72 16h.01M74 16h.01M52 108h.01M54 108h.01M52 110h.01M52 112h.01"/>
</g>
<use href="#st"/>
</g>
<rect x="1038.0" y="96.0" width="234.7" height="214.1" fill="none" stroke="#101010" stroke-width="1.0"/>
<text x="1060.00" y="74.60" font-size="12.72" font-weight="bold" fill="#262626" stroke="#262626" stroke-width="0.31" textLength="25.05" lengthAdjust="spacingAndGlyphs" >100</text>
<circle cx="1088.05" cy="62.60" r="1.35" fill="none" stroke="#262626" stroke-width="0.9"/>
<text x="1095.65" y="74.60" font-size="12.72" font-weight="bold" fill="#262626" stroke="#262626" stroke-width="0.31" textLength="13.24" lengthAdjust="spacingAndGlyphs" >W</text>
<text x="1127.50" y="74.60" font-size="12.72" font-weight="bold" fill="#262626" stroke="#262626" stroke-width="0.31" textLength="16.70" lengthAdjust="spacingAndGlyphs" >90</text>
<circle cx="1147.20" cy="62.60" r="1.35" fill="none" stroke="#262626" stroke-width="0.9"/>
<text x="1154.80" y="74.60" font-size="12.72" font-weight="bold" fill="#262626" stroke="#262626" stroke-width="0.31" textLength="13.24" lengthAdjust="spacingAndGlyphs" >W</text>
<text x="1190.50" y="74.60" font-size="12.72" font-weight="bold" fill="#262626" stroke="#262626" stroke-width="0.31" textLength="16.70" lengthAdjust="spacingAndGlyphs" >80</text>
<circle cx="1210.20" cy="62.60" r="1.35" fill="none" stroke="#262626" stroke-width="0.9"/>
<text x="1217.80" y="74.60" font-size="12.72" font-weight="bold" fill="#262626" stroke="#262626" stroke-width="0.31" textLength="13.24" lengthAdjust="spacingAndGlyphs" >W</text>
<text x="1256.00" y="74.60" font-size="12.72" font-weight="bold" fill="#262626" stroke="#262626" stroke-width="0.31" textLength="16.70" lengthAdjust="spacingAndGlyphs" >70</text>
<circle cx="1275.70" cy="62.60" r="1.35" fill="none" stroke="#262626" stroke-width="0.9"/>
<text x="1283.30" y="74.60" font-size="12.72" font-weight="bold" fill="#262626" stroke="#262626" stroke-width="0.31" textLength="13.24" lengthAdjust="spacingAndGlyphs" >W</text>
<text x="988.30" y="112.50" font-size="12.72" font-weight="bold" fill="#262626" stroke="#262626" stroke-width="0.31" textLength="16.70" lengthAdjust="spacingAndGlyphs" >48</text>
<circle cx="1008.90" cy="100.00" r="1.35" fill="none" stroke="#262626" stroke-width="0.9"/>
<text x="1018.00" y="112.50" font-size="12.72" font-weight="bold" fill="#262626" stroke="#262626" stroke-width="0.31" textLength="10.04" lengthAdjust="spacingAndGlyphs" >N</text>
<text x="988.30" y="130.78" font-size="12.72" font-weight="bold" fill="#262626" stroke="#262626" stroke-width="0.31" textLength="16.70" lengthAdjust="spacingAndGlyphs" >46</text>
<circle cx="1008.90" cy="118.28" r="1.35" fill="none" stroke="#262626" stroke-width="0.9"/>
<text x="1018.00" y="130.78" font-size="12.72" font-weight="bold" fill="#262626" stroke="#262626" stroke-width="0.31" textLength="10.04" lengthAdjust="spacingAndGlyphs" >N</text>
<text x="988.30" y="148.05" font-size="12.72" font-weight="bold" fill="#262626" stroke="#262626" stroke-width="0.31" textLength="16.70" lengthAdjust="spacingAndGlyphs" >44</text>
<circle cx="1008.90" cy="135.55" r="1.35" fill="none" stroke="#262626" stroke-width="0.9"/>
<text x="1018.00" y="148.05" font-size="12.72" font-weight="bold" fill="#262626" stroke="#262626" stroke-width="0.31" textLength="10.04" lengthAdjust="spacingAndGlyphs" >N</text>
<text x="988.30" y="166.84" font-size="12.72" font-weight="bold" fill="#262626" stroke="#262626" stroke-width="0.31" textLength="16.70" lengthAdjust="spacingAndGlyphs" >42</text>
<circle cx="1008.90" cy="154.34" r="1.35" fill="none" stroke="#262626" stroke-width="0.9"/>
<text x="1018.00" y="166.84" font-size="12.72" font-weight="bold" fill="#262626" stroke="#262626" stroke-width="0.31" textLength="10.04" lengthAdjust="spacingAndGlyphs" >N</text>
<text x="988.30" y="183.00" font-size="12.72" font-weight="bold" fill="#262626" stroke="#262626" stroke-width="0.31" textLength="16.70" lengthAdjust="spacingAndGlyphs" >40</text>
<circle cx="1008.90" cy="170.50" r="1.35" fill="none" stroke="#262626" stroke-width="0.9"/>
<text x="1018.00" y="183.00" font-size="12.72" font-weight="bold" fill="#262626" stroke="#262626" stroke-width="0.31" textLength="10.04" lengthAdjust="spacingAndGlyphs" >N</text>
<text x="988.30" y="198.45" font-size="12.72" font-weight="bold" fill="#262626" stroke="#262626" stroke-width="0.31" textLength="16.70" lengthAdjust="spacingAndGlyphs" >38</text>
<circle cx="1008.90" cy="185.95" r="1.35" fill="none" stroke="#262626" stroke-width="0.9"/>
<text x="1018.00" y="198.45" font-size="12.72" font-weight="bold" fill="#262626" stroke="#262626" stroke-width="0.31" textLength="10.04" lengthAdjust="spacingAndGlyphs" >N</text>
<text x="988.30" y="215.62" font-size="12.72" font-weight="bold" fill="#262626" stroke="#262626" stroke-width="0.31" textLength="16.70" lengthAdjust="spacingAndGlyphs" >36</text>
<circle cx="1008.90" cy="203.12" r="1.35" fill="none" stroke="#262626" stroke-width="0.9"/>
<text x="1018.00" y="215.62" font-size="12.72" font-weight="bold" fill="#262626" stroke="#262626" stroke-width="0.31" textLength="10.04" lengthAdjust="spacingAndGlyphs" >N</text>
<text x="988.30" y="229.65" font-size="12.72" font-weight="bold" fill="#262626" stroke="#262626" stroke-width="0.31" textLength="16.70" lengthAdjust="spacingAndGlyphs" >34</text>
<circle cx="1008.90" cy="217.15" r="1.35" fill="none" stroke="#262626" stroke-width="0.9"/>
<text x="1018.00" y="229.65" font-size="12.72" font-weight="bold" fill="#262626" stroke="#262626" stroke-width="0.31" textLength="10.04" lengthAdjust="spacingAndGlyphs" >N</text>
<text x="988.30" y="246.82" font-size="12.72" font-weight="bold" fill="#262626" stroke="#262626" stroke-width="0.31" textLength="16.70" lengthAdjust="spacingAndGlyphs" >32</text>
<circle cx="1008.90" cy="234.32" r="1.35" fill="none" stroke="#262626" stroke-width="0.9"/>
<text x="1018.00" y="246.82" font-size="12.72" font-weight="bold" fill="#262626" stroke="#262626" stroke-width="0.31" textLength="10.04" lengthAdjust="spacingAndGlyphs" >N</text>
<text x="988.30" y="261.16" font-size="12.72" font-weight="bold" fill="#262626" stroke="#262626" stroke-width="0.31" textLength="16.70" lengthAdjust="spacingAndGlyphs" >30</text>
<circle cx="1008.90" cy="248.66" r="1.35" fill="none" stroke="#262626" stroke-width="0.9"/>
<text x="1018.00" y="261.16" font-size="12.72" font-weight="bold" fill="#262626" stroke="#262626" stroke-width="0.31" textLength="10.04" lengthAdjust="spacingAndGlyphs" >N</text>
<text x="988.30" y="274.39" font-size="12.72" font-weight="bold" fill="#262626" stroke="#262626" stroke-width="0.31" textLength="16.70" lengthAdjust="spacingAndGlyphs" >28</text>
<circle cx="1008.90" cy="261.89" r="1.35" fill="none" stroke="#262626" stroke-width="0.9"/>
<text x="1018.00" y="274.39" font-size="12.72" font-weight="bold" fill="#262626" stroke="#262626" stroke-width="0.31" textLength="10.04" lengthAdjust="spacingAndGlyphs" >N</text>
<text x="988.30" y="289.14" font-size="12.72" font-weight="bold" fill="#262626" stroke="#262626" stroke-width="0.31" textLength="16.70" lengthAdjust="spacingAndGlyphs" >26</text>
<circle cx="1008.90" cy="276.64" r="1.35" fill="none" stroke="#262626" stroke-width="0.9"/>
<text x="1018.00" y="289.14" font-size="12.72" font-weight="bold" fill="#262626" stroke="#262626" stroke-width="0.31" textLength="10.04" lengthAdjust="spacingAndGlyphs" >N</text>
<text x="988.30" y="303.38" font-size="12.72" font-weight="bold" fill="#262626" stroke="#262626" stroke-width="0.31" textLength="16.70" lengthAdjust="spacingAndGlyphs" >24</text>
<circle cx="1008.90" cy="290.88" r="1.35" fill="none" stroke="#262626" stroke-width="0.9"/>
<text x="1018.00" y="303.38" font-size="12.72" font-weight="bold" fill="#262626" stroke="#262626" stroke-width="0.31" textLength="10.04" lengthAdjust="spacingAndGlyphs" >N</text>
<text x="988.30" y="316.30" font-size="12.72" font-weight="bold" fill="#262626" stroke="#262626" stroke-width="0.31" textLength="16.70" lengthAdjust="spacingAndGlyphs" >22</text>
<circle cx="1008.90" cy="303.80" r="1.35" fill="none" stroke="#262626" stroke-width="0.9"/>
<text x="1018.00" y="316.30" font-size="12.72" font-weight="bold" fill="#262626" stroke="#262626" stroke-width="0.31" textLength="10.04" lengthAdjust="spacingAndGlyphs" >N</text>
<rect x="1285.2" y="93.1" width="23.50" height="219.30" fill="url(#jet)" stroke="#1a1a1a" stroke-width="0.8"/>
<path d="M1306.40 312.40H1308.70" stroke="#1a1a1a" stroke-width="0.8"/>
<text x="1317.70" y="319.70" font-size="21.19" font-weight="bold" fill="#262626" stroke="#262626" stroke-width="0.52" textLength="13.92" lengthAdjust="spacingAndGlyphs" >0</text>
<path d="M1306.40 229.02H1308.70" stroke="#1a1a1a" stroke-width="0.8"/>
<text x="1317.70" y="236.32" font-size="21.19" font-weight="bold" fill="#262626" stroke="#262626" stroke-width="0.52" textLength="35.43" lengthAdjust="spacingAndGlyphs" >0.5</text>
<path d="M1306.40 145.63H1308.70" stroke="#1a1a1a" stroke-width="0.8"/>
<text x="1317.70" y="152.93" font-size="21.19" font-weight="bold" fill="#262626" stroke="#262626" stroke-width="0.52" textLength="13.92" lengthAdjust="spacingAndGlyphs" >1</text>
<text x="965.54" y="343.20" font-size="24.48" font-weight="bold" fill="#262626" stroke="#262626" stroke-width="0.60" textLength="120.43" lengthAdjust="spacingAndGlyphs" >SAT+RAP</text><text x="1094.01" y="343.20" font-size="24.48" font-weight="bold" fill="#262626" stroke="#262626" stroke-width="0.60" textLength="48.22" lengthAdjust="spacingAndGlyphs" >500</text><text x="1150.27" y="343.20" font-size="24.48" font-weight="bold" fill="#262626" stroke="#262626" stroke-width="0.60" textLength="48.34" lengthAdjust="spacingAndGlyphs" >hPa</text><text x="1206.66" y="343.20" font-size="24.48" font-weight="bold" fill="#262626" stroke="#262626" stroke-width="0.60" textLength="40.78" lengthAdjust="spacingAndGlyphs" >MR</text><text x="1255.47" y="343.20" font-size="24.48" font-weight="bold" fill="#262626" stroke="#262626" stroke-width="0.60" textLength="77.98" lengthAdjust="spacingAndGlyphs" >(g/kg)</text>
<g transform="translate(196.0,486.1) scale(1.00000,1.00141)">
<g fill="none" stroke-linecap="round" stroke-width="3.7">
<path stroke="#0000ea" d="M-2 8h.01M0 8h.01M2 8h.01M10 8h.01M12 8h.01M14 8h.01M-2 10h.01M0 10h.01M2 10h.01M10 10h.01M12 10h.01M14 10h.01M16 10h.01M-2 12h.01M0 12h.01M12 12h.01M14 12h.01M86 28h.01M80 30h.01M80 32h.01"/>
<path stroke="#0000ff" d="M86 26h.01M88 26h.01M86 30h.01M80 34h.01"/>
<path stroke="#0015ff" d="M-2 2h.01M-2 4h.01M0 4h.01M-2 6h.01M0 6h.01M16 8h.01M4 10h.01M84 26h.01M82 30h.01M84 30h.01M82 32h.01M82 36h.01"/>
<path stroke="#002aff" d="M0 2h.01M2 4h.01M2 6h.01M80 28h.01M84 28h.01M78 30h.01M82 34h.01M80 36h.01M84 36h.01"/>
<path stroke="#0040ff" d="M0 -2h.01M2 -2h.01M4 -2h.01M6 -2h.01M0 0h.01M4 0h.01M4 6h.01M4 8h.01M8 8h.01M6 10h.01M0 14h.01M90 22h.01M84 24h.01M86 24h.01M88 24h.01M82 28h.01M78 32h.01M84 32h.01M78 34h.01M84 34h.01M80 38h.01M82 38h.01M78 40h.01M80 40h.01M82 40h.01M80 42h.01M54 88h.01M52 90h.01M54 90h.01M56 90h.01M52 92h.01M54 92h.01M56 92h.01M54 94h.01"/>
<path stroke="#0055ff" d="M8 -2h.01M2 0h.01M10 0h.01M6 8h.01M8 10h.01M88 22h.01M82 26h.01M78 28h.01M78 38h.01M78 42h.01M80 44h.01M38 94h.01M40 94h.01M38 96h.01M40 96h.01M38 98h.01M40 98h.01"/>
<path stroke="#006aff" d="M6 0h.01M90 20h.01M82 22h.01M84 22h.01M86 22h.01M82 24h.01M80 26h.01M76 34h.01M78 36h.01M76 40h.01M70 56h.01M70 58h.01M70 60h.01M72 60h.01M58 90h.01M60 90h.01M58 92h.01M60 92h.01"/>
<path stroke="#0080ff" d="M10 -2h.01M8 0h.01M6 2h.01M8 2h.01M10 2h.01M12 2h.01M4 4h.01M6 4h.01M8 4h.01M10 4h.01M6 6h.01M8 6h.01M10 6h.01M2 12h.01M86 20h.01M88 20h.01M76 28h.01M76 30h.01M76 32h.01M74 34h.01M76 36h.01M76 38h.01M76 42h.01M78 44h.01M76 54h.01M68 56h.01M72 56h.01M72 58h.01M72 62h.01M42 96h.01"/>
<path stroke="#0095ff" d="M80 20h.01M82 20h.01M84 20h.01M80 22h.01M80 24h.01M78 26h.01M74 32h.01M74 36h.01M76 44h.01M78 46h.01M74 52h.01M76 52h.01M66 54h.01M68 54h.01M70 54h.01M72 54h.01M74 54h.01M74 56h.01M68 58h.01M74 58h.01M60 60h.01M72 64h.01"/>
<path stroke="#00aaff" d="M12 0h.01M80 4h.01M82 6h.01M4 12h.01M6 12h.01M8 12h.01M10 12h.01M2 14h.01M4 14h.01M6 14h.01M8 14h.01M4 16h.01M6 16h.01M8 16h.01M80 18h.01M76 26h.01M74 28h.01M74 30h.01M74 38h.01M78 48h.01M76 50h.01M78 50h.01M64 52h.01M66 52h.01M68 52h.01M70 52h.01M72 52h.01M64 54h.01M66 56h.01M58 58h.01M60 58h.01M62 60h.01M68 60h.01M70 62h.01M40 110h.01"/>
<path stroke="#00bfff" d="M12 -2h.01M78 2h.01M80 6h.01M92 16h.01M78 18h.01M82 18h.01M86 18h.01M88 18h.01M90 18h.01M74 26h.01M72 34h.01M74 40h.01M74 42h.01M68 46h.01M76 46h.01M74 48h.01M76 48h.01M60 50h.01M66 50h.01M68 50h.01M74 50h.01M62 52h.01M58 56h.01M62 62h.01M70 64h.01M58 88h.01M38 108h.01M40 108h.01"/>
<path stroke="#00d4ff" d="M14 0h.01M76 2h.01M78 4h.01M82 4h.01M88 12h.01M90 12h.01M-2 14h.01M90 14h.01M92 14h.01M2 16h.01M80 16h.01M82 16h.01M84 18h.01M78 20h.01M78 22h.01M78 24h.01M72 26h.01M72 32h.01M72 36h.01M72 38h.01M68 44h.01M74 44h.01M66 46h.01M70 46h.01M72 46h.01M74 46h.01M66 48h.01M68 48h.01M70 48h.01M72 48h.01M62 50h.01M64 50h.01M70 50h.01M72 50h.01M56 56h.01M60 56h.01M66 58h.01M58 60h.01M64 60h.01M66 60h.01M60 62h.01M70 66h.01M66 74h.01M38 110h.01"/>
<path stroke="#00eaff" d="M14 -2h.01M76 0h.01M80 2h.01M80 8h.01M80 10h.01M94 10h.01M80 12h.01M86 12h.01M92 12h.01M10 14h.01M80 14h.01M82 14h.01M88 14h.01M78 16h.01M84 16h.01M86 16h.01M88 16h.01M90 16h.01M76 18h.01M72 28h.01M72 30h.01M72 40h.01M66 42h.01M72 42h.01M66 44h.01M58 48h.01M60 48h.01M64 48h.01M54 50h.01M58 50h.01M60 52h.01M56 54h.01M58 54h.01M62 54h.01M64 56h.01M62 58h.01M64 58h.01M64 62h.01M68 62h.01M68 64h.01M68 66h.01M40 92h.01M42 94h.01M38 106h.01"/>
<path stroke="#00ffff" d="M16 -2h.01M76 -2h.01M16 0h.01M28 0h.01M30 0h.01M74 0h.01M78 0h.01M16 2h.01M78 10h.01M78 12h.01M82 12h.01M84 12h.01M94 12h.01M78 14h.01M84 14h.01M86 14h.01M74 16h.01M76 16h.01M70 34h.01M64 38h.01M66 38h.01M70 38h.01M64 40h.01M66 40h.01M68 40h.01M70 40h.01M68 42h.01M70 44h.01M72 44h.01M64 46h.01M62 48h.01M56 50h.01M54 52h.01M56 52h.01M58 52h.01M60 54h.01M62 56h.01M56 58h.01M66 62h.01M60 64h.01M62 64h.01M64 64h.01M66 64h.01M60 66h.01M60 68h.01M62 68h.01M66 72h.01M66 76h.01M58 94h.01M40 100h.01M40 102h.01M36 106h.01M40 106h.01M36 108h.01M42 110h.01M42 112h.01"/>
<path stroke="#15ffea" d="M24 -2h.01M26 -2h.01M30 -2h.01M74 -2h.01M78 -2h.01M26 0h.01M32 0h.01M28 2h.01M30 2h.01M74 2h.01M82 2h.01M76 4h.01M84 4h.01M78 6h.01M78 8h.01M76 10h.01M76 12h.01M74 18h.01M76 20h.01M76 22h.01M72 24h.01M74 24h.01M76 24h.01M68 32h.01M70 32h.01M68 34h.01M62 36h.01M64 36h.01M70 36h.01M68 38h.01M64 42h.01M70 42h.01M64 44h.01M52 48h.01M54 48h.01M56 48h.01M52 50h.01M54 54h.01M58 62h.01M66 66h.01M68 68h.01M70 68h.01M62 70h.01M64 70h.01M64 72h.01M68 72h.01M38 104h.01M40 104h.01"/>
<path stroke="#2bffd4" d="M28 -2h.01M32 -2h.01M56 -2h.01M80 -2h.01M24 0h.01M34 0h.01M80 0h.01M82 0h.01M32 2h.01M30 4h.01M76 8h.01M74 14h.01M76 14h.01M-2 16h.01M72 16h.01M66 22h.01M68 22h.01M70 24h.01M70 26h.01M70 30h.01M64 32h.01M66 32h.01M60 34h.01M62 34h.01M64 34h.01M66 34h.01M66 36h.01M68 36h.01M62 38h.01M52 46h.01M54 46h.01M56 46h.01M58 46h.01M60 46h.01M62 46h.01M50 50h.01M50 52h.01M52 52h.01M54 56h.01M56 60h.01M58 64h.01M62 66h.01M64 66h.01M64 68h.01M66 68h.01M60 70h.01M66 70h.01M62 72h.01M64 74h.01M32 96h.01M34 96h.01M36 96h.01M36 98h.01M38 100h.01M42 100h.01M42 102h.01M36 104h.01M42 108h.01M36 110h.01"/>
<path stroke="#40ffbf" d="M18 -2h.01M34 -2h.01M36 -2h.01M38 -2h.01M54 -2h.01M58 -2h.01M72 -2h.01M82 -2h.01M18 0h.01M36 0h.01M18 2h.01M26 2h.01M34 2h.01M36 2h.01M84 2h.01M28 4h.01M32 4h.01M34 4h.01M56 4h.01M88 4h.01M56 6h.01M58 6h.01M76 6h.01M64 12h.01M66 14h.01M72 14h.01M66 16h.01M68 16h.01M72 18h.01M66 20h.01M74 22h.01M68 24h.01M64 28h.01M66 28h.01M68 28h.01M70 28h.01M64 30h.01M66 30h.01M68 30h.01M58 32h.01M58 34h.01M60 36h.01M62 40h.01M62 42h.01M50 44h.01M62 44h.01M50 46h.01M44 48h.01M46 48h.01M50 48h.01M44 50h.01M46 50h.01M48 50h.01M52 54h.01M56 62h.01M58 66h.01M68 70h.01M60 72h.01M34 76h.01M58 76h.01M64 76h.01M36 78h.01M38 78h.01M66 78h.01M50 80h.01M52 80h.01M52 82h.01M54 82h.01M56 82h.01M58 84h.01M38 90h.01M40 90h.01M32 94h.01M34 94h.01M36 94h.01M30 96h.01M32 98h.01M34 98h.01M42 98h.01M34 100h.01M36 100h.01M34 102h.01M36 102h.01M38 102h.01M42 104h.01M42 106h.01"/>
<path stroke="#55ffaa" d="M22 -2h.01M40 -2h.01M42 -2h.01M44 -2h.01M46 -2h.01M48 -2h.01M50 -2h.01M52 -2h.01M60 -2h.01M62 -2h.01M22 0h.01M42 0h.01M44 0h.01M46 0h.01M48 0h.01M50 0h.01M52 0h.01M58 0h.01M60 0h.01M72 0h.01M84 0h.01M48 2h.01M50 2h.01M54 2h.01M86 2h.01M18 4h.01M22 4h.01M24 4h.01M26 4h.01M36 4h.01M58 4h.01M74 4h.01M86 4h.01M26 6h.01M28 6h.01M54 6h.01M74 6h.01M18 8h.01M74 8h.01M18 10h.01M74 10h.01M52 12h.01M62 12h.01M74 12h.01M12 14h.01M44 14h.01M46 14h.01M52 14h.01M54 14h.01M64 14h.01M68 14h.01M0 16h.01M46 16h.01M48 16h.01M50 16h.01M70 16h.01M64 18h.01M66 18h.01M64 20h.01M68 20h.01M74 20h.01M70 22h.01M72 22h.01M66 24h.01M64 26h.01M66 26h.01M68 26h.01M62 30h.01M56 32h.01M60 32h.01M62 32h.01M60 38h.01M48 44h.01M52 44h.01M54 44h.01M58 44h.01M60 44h.01M42 46h.01M44 46h.01M46 46h.01M48 46h.01M42 48h.01M48 48h.01M32 52h.01M34 52h.01M44 52h.01M46 52h.01M48 52h.01M34 54h.01M50 54h.01M34 56h.01M34 58h.01M54 58h.01M54 60h.01M54 62h.01M56 64h.01M32 74h.01M34 74h.01M56 74h.01M62 74h.01M32 76h.01M36 76h.01M60 76h.01M62 76h.01M18 78h.01M20 78h.01M32 78h.01M34 78h.01M52 78h.01M58 78h.01M60 78h.01M6 80h.01M10 80h.01M12 80h.01M18 80h.01M20 80h.01M38 80h.01M40 80h.01M48 80h.01M54 80h.01M50 82h.01M58 82h.01M32 84h.01M34 84h.01M52 84h.01M54 84h.01M56 84h.01M60 84h.01M62 84h.01M34 86h.01M62 86h.01M34 88h.01M36 88h.01M38 88h.01M40 88h.01M42 88h.01M44 88h.01M52 88h.01M60 88h.01M36 90h.01M42 90h.01M44 90h.01M46 90h.01M30 92h.01M32 92h.01M34 92h.01M36 92h.01M38 92h.01M42 92h.01M30 94h.01M44 94h.01M44 96h.01M30 98h.01M44 98h.01M32 100h.01M32 102h.01M26 104h.01M34 104h.01M28 106h.01M34 106h.01M44 112h.01"/>
<path stroke="#6aff95" d="M20 -2h.01M70 -2h.01M20 0h.01M38 0h.01M40 0h.01M54 0h.01M56 0h.01M62 0h.01M64 0h.01M22 2h.01M24 2h.01M44 2h.01M46 2h.01M52 2h.01M56 2h.01M72 2h.01M38 4h.01M52 4h.01M54 4h.01M18 6h.01M24 6h.01M30 6h.01M32 6h.01M34 6h.01M38 6h.01M40 6h.01M60 6h.01M72 6h.01M36 8h.01M58 8h.01M60 8h.01M72 8h.01M40 10h.01M42 10h.01M52 10h.01M62 10h.01M72 10h.01M16 12h.01M40 12h.01M42 12h.01M44 12h.01M50 12h.01M66 12h.01M70 12h.01M72 12h.01M14 14h.01M32 14h.01M42 14h.01M48 14h.01M50 14h.01M56 14h.01M58 14h.01M70 14h.01M10 16h.01M42 16h.01M44 16h.01M52 16h.01M54 16h.01M56 16h.01M58 16h.01M60 16h.01M62 16h.01M64 16h.01M50 18h.01M52 18h.01M54 18h.01M62 18h.01M68 18h.01M70 18h.01M52 20h.01M54 20h.01M70 20h.01M72 20h.01M64 22h.01M62 24h.01M64 24h.01M62 26h.01M62 28h.01M54 30h.01M56 30h.01M58 30h.01M58 36h.01M60 40h.01M60 42h.01M46 44h.01M56 44h.01M42 50h.01M30 52h.01M32 54h.01M36 54h.01M38 54h.01M46 54h.01M48 54h.01M36 56h.01M38 56h.01M40 56h.01M44 56h.01M46 56h.01M50 56h.01M52 56h.01M36 58h.01M52 58h.01M36 60h.01M52 60h.01M38 62h.01M52 62h.01M34 68h.01M58 68h.01M30 72h.01M32 72h.01M58 72h.01M30 74h.01M58 74h.01M60 74h.01M18 76h.01M28 76h.01M30 76h.01M56 76h.01M8 78h.01M10 78h.01M16 78h.01M28 78h.01M30 78h.01M46 78h.01M50 78h.01M62 78h.01M64 78h.01M14 80h.01M16 80h.01M22 80h.01M28 80h.01M30 80h.01M32 80h.01M36 80h.01M46 80h.01M56 80h.01M58 80h.01M60 80h.01M62 80h.01M64 80h.01M12 82h.01M22 82h.01M30 82h.01M32 82h.01M40 82h.01M42 82h.01M62 82h.01M64 82h.01M42 84h.01M50 84h.01M32 86h.01M36 86h.01M40 86h.01M42 86h.01M44 86h.01M52 86h.01M54 86h.01M56 86h.01M58 86h.01M60 86h.01M28 88h.01M32 88h.01M46 88h.01M56 88h.01M30 90h.01M34 90h.01M48 90h.01M44 92h.01M48 92h.01M46 94h.01M28 96h.01M46 96h.01M46 98h.01M32 104h.01M44 104h.01M32 108h.01M34 108h.01"/>
<path stroke="#80ff80" d="M64 -2h.01M66 -2h.01M68 -2h.01M66 0h.01M20 2h.01M38 2h.01M40 2h.01M42 2h.01M58 2h.01M60 2h.01M66 2h.01M20 4h.01M40 4h.01M72 4h.01M36 6h.01M42 6h.01M70 6h.01M26 8h.01M28 8h.01M34 8h.01M38 8h.01M40 8h.01M42 8h.01M44 8h.01M54 8h.01M56 8h.01M70 8h.01M38 10h.01M44 10h.01M58 10h.01M60 10h.01M64 10h.01M68 10h.01M70 10h.01M18 12h.01M30 12h.01M46 12h.01M54 12h.01M58 12h.01M60 12h.01M68 12h.01M34 14h.01M40 14h.01M60 14h.01M62 14h.01M12 16h.01M34 16h.01M40 16h.01M42 18h.01M44 18h.01M48 18h.01M56 18h.01M58 18h.01M60 18h.01M42 20h.01M44 20h.01M56 20h.01M62 20h.01M54 22h.01M60 24h.01M60 26h.01M60 28h.01M60 30h.01M54 32h.01M-2 34h.01M0 34h.01M56 34h.01M0 36h.01M2 36h.01M58 38h.01M-2 40h.01M0 40h.01M-2 42h.01M0 42h.01M46 42h.01M48 42h.01M50 42h.01M52 42h.01M54 42h.01M58 42h.01M44 44h.01M40 46h.01M40 48h.01M28 50h.01M30 50h.01M32 50h.01M40 50h.01M-2 52h.01M28 52h.01M36 52h.01M42 52h.01M-2 54h.01M0 54h.01M30 54h.01M40 54h.01M42 54h.01M44 54h.01M32 56h.01M42 56h.01M48 56h.01M38 58h.01M40 58h.01M42 58h.01M44 58h.01M48 58h.01M50 58h.01M34 60h.01M38 60h.01M36 62h.01M38 64h.01M54 64h.01M58 70h.01M28 72h.01M20 74h.01M28 74h.01M36 74h.01M48 74h.01M54 74h.01M12 76h.01M16 76h.01M20 76h.01M38 76h.01M44 76h.01M46 76h.01M48 76h.01M50 76h.01M52 76h.01M12 78h.01M40 78h.01M44 78h.01M48 78h.01M54 78h.01M56 78h.01M8 80h.01M26 80h.01M34 80h.01M42 80h.01M8 82h.01M14 82h.01M20 82h.01M24 82h.01M34 82h.01M36 82h.01M38 82h.01M48 82h.01M60 82h.01M10 84h.01M12 84h.01M24 84h.01M30 84h.01M36 84h.01M40 84h.01M44 84h.01M26 86h.01M28 86h.01M30 86h.01M38 86h.01M46 86h.01M26 88h.01M30 88h.01M28 90h.01M32 90h.01M26 92h.01M28 92h.01M46 92h.01M50 92h.01M28 94h.01M52 94h.01M56 94h.01M48 96h.01M28 98h.01M22 100h.01M30 100h.01M44 100h.01M24 102h.01M30 102h.01M44 102h.01M28 104h.01M30 104h.01M44 106h.01M44 110h.01"/>
<path stroke="#95ff6a" d="M84 -2h.01M68 0h.01M70 0h.01M62 2h.01M64 2h.01M68 2h.01M42 4h.01M44 4h.01M60 4h.01M66 4h.01M68 4h.01M70 4h.01M22 6h.01M44 6h.01M68 6h.01M24 8h.01M30 8h.01M32 8h.01M62 8h.01M68 8h.01M26 10h.01M28 10h.01M30 10h.01M34 10h.01M36 10h.01M54 10h.01M56 10h.01M66 10h.01M26 12h.01M28 12h.01M32 12h.01M34 12h.01M36 12h.01M38 12h.01M48 12h.01M56 12h.01M16 14h.01M30 14h.01M36 14h.01M38 14h.01M14 16h.01M16 16h.01M32 16h.01M36 16h.01M38 16h.01M-2 18h.01M0 18h.01M36 18h.01M38 18h.01M40 18h.01M46 18h.01M40 20h.01M46 20h.01M48 20h.01M50 20h.01M58 20h.01M60 20h.01M44 22h.01M46 22h.01M48 22h.01M52 22h.01M56 22h.01M62 22h.01M50 24h.01M54 24h.01M56 24h.01M58 24h.01M58 26h.01M54 28h.01M56 28h.01M58 28h.01M-2 32h.01M0 32h.01M2 34h.01M42 34h.01M44 34h.01M56 36h.01M0 38h.01M2 38h.01M56 38h.01M2 40h.01M58 40h.01M2 42h.01M56 42h.01M40 44h.01M42 44h.01M38 46h.01M-2 48h.01M30 48h.01M38 48h.01M-2 50h.01M34 50h.01M0 52h.01M38 52h.01M40 52h.01M28 54h.01M30 56h.01M32 58h.01M46 58h.01M42 60h.01M44 60h.01M48 60h.01M50 60h.01M40 62h.01M40 64h.01M34 66h.01M40 66h.01M56 66h.01M32 68h.01M36 68h.01M28 70h.01M26 72h.01M34 72h.01M52 72h.01M54 72h.01M56 72h.01M12 74h.01M18 74h.01M22 74h.01M38 74h.01M46 74h.01M10 76h.01M14 76h.01M22 76h.01M24 76h.01M26 76h.01M54 76h.01M14 78h.01M22 78h.01M26 78h.01M42 78h.01M24 80h.01M44 80h.01M10 82h.01M16 82h.01M26 82h.01M28 82h.01M44 82h.01M14 84h.01M22 84h.01M26 84h.01M28 84h.01M38 84h.01M46 84h.01M48 84h.01M12 86h.01M24 86h.01M48 86h.01M50 86h.01M48 88h.01M50 88h.01M26 90h.01M50 90h.01M48 94h.01M50 94h.01M54 96h.01M56 96h.01M58 96h.01M24 98h.01M26 98h.01M24 100h.01M26 100h.01M28 100h.01M26 102h.01M28 102h.01M30 106h.01M32 106h.01M44 108h.01"/>
<path stroke="#aaff55" d="M70 2h.01M62 4h.01M64 4h.01M62 6h.01M64 8h.01M66 8h.01M20 10h.01M22 10h.01M24 10h.01M32 10h.01M20 12h.01M22 12h.01M24 12h.01M18 14h.01M22 14h.01M24 14h.01M26 14h.01M28 14h.01M18 16h.01M22 16h.01M24 16h.01M2 18h.01M4 18h.01M6 18h.01M12 18h.01M14 18h.01M24 18h.01M34 18h.01M36 20h.01M38 20h.01M36 22h.01M38 22h.01M40 22h.01M42 22h.01M50 22h.01M58 22h.01M60 22h.01M8 24h.01M42 24h.01M44 24h.01M48 24h.01M52 24h.01M4 26h.01M6 26h.01M44 26h.01M48 26h.01M50 26h.01M52 26h.01M54 26h.01M56 26h.01M2 28h.01M4 28h.01M48 28h.01M50 28h.01M-2 30h.01M0 30h.01M2 30h.01M38 30h.01M40 30h.01M2 32h.01M40 32h.01M42 32h.01M52 32h.01M4 34h.01M54 34h.01M-2 36h.01M4 36h.01M40 36h.01M-2 38h.01M4 38h.01M40 38h.01M4 40h.01M6 40h.01M46 40h.01M48 40h.01M50 40h.01M52 40h.01M54 40h.01M56 40h.01M44 42h.01M36 46h.01M0 48h.01M28 48h.01M32 48h.01M36 48h.01M0 50h.01M2 50h.01M36 50h.01M38 50h.01M2 56h.01M28 60h.01M32 60h.01M40 60h.01M46 60h.01M42 62h.01M44 62h.01M46 62h.01M50 62h.01M18 64h.01M36 64h.01M46 64h.01M52 64h.01M18 66h.01M20 66h.01M28 66h.01M30 66h.01M32 66h.01M36 66h.01M38 66h.01M42 66h.01M16 68h.01M20 68h.01M22 68h.01M24 68h.01M26 68h.01M28 68h.01M30 68h.01M42 68h.01M18 70h.01M24 70h.01M26 70h.01M30 70h.01M32 70h.01M34 70h.01M44 70h.01M18 72h.01M20 72h.01M22 72h.01M24 72h.01M44 72h.01M46 72h.01M14 74h.01M16 74h.01M24 74h.01M26 74h.01M40 74h.01M44 74h.01M50 74h.01M52 74h.01M40 76h.01M42 76h.01M24 78h.01M18 82h.01M46 82h.01M16 84h.01M14 86h.01M24 88h.01M24 92h.01M26 94h.01M22 96h.01M26 96h.01M22 98h.01M56 98h.01"/>
<path stroke="#bfff40" d="M20 6h.01M64 6h.01M66 6h.01M20 8h.01M22 8h.01M20 14h.01M20 16h.01M30 16h.01M8 18h.01M16 18h.01M22 18h.01M30 18h.01M32 18h.01M26 20h.01M28 20h.01M30 20h.01M32 20h.01M34 20h.01M8 22h.01M28 22h.01M34 22h.01M6 24h.01M10 24h.01M34 24h.01M36 24h.01M38 24h.01M40 24h.01M46 24h.01M0 26h.01M2 26h.01M8 26h.01M34 26h.01M36 26h.01M40 26h.01M42 26h.01M46 26h.01M0 28h.01M6 28h.01M36 28h.01M38 28h.01M40 28h.01M42 28h.01M46 28h.01M52 28h.01M4 30h.01M6 30h.01M10 30h.01M50 30h.01M52 30h.01M4 32h.01M44 32h.01M6 34h.01M40 34h.01M46 34h.01M52 34h.01M6 36h.01M38 36h.01M42 36h.01M48 36h.01M50 36h.01M54 36h.01M6 38h.01M38 38h.01M42 38h.01M48 38h.01M54 38h.01M40 40h.01M42 40h.01M44 40h.01M4 42h.01M6 42h.01M8 42h.01M40 42h.01M42 42h.01M-2 44h.01M0 44h.01M2 44h.01M38 44h.01M-2 46h.01M0 46h.01M2 46h.01M2 48h.01M26 48h.01M26 50h.01M2 52h.01M4 52h.01M6 52h.01M2 54h.01M4 54h.01M6 54h.01M22 56h.01M24 56h.01M28 56h.01M4 58h.01M20 58h.01M24 58h.01M30 58h.01M20 60h.01M30 60h.01M20 62h.01M22 62h.01M24 62h.01M30 62h.01M32 62h.01M34 62h.01M48 62h.01M20 64h.01M22 64h.01M24 64h.01M26 64h.01M30 64h.01M32 64h.01M34 64h.01M42 64h.01M44 64h.01M48 64h.01M50 64h.01M22 66h.01M24 66h.01M26 66h.01M54 66h.01M18 68h.01M40 68h.01M56 68h.01M16 70h.01M20 70h.01M22 70h.01M36 70h.01M42 70h.01M52 70h.01M54 70h.01M56 70h.01M16 72h.01M36 72h.01M38 72h.01M40 72h.01M42 72h.01M48 72h.01M42 74h.01M18 84h.01M20 84h.01M16 86h.01M22 86h.01M24 90h.01M24 94h.01M24 96h.01M50 96h.01M52 96h.01M46 112h.01"/>
<path stroke="#d5ff2a" d="M26 16h.01M10 18h.01M18 18h.01M20 18h.01M26 18h.01M28 18h.01M24 20h.01M4 22h.01M6 22h.01M26 22h.01M30 22h.01M32 22h.01M-2 24h.01M0 24h.01M4 24h.01M32 24h.01M-2 26h.01M38 26h.01M-2 28h.01M8 28h.01M10 28h.01M44 28h.01M8 30h.01M42 30h.01M46 30h.01M48 30h.01M6 32h.01M10 32h.01M12 32h.01M38 32h.01M46 32h.01M50 32h.01M8 34h.01M36 34h.01M38 34h.01M48 34h.01M50 34h.01M36 36h.01M44 36h.01M46 36h.01M52 36h.01M8 38h.01M36 38h.01M46 38h.01M50 38h.01M52 38h.01M8 40h.01M38 40h.01M38 42h.01M4 44h.01M6 44h.01M34 44h.01M36 44h.01M4 46h.01M26 46h.01M28 46h.01M30 46h.01M32 46h.01M34 46h.01M4 48h.01M34 48h.01M4 50h.01M26 52h.01M8 54h.01M18 54h.01M26 54h.01M4 56h.01M6 56h.01M20 56h.01M26 56h.01M18 58h.01M22 58h.01M26 58h.01M28 58h.01M6 60h.01M22 60h.01M24 60h.01M26 60h.01M28 62h.01M28 64h.01M16 66h.01M44 66h.01M46 66h.01M48 66h.01M52 66h.01M14 68h.01M38 68h.01M44 68h.01M52 68h.01M54 68h.01M38 70h.01M40 70h.01M50 72h.01M18 86h.01M22 88h.01M22 94h.01"/>
<path stroke="#eaff15" d="M28 16h.01M4 20h.01M6 20h.01M14 20h.01M16 20h.01M22 20h.01M10 22h.01M16 22h.01M18 22h.01M2 24h.01M12 24h.01M14 24h.01M30 24h.01M10 26h.01M32 26h.01M34 28h.01M12 30h.01M36 30h.01M44 30h.01M8 32h.01M36 32h.01M48 32h.01M10 34h.01M12 34h.01M34 34h.01M8 36h.01M10 36h.01M12 36h.01M34 36h.01M10 38h.01M12 38h.01M44 38h.01M36 40h.01M36 42h.01M8 44h.01M26 44h.01M28 44h.01M32 44h.01M6 46h.01M8 46h.01M6 48h.01M8 48h.01M24 48h.01M6 50h.01M8 50h.01M24 50h.01M8 52h.01M12 52h.01M14 52h.01M14 54h.01M16 54h.01M20 54h.01M8 56h.01M18 56h.01M26 62h.01M50 66h.01M46 68h.01M48 68h.01M50 68h.01M46 70h.01M48 70h.01M50 70h.01M14 72h.01M20 86h.01M16 88h.01M22 92h.01"/>
<path stroke="#ffff00" d="M0 20h.01M2 20h.01M8 20h.01M18 20h.01M20 20h.01M-2 22h.01M0 22h.01M2 22h.01M12 22h.01M14 22h.01M20 22h.01M24 22h.01M16 24h.01M28 24h.01M12 26h.01M14 26h.01M12 28h.01M14 32h.01M34 32h.01M14 34h.01M32 34h.01M14 36h.01M34 38h.01M10 40h.01M34 40h.01M10 42h.01M24 42h.01M26 42h.01M30 44h.01M24 46h.01M10 50h.01M12 50h.01M22 50h.01M10 52h.01M16 52h.01M12 54h.01M22 54h.01M24 54h.01M16 56h.01M6 58h.01M18 60h.01M18 62h.01M18 88h.01M20 88h.01M22 90h.01"/>
<path stroke="#ffea00" d="M46 4h.01M46 10h.01M-2 20h.01M10 20h.01M12 20h.01M22 22h.01M18 24h.01M16 26h.01M28 26h.01M30 26h.01M14 28h.01M32 28h.01M14 30h.01M34 30h.01M16 32h.01M32 32h.01M16 34h.01M30 34h.01M16 36h.01M32 36h.01M14 38h.01M16 38h.01M18 38h.01M12 40h.01M12 42h.01M14 42h.01M28 42h.01M10 44h.01M24 44h.01M10 46h.01M10 48h.01M20 48h.01M22 48h.01M14 50h.01M20 50h.01M18 52h.01M20 52h.01M22 52h.01M24 52h.01M10 54h.01M10 56h.01M8 58h.01M8 62h.01M48 112h.01"/>
<path stroke="#ffd500" d="M20 24h.01M24 24h.01M26 24h.01M18 26h.01M26 26h.01M18 28h.01M20 28h.01M26 28h.01M28 28h.01M30 28h.01M32 30h.01M30 32h.01M20 38h.01M32 38h.01M14 40h.01M18 40h.01M20 40h.01M22 40h.01M22 42h.01M12 44h.01M14 44h.01M16 44h.01M16 46h.01M18 46h.01M20 46h.01M22 46h.01M12 48h.01M16 48h.01M18 48h.01M16 50h.01M18 50h.01M12 56h.01M14 56h.01M8 60h.01M12 66h.01M14 66h.01M46 110h.01"/>
<path stroke="#ffbf00" d="M22 24h.01M20 26h.01M24 26h.01M16 28h.01M24 28h.01M16 30h.01M26 30h.01M28 30h.01M30 30h.01M28 32h.01M18 34h.01M28 34h.01M18 36h.01M26 36h.01M28 36h.01M30 36h.01M16 40h.01M24 40h.01M26 40h.01M16 42h.01M20 42h.01M18 44h.01M20 44h.01M22 44h.01M12 46h.01M14 46h.01M14 48h.01M10 58h.01M12 58h.01M14 58h.01M16 58h.01M10 60h.01M12 60h.01M14 60h.01M16 60h.01M10 62h.01M12 62h.01M14 62h.01M16 62h.01M10 64h.01M12 64h.01M14 64h.01M16 64h.01M18 90h.01M20 90h.01M20 92h.01M20 100h.01"/>
<path stroke="#ffaa00" d="M22 26h.01M22 28h.01M18 30h.01M20 30h.01M22 30h.01M24 30h.01M18 32h.01M24 32h.01M26 32h.01M20 36h.01M22 38h.01M18 42h.01M18 92h.01M16 94h.01M18 94h.01M20 94h.01M16 96h.01M18 96h.01M20 96h.01M16 98h.01M18 98h.01M20 98h.01M16 100h.01M18 100h.01"/>
<path stroke="#ff9500" d="M24 34h.01M26 34h.01M24 36h.01M24 38h.01"/>
<path stroke="#ff8000" d="M20 32h.01M22 32h.01M20 34h.01M22 34h.01M22 36h.01M26 38h.01M28 38h.01M30 38h.01M28 40h.01M30 40h.01M32 40h.01M30 42h.01M32 42h.01M34 42h.01"/>
<path stroke="#ff5500" d="M52 6h.01M52 8h.01M46 100h.01"/>
<path stroke="#ff4000" d="M48 98h.01M56 100h.01"/>
<path stroke="#ff2a00" d="M48 4h.01M50 4h.01M46 6h.01M48 6h.01M50 6h.01M46 8h.01M48 8h.01M50 8h.01M48 10h.01M50 10h.01M54 98h.01M50 112h.01M52 112h.01"/>
<path stroke="#bf0000" d="M46 108h.01"/>
<path stroke="#aa0000" d="M50 98h.01M52 98h.01M48 100h.01M50 100h.01M52 100h.01M54 100h.01M46 102h.01M48 102h.01M50 102h.01M52 102h.01M54 102h.01M56 102h.01M46 104h.01M48 104h.01M50 104h.01M52 104h.01M54 104h.01M46 106h.01M48 106h.01M50 106h.01M52 106h.01M54 106h.01M48 108h.01M50 108h.01M52 108h.01M54 108h.01M48 110h.01M50 110h.01M52 110h.01"/>
<path stroke="#0000fa" stroke-width="7" d="M30.8 -1.9h.01"/>
<path stroke="#0075ff" stroke-width="7.4" d="M93.6 1.6h.01"/>
<path stroke="#61ff9e" stroke-width="6.5" d="M81.2 -0.7h.01"/>
</g>
<use href="#st"/>
</g>
<rect x="196.0" y="486.1" width="233.7" height="212.8" fill="none" stroke="#101010" stroke-width="1.0"/>
<text x="215.80" y="466.60" font-size="12.72" font-weight="bold" fill="#262626" stroke="#262626" stroke-width="0.31" textLength="25.05" lengthAdjust="spacingAndGlyphs" >100</text>
<circle cx="243.85" cy="454.60" r="1.35" fill="none" stroke="#262626" stroke-width="0.9"/>
<text x="251.45" y="466.60" font-size="12.72" font-weight="bold" fill="#262626" stroke="#262626" stroke-width="0.31" textLength="13.24" lengthAdjust="spacingAndGlyphs" >W</text>
<text x="284.60" y="466.60" font-size="12.72" font-weight="bold" fill="#262626" stroke="#262626" stroke-width="0.31" textLength="16.70" lengthAdjust="spacingAndGlyphs" >90</text>
<circle cx="304.30" cy="454.60" r="1.35" fill="none" stroke="#262626" stroke-width="0.9"/>
<text x="311.90" y="466.60" font-size="12.72" font-weight="bold" fill="#262626" stroke="#262626" stroke-width="0.31" textLength="13.24" lengthAdjust="spacingAndGlyphs" >W</text>
<text x="348.50" y="466.60" font-size="12.72" font-weight="bold" fill="#262626" stroke="#262626" stroke-width="0.31" textLength="16.70" lengthAdjust="spacingAndGlyphs" >80</text>
<circle cx="368.20" cy="454.60" r="1.35" fill="none" stroke="#262626" stroke-width="0.9"/>
<text x="375.80" y="466.60" font-size="12.72" font-weight="bold" fill="#262626" stroke="#262626" stroke-width="0.31" textLength="13.24" lengthAdjust="spacingAndGlyphs" >W</text>
<text x="412.00" y="466.60" font-size="12.72" font-weight="bold" fill="#262626" stroke="#262626" stroke-width="0.31" textLength="16.70" lengthAdjust="spacingAndGlyphs" >70</text>
<circle cx="431.70" cy="454.60" r="1.35" fill="none" stroke="#262626" stroke-width="0.9"/>
<text x="439.30" y="466.60" font-size="12.72" font-weight="bold" fill="#262626" stroke="#262626" stroke-width="0.31" textLength="13.24" lengthAdjust="spacingAndGlyphs" >W</text>
<text x="146.30" y="501.70" font-size="12.72" font-weight="bold" fill="#262626" stroke="#262626" stroke-width="0.31" textLength="16.70" lengthAdjust="spacingAndGlyphs" >48</text>
<circle cx="167.90" cy="489.20" r="1.35" fill="none" stroke="#262626" stroke-width="0.9"/>
<text x="176.00" y="501.70" font-size="12.72" font-weight="bold" fill="#262626" stroke="#262626" stroke-width="0.31" textLength="10.04" lengthAdjust="spacingAndGlyphs" >N</text>
<text x="146.30" y="519.80" font-size="12.72" font-weight="bold" fill="#262626" stroke="#262626" stroke-width="0.31" textLength="16.70" lengthAdjust="spacingAndGlyphs" >46</text>
<circle cx="167.90" cy="507.30" r="1.35" fill="none" stroke="#262626" stroke-width="0.9"/>
<text x="176.00" y="519.80" font-size="12.72" font-weight="bold" fill="#262626" stroke="#262626" stroke-width="0.31" textLength="10.04" lengthAdjust="spacingAndGlyphs" >N</text>
<text x="146.30" y="536.90" font-size="12.72" font-weight="bold" fill="#262626" stroke="#262626" stroke-width="0.31" textLength="16.70" lengthAdjust="spacingAndGlyphs" >44</text>
<circle cx="167.90" cy="524.40" r="1.35" fill="none" stroke="#262626" stroke-width="0.9"/>
<text x="176.00" y="536.90" font-size="12.72" font-weight="bold" fill="#262626" stroke="#262626" stroke-width="0.31" textLength="10.04" lengthAdjust="spacingAndGlyphs" >N</text>
<text x="146.30" y="555.50" font-size="12.72" font-weight="bold" fill="#262626" stroke="#262626" stroke-width="0.31" textLength="16.70" lengthAdjust="spacingAndGlyphs" >42</text>
<circle cx="167.90" cy="543.00" r="1.35" fill="none" stroke="#262626" stroke-width="0.9"/>
<text x="176.00" y="555.50" font-size="12.72" font-weight="bold" fill="#262626" stroke="#262626" stroke-width="0.31" textLength="10.04" lengthAdjust="spacingAndGlyphs" >N</text>
<text x="146.30" y="571.50" font-size="12.72" font-weight="bold" fill="#262626" stroke="#262626" stroke-width="0.31" textLength="16.70" lengthAdjust="spacingAndGlyphs" >40</text>
<circle cx="167.90" cy="559.00" r="1.35" fill="none" stroke="#262626" stroke-width="0.9"/>
<text x="176.00" y="571.50" font-size="12.72" font-weight="bold" fill="#262626" stroke="#262626" stroke-width="0.31" textLength="10.04" lengthAdjust="spacingAndGlyphs" >N</text>
<text x="146.30" y="586.80" font-size="12.72" font-weight="bold" fill="#262626" stroke="#262626" stroke-width="0.31" textLength="16.70" lengthAdjust="spacingAndGlyphs" >38</text>
<circle cx="167.90" cy="574.30" r="1.35" fill="none" stroke="#262626" stroke-width="0.9"/>
<text x="176.00" y="586.80" font-size="12.72" font-weight="bold" fill="#262626" stroke="#262626" stroke-width="0.31" textLength="10.04" lengthAdjust="spacingAndGlyphs" >N</text>
<text x="146.30" y="603.80" font-size="12.72" font-weight="bold" fill="#262626" stroke="#262626" stroke-width="0.31" textLength="16.70" lengthAdjust="spacingAndGlyphs" >36</text>
<circle cx="167.90" cy="591.30" r="1.35" fill="none" stroke="#262626" stroke-width="0.9"/>
<text x="176.00" y="603.80" font-size="12.72" font-weight="bold" fill="#262626" stroke="#262626" stroke-width="0.31" textLength="10.04" lengthAdjust="spacingAndGlyphs" >N</text>
<text x="146.30" y="617.70" font-size="12.72" font-weight="bold" fill="#262626" stroke="#262626" stroke-width="0.31" textLength="16.70" lengthAdjust="spacingAndGlyphs" >34</text>
<circle cx="167.90" cy="605.20" r="1.35" fill="none" stroke="#262626" stroke-width="0.9"/>
<text x="176.00" y="617.70" font-size="12.72" font-weight="bold" fill="#262626" stroke="#262626" stroke-width="0.31" textLength="10.04" lengthAdjust="spacingAndGlyphs" >N</text>
<text x="146.30" y="634.70" font-size="12.72" font-weight="bold" fill="#262626" stroke="#262626" stroke-width="0.31" textLength="16.70" lengthAdjust="spacingAndGlyphs" >32</text>
<circle cx="167.90" cy="622.20" r="1.35" fill="none" stroke="#262626" stroke-width="0.9"/>
<text x="176.00" y="634.70" font-size="12.72" font-weight="bold" fill="#262626" stroke="#262626" stroke-width="0.31" textLength="10.04" lengthAdjust="spacingAndGlyphs" >N</text>
<text x="146.30" y="648.90" font-size="12.72" font-weight="bold" fill="#262626" stroke="#262626" stroke-width="0.31" textLength="16.70" lengthAdjust="spacingAndGlyphs" >30</text>
<circle cx="167.90" cy="636.40" r="1.35" fill="none" stroke="#262626" stroke-width="0.9"/>
<text x="176.00" y="648.90" font-size="12.72" font-weight="bold" fill="#262626" stroke="#262626" stroke-width="0.31" textLength="10.04" lengthAdjust="spacingAndGlyphs" >N</text>
<text x="146.30" y="662.00" font-size="12.72" font-weight="bold" fill="#262626" stroke="#262626" stroke-width="0.31" textLength="16.70" lengthAdjust="spacingAndGlyphs" >28</text>
<circle cx="167.90" cy="649.50" r="1.35" fill="none" stroke="#262626" stroke-width="0.9"/>
<text x="176.00" y="662.00" font-size="12.72" font-weight="bold" fill="#262626" stroke="#262626" stroke-width="0.31" textLength="10.04" lengthAdjust="spacingAndGlyphs" >N</text>
<text x="146.30" y="676.60" font-size="12.72" font-weight="bold" fill="#262626" stroke="#262626" stroke-width="0.31" textLength="16.70" lengthAdjust="spacingAndGlyphs" >26</text>
<circle cx="167.90" cy="664.10" r="1.35" fill="none" stroke="#262626" stroke-width="0.9"/>
<text x="176.00" y="676.60" font-size="12.72" font-weight="bold" fill="#262626" stroke="#262626" stroke-width="0.31" textLength="10.04" lengthAdjust="spacingAndGlyphs" >N</text>
<text x="146.30" y="690.70" font-size="12.72" font-weight="bold" fill="#262626" stroke="#262626" stroke-width="0.31" textLength="16.70" lengthAdjust="spacingAndGlyphs" >24</text>
<circle cx="167.90" cy="678.20" r="1.35" fill="none" stroke="#262626" stroke-width="0.9"/>
<text x="176.00" y="690.70" font-size="12.72" font-weight="bold" fill="#262626" stroke="#262626" stroke-width="0.31" textLength="10.04" lengthAdjust="spacingAndGlyphs" >N</text>
<text x="146.30" y="703.50" font-size="12.72" font-weight="bold" fill="#262626" stroke="#262626" stroke-width="0.31" textLength="16.70" lengthAdjust="spacingAndGlyphs" >22</text>
<circle cx="167.90" cy="691.00" r="1.35" fill="none" stroke="#262626" stroke-width="0.9"/>
<text x="176.00" y="703.50" font-size="12.72" font-weight="bold" fill="#262626" stroke="#262626" stroke-width="0.31" textLength="10.04" lengthAdjust="spacingAndGlyphs" >N</text>
<rect x="441.0" y="483.1" width="23.70" height="219.30" fill="url(#jet)" stroke="#1a1a1a" stroke-width="0.8"/>
<path d="M462.40 669.81H464.70" stroke="#1a1a1a" stroke-width="0.8"/>
<text x="473.70" y="677.11" font-size="21.19" font-weight="bold" fill="#262626" stroke="#262626" stroke-width="0.52" textLength="22.22" lengthAdjust="spacingAndGlyphs" >-1</text>
<path d="M462.40 631.28H464.70" stroke="#1a1a1a" stroke-width="0.8"/>
<text x="473.70" y="638.58" font-size="21.19" font-weight="bold" fill="#262626" stroke="#262626" stroke-width="0.52" textLength="43.73" lengthAdjust="spacingAndGlyphs" >-0.5</text>
<path d="M462.40 592.75H464.70" stroke="#1a1a1a" stroke-width="0.8"/>
<text x="473.70" y="600.05" font-size="21.19" font-weight="bold" fill="#262626" stroke="#262626" stroke-width="0.52" textLength="13.92" lengthAdjust="spacingAndGlyphs" >0</text>
<path d="M462.40 554.22H464.70" stroke="#1a1a1a" stroke-width="0.8"/>
<text x="473.70" y="561.52" font-size="21.19" font-weight="bold" fill="#262626" stroke="#262626" stroke-width="0.52" textLength="35.43" lengthAdjust="spacingAndGlyphs" >0.5</text>
<path d="M462.40 515.69H464.70" stroke="#1a1a1a" stroke-width="0.8"/>
<text x="473.70" y="522.99" font-size="21.19" font-weight="bold" fill="#262626" stroke="#262626" stroke-width="0.52" textLength="13.92" lengthAdjust="spacingAndGlyphs" >1</text>
<text x="129.62" y="731.00" font-size="24.48" font-weight="bold" fill="#262626" stroke="#262626" stroke-width="0.60" textLength="107.26" lengthAdjust="spacingAndGlyphs" >SAT-RAP</text><text x="244.93" y="731.00" font-size="24.48" font-weight="bold" fill="#262626" stroke="#262626" stroke-width="0.60" textLength="48.22" lengthAdjust="spacingAndGlyphs" >850</text><text x="301.19" y="731.00" font-size="24.48" font-weight="bold" fill="#262626" stroke="#262626" stroke-width="0.60" textLength="48.34" lengthAdjust="spacingAndGlyphs" >hPa</text><text x="357.57" y="731.00" font-size="24.48" font-weight="bold" fill="#262626" stroke="#262626" stroke-width="0.60" textLength="40.78" lengthAdjust="spacingAndGlyphs" >MR</text><text x="406.39" y="731.00" font-size="24.48" font-weight="bold" fill="#262626" stroke="#262626" stroke-width="0.60" textLength="77.98" lengthAdjust="spacingAndGlyphs" >(g/kg)</text>
<g transform="translate(617.0,486.1) scale(1.00000,1.00141)">
<g fill="none" stroke-linecap="round" stroke-width="3.7">
<path stroke="#0000ea" d="M28 -2h.01M30 -2h.01M32 -2h.01M34 -2h.01M30 0h.01M32 0h.01"/>
<path stroke="#0040ff" d="M4 2h.01"/>
<path stroke="#0055ff" d="M0 0h.01M2 0h.01M4 0h.01M6 2h.01M-2 8h.01M0 8h.01"/>
<path stroke="#006aff" d="M0 -2h.01M4 -2h.01M6 -2h.01M6 0h.01M26 2h.01M28 2h.01M30 2h.01M-2 4h.01M24 4h.01M26 4h.01M28 4h.01M30 4h.01M-2 6h.01M0 6h.01M24 6h.01M26 6h.01M28 6h.01M30 6h.01M2 8h.01M26 8h.01M28 8h.01M-2 10h.01M0 10h.01M2 10h.01M4 10h.01M6 10h.01M8 10h.01M-2 14h.01M70 54h.01"/>
<path stroke="#0080ff" d="M2 -2h.01M8 -2h.01M10 -2h.01M8 0h.01M10 0h.01M-2 2h.01M8 2h.01M24 2h.01M8 4h.01M10 4h.01M8 6h.01M10 6h.01M8 8h.01M10 8h.01M24 8h.01M30 8h.01M10 10h.01M-2 12h.01M0 12h.01M6 12h.01M0 14h.01M8 14h.01M10 14h.01M-2 16h.01M0 16h.01M70 48h.01M70 50h.01M70 52h.01M72 54h.01M70 56h.01M72 56h.01M74 58h.01"/>
<path stroke="#0095ff" d="M12 -2h.01M12 0h.01M28 0h.01M10 2h.01M2 12h.01M4 12h.01M8 12h.01M10 12h.01M2 14h.01M6 14h.01M2 16h.01M-2 18h.01M0 18h.01M70 40h.01M68 44h.01M68 46h.01M70 46h.01M74 56h.01M70 58h.01M72 58h.01M72 60h.01"/>
<path stroke="#00aaff" d="M14 0h.01M12 4h.01M4 14h.01M8 16h.01M10 16h.01M2 18h.01M-2 20h.01M66 42h.01M68 42h.01M70 42h.01M66 44h.01M70 44h.01M68 48h.01M68 52h.01M72 52h.01M68 54h.01M68 56h.01M68 58h.01M70 60h.01M72 62h.01"/>
<path stroke="#00bfff" d="M14 -2h.01M12 2h.01M14 2h.01M14 4h.01M12 6h.01M12 8h.01M12 10h.01M12 12h.01M12 14h.01M4 16h.01M4 18h.01M0 20h.01M70 38h.01M68 40h.01M72 40h.01M74 40h.01M80 42h.01M72 48h.01M68 50h.01M72 50h.01M66 54h.01M74 54h.01M66 56h.01M70 62h.01"/>
<path stroke="#00d4ff" d="M16 2h.01M16 4h.01M6 16h.01M12 16h.01M2 20h.01M68 38h.01M72 38h.01M74 38h.01M76 38h.01M66 40h.01M76 40h.01M78 40h.01M80 40h.01M64 42h.01M72 42h.01M72 44h.01M72 46h.01M74 46h.01M76 46h.01M74 52h.01M76 54h.01M66 58h.01M68 60h.01M68 62h.01M72 64h.01M66 66h.01M66 68h.01M68 68h.01M18 80h.01M40 94h.01"/>
<path stroke="#00eaff" d="M16 0h.01M32 2h.01M14 6h.01M16 6h.01M14 12h.01M24 12h.01M26 12h.01M28 12h.01M26 14h.01M28 14h.01M30 14h.01M28 16h.01M10 18h.01M12 18h.01M4 20h.01M-2 22h.01M82 30h.01M84 30h.01M86 30h.01M82 32h.01M84 32h.01M70 36h.01M64 40h.01M78 42h.01M74 44h.01M80 44h.01M66 46h.01M78 46h.01M66 48h.01M76 48h.01M78 48h.01M66 50h.01M74 50h.01M66 52h.01M62 58h.01M64 58h.01M62 60h.01M64 60h.01M66 60h.01M68 64h.01M70 64h.01M64 66h.01M68 66h.01M70 68h.01M38 70h.01M68 70h.01M20 80h.01M22 80h.01M24 80h.01M40 92h.01M40 96h.01"/>
<path stroke="#00ffff" d="M16 -2h.01M34 0h.01M50 0h.01M52 0h.01M18 2h.01M52 2h.01M54 2h.01M18 4h.01M22 4h.01M32 4h.01M18 6h.01M22 6h.01M14 8h.01M22 8h.01M32 8h.01M14 10h.01M22 10h.01M24 10h.01M26 10h.01M28 10h.01M34 12h.01M14 14h.01M24 14h.01M32 14h.01M30 16h.01M6 18h.01M8 18h.01M14 18h.01M6 20h.01M12 20h.01M14 20h.01M0 22h.01M84 34h.01M66 36h.01M68 36h.01M72 36h.01M66 38h.01M78 38h.01M82 40h.01M62 42h.01M74 42h.01M76 42h.01M64 44h.01M76 44h.01M78 44h.01M74 48h.01M76 50h.01M78 50h.01M64 52h.01M76 52h.01M64 54h.01M64 56h.01M60 58h.01M60 60h.01M60 62h.01M62 62h.01M66 62h.01M66 64h.01M60 66h.01M62 66h.01M70 66h.01M62 68h.01M64 68h.01M40 70h.01M66 70h.01M40 72h.01M18 78h.01M16 80h.01M26 80h.01M36 92h.01M38 92h.01M38 94h.01M42 94h.01M42 96h.01"/>
<path stroke="#15ffea" d="M36 -2h.01M48 -2h.01M50 -2h.01M34 2h.01M56 2h.01M20 4h.01M34 4h.01M66 4h.01M32 6h.01M60 6h.01M30 10h.01M32 10h.01M54 10h.01M68 10h.01M22 12h.01M30 12h.01M32 12h.01M36 12h.01M34 14h.01M44 14h.01M46 14h.01M48 14h.01M14 16h.01M26 16h.01M32 16h.01M34 16h.01M36 16h.01M38 16h.01M50 16h.01M28 18h.01M30 18h.01M36 18h.01M38 18h.01M8 20h.01M10 20h.01M38 20h.01M40 20h.01M2 22h.01M82 28h.01M76 30h.01M76 32h.01M82 34h.01M74 36h.01M80 36h.01M82 36h.01M84 36h.01M64 38h.01M80 38h.01M82 38h.01M62 40h.01M58 42h.01M58 44h.01M62 44h.01M62 48h.01M64 48h.01M64 50h.01M58 60h.01M56 62h.01M58 62h.01M64 62h.01M58 64h.01M60 64h.01M62 64h.01M64 64h.01M58 66h.01M38 68h.01M58 68h.01M60 68h.01M24 70h.01M62 70h.01M64 70h.01M26 72h.01M38 72h.01M42 72h.01M66 72h.01M68 72h.01M20 76h.01M16 78h.01M20 78h.01M22 78h.01M24 78h.01M60 78h.01M22 82h.01M24 82h.01M26 82h.01M40 88h.01M42 88h.01M44 88h.01M38 90h.01M40 90h.01M36 94h.01M44 96h.01M40 98h.01M42 98h.01"/>
<path stroke="#2bffd4" d="M18 -2h.01M26 -2h.01M52 -2h.01M58 -2h.01M60 -2h.01M18 0h.01M26 0h.01M36 0h.01M48 0h.01M54 0h.01M60 0h.01M62 0h.01M68 0h.01M36 2h.01M58 2h.01M60 2h.01M62 2h.01M64 2h.01M66 2h.01M36 4h.01M56 4h.01M58 4h.01M64 4h.01M20 6h.01M66 6h.01M16 8h.01M18 8h.01M20 8h.01M54 8h.01M60 8h.01M16 10h.01M20 10h.01M56 10h.01M16 12h.01M18 12h.01M44 12h.01M46 12h.01M56 12h.01M58 12h.01M60 12h.01M16 14h.01M36 14h.01M38 14h.01M42 14h.01M16 16h.01M40 16h.01M48 16h.01M16 18h.01M40 18h.01M52 18h.01M16 20h.01M30 20h.01M36 20h.01M54 20h.01M4 22h.01M58 22h.01M-2 24h.01M0 24h.01M46 24h.01M78 26h.01M88 26h.01M80 28h.01M86 28h.01M74 30h.01M80 30h.01M74 32h.01M78 32h.01M80 32h.01M50 34h.01M66 34h.01M80 34h.01M64 36h.01M76 36h.01M78 36h.01M62 38h.01M60 40h.01M56 42h.01M60 42h.01M50 44h.01M52 44h.01M56 44h.01M60 44h.01M50 46h.01M52 46h.01M56 46h.01M58 46h.01M60 46h.01M62 46h.01M64 46h.01M62 50h.01M58 56h.01M60 56h.01M62 56h.01M58 58h.01M56 60h.01M54 62h.01M56 64h.01M56 66h.01M36 68h.01M40 68h.01M26 70h.01M36 70h.01M42 70h.01M44 70h.01M46 70h.01M58 70h.01M60 70h.01M24 72h.01M28 72h.01M44 72h.01M46 72h.01M64 72h.01M18 74h.01M20 74h.01M26 74h.01M28 74h.01M40 74h.01M42 74h.01M44 74h.01M46 74h.01M54 74h.01M56 74h.01M16 76h.01M18 76h.01M22 76h.01M52 76h.01M54 76h.01M56 76h.01M58 76h.01M60 76h.01M26 78h.01M32 78h.01M62 78h.01M28 80h.01M62 80h.01M20 82h.01M28 82h.01M24 84h.01M26 84h.01M28 84h.01M40 86h.01M42 86h.01M44 86h.01M38 88h.01M46 88h.01M34 90h.01M36 90h.01M42 90h.01M44 90h.01M46 90h.01M42 92h.01M44 94h.01M38 96h.01M40 100h.01M42 100h.01"/>
<path stroke="#40ffbf" d="M24 -2h.01M54 -2h.01M56 -2h.01M62 -2h.01M68 -2h.01M58 0h.01M64 0h.01M66 0h.01M20 2h.01M68 2h.01M38 4h.01M54 4h.01M60 4h.01M62 4h.01M68 4h.01M38 6h.01M58 6h.01M62 6h.01M64 6h.01M68 6h.01M84 6h.01M56 8h.01M58 8h.01M62 8h.01M66 8h.01M84 8h.01M86 8h.01M18 10h.01M42 10h.01M52 10h.01M58 10h.01M60 10h.01M66 10h.01M86 10h.01M88 10h.01M20 12h.01M48 12h.01M50 12h.01M54 12h.01M70 12h.01M72 12h.01M88 12h.01M90 12h.01M22 14h.01M50 14h.01M60 14h.01M62 14h.01M42 16h.01M46 16h.01M52 16h.01M62 16h.01M68 16h.01M18 18h.01M26 18h.01M32 18h.01M34 18h.01M50 18h.01M54 18h.01M18 20h.01M28 20h.01M32 20h.01M34 20h.01M42 20h.01M56 20h.01M6 22h.01M8 22h.01M10 22h.01M14 22h.01M16 22h.01M38 22h.01M40 22h.01M42 22h.01M46 22h.01M56 22h.01M60 22h.01M90 22h.01M2 24h.01M44 24h.01M58 24h.01M60 24h.01M64 24h.01M76 24h.01M44 26h.01M46 26h.01M48 26h.01M50 26h.01M76 26h.01M46 28h.01M68 28h.01M74 28h.01M76 28h.01M78 28h.01M84 28h.01M72 30h.01M78 30h.01M50 32h.01M60 32h.01M72 32h.01M52 34h.01M62 34h.01M64 34h.01M68 34h.01M70 34h.01M72 34h.01M74 34h.01M76 34h.01M78 34h.01M62 36h.01M60 38h.01M56 40h.01M58 40h.01M46 42h.01M48 42h.01M50 42h.01M52 42h.01M54 42h.01M54 44h.01M48 46h.01M54 46h.01M56 48h.01M60 48h.01M62 52h.01M62 54h.01M56 58h.01M-2 62h.01M52 62h.01M-2 64h.01M26 64h.01M28 64h.01M52 64h.01M54 64h.01M28 66h.01M36 66h.01M38 66h.01M40 66h.01M54 66h.01M22 68h.01M24 68h.01M42 68h.01M44 68h.01M46 68h.01M52 68h.01M54 68h.01M56 68h.01M22 70h.01M52 70h.01M54 70h.01M56 70h.01M22 72h.01M52 72h.01M58 72h.01M60 72h.01M62 72h.01M16 74h.01M22 74h.01M24 74h.01M30 74h.01M38 74h.01M52 74h.01M58 74h.01M66 74h.01M24 76h.01M26 76h.01M28 76h.01M30 76h.01M32 76h.01M44 76h.01M46 76h.01M62 76h.01M28 78h.01M30 78h.01M34 78h.01M58 78h.01M30 80h.01M32 80h.01M36 80h.01M60 80h.01M36 82h.01M62 82h.01M22 84h.01M36 84h.01M38 84h.01M40 84h.01M26 86h.01M28 86h.01M30 86h.01M46 86h.01M32 88h.01M34 88h.01M36 88h.01M32 90h.01M34 92h.01M44 92h.01M46 92h.01M46 94h.01M46 96h.01M44 98h.01M46 98h.01M44 100h.01M40 102h.01M40 104h.01"/>
<path stroke="#55ffaa" d="M22 -2h.01M64 -2h.01M66 -2h.01M70 -2h.01M24 0h.01M56 0h.01M70 0h.01M22 2h.01M70 2h.01M72 2h.01M40 4h.01M42 4h.01M72 4h.01M40 6h.01M42 6h.01M54 6h.01M56 6h.01M82 6h.01M94 6h.01M40 8h.01M42 8h.01M64 8h.01M88 8h.01M44 10h.01M62 10h.01M84 10h.01M52 12h.01M62 12h.01M64 12h.01M68 12h.01M18 14h.01M20 14h.01M56 14h.01M58 14h.01M64 14h.01M66 14h.01M68 14h.01M72 14h.01M74 14h.01M92 14h.01M18 16h.01M44 16h.01M60 16h.01M64 16h.01M66 16h.01M76 16h.01M78 16h.01M42 18h.01M44 18h.01M46 18h.01M48 18h.01M56 18h.01M62 18h.01M68 18h.01M70 18h.01M72 18h.01M78 18h.01M44 20h.01M46 20h.01M48 20h.01M52 20h.01M72 20h.01M12 22h.01M36 22h.01M44 22h.01M48 22h.01M52 22h.01M62 22h.01M64 22h.01M66 22h.01M68 22h.01M72 22h.01M74 22h.01M4 24h.01M40 24h.01M42 24h.01M48 24h.01M52 24h.01M62 24h.01M66 24h.01M74 24h.01M88 24h.01M42 26h.01M58 26h.01M60 26h.01M62 26h.01M64 26h.01M74 26h.01M80 26h.01M86 26h.01M44 28h.01M48 28h.01M50 28h.01M58 28h.01M70 28h.01M72 28h.01M50 30h.01M58 30h.01M70 30h.01M48 32h.01M52 32h.01M54 32h.01M62 32h.01M70 32h.01M48 34h.01M56 34h.01M60 34h.01M50 36h.01M52 36h.01M54 36h.01M60 36h.01M54 38h.01M46 40h.01M48 40h.01M50 40h.01M54 40h.01M46 44h.01M48 44h.01M48 48h.01M50 48h.01M52 48h.01M54 48h.01M58 48h.01M38 52h.01M40 52h.01M40 54h.01M42 54h.01M44 54h.01M58 54h.01M60 54h.01M42 56h.01M50 56h.01M56 56h.01M44 58h.01M54 58h.01M-2 60h.01M22 60h.01M30 60h.01M40 60h.01M42 60h.01M54 60h.01M22 62h.01M24 62h.01M28 62h.01M30 62h.01M32 62h.01M40 62h.01M42 62h.01M50 62h.01M0 64h.01M24 64h.01M30 64h.01M34 64h.01M36 64h.01M38 64h.01M40 64h.01M50 64h.01M-2 66h.01M20 66h.01M26 66h.01M30 66h.01M34 66h.01M42 66h.01M44 66h.01M46 66h.01M48 66h.01M50 66h.01M52 66h.01M20 68h.01M26 68h.01M34 68h.01M48 68h.01M50 68h.01M34 70h.01M48 70h.01M50 70h.01M16 72h.01M18 72h.01M20 72h.01M30 72h.01M36 72h.01M48 72h.01M50 72h.01M54 72h.01M56 72h.01M14 74h.01M32 74h.01M48 74h.01M50 74h.01M60 74h.01M62 74h.01M64 74h.01M14 76h.01M42 76h.01M50 76h.01M14 78h.01M44 78h.01M46 78h.01M54 78h.01M56 78h.01M12 80h.01M14 80h.01M34 80h.01M18 82h.01M30 82h.01M32 82h.01M34 82h.01M38 82h.01M64 82h.01M30 84h.01M32 84h.01M34 84h.01M42 84h.01M24 86h.01M32 86h.01M34 86h.01M36 86h.01M38 86h.01M48 86h.01M30 88h.01M48 88h.01M54 90h.01M56 90h.01M58 90h.01M34 94h.01M48 94h.01M36 96h.01M48 96h.01M50 96h.01M38 98h.01M36 102h.01M38 102h.01M42 102h.01M38 104h.01M42 104h.01"/>
<path stroke="#6aff95" d="M20 -2h.01M80 -2h.01M82 -2h.01M84 -2h.01M86 -2h.01M22 0h.01M74 2h.01M78 2h.01M70 4h.01M74 4h.01M82 4h.01M84 4h.01M92 4h.01M94 4h.01M86 6h.01M92 6h.01M96 6h.01M82 8h.01M94 8h.01M96 8h.01M64 10h.01M90 10h.01M66 12h.01M74 12h.01M84 12h.01M86 12h.01M92 12h.01M52 14h.01M54 14h.01M70 14h.01M76 14h.01M84 14h.01M86 14h.01M90 14h.01M24 16h.01M54 16h.01M56 16h.01M58 16h.01M70 16h.01M72 16h.01M74 16h.01M80 16h.01M20 18h.01M60 18h.01M64 18h.01M66 18h.01M20 20h.01M22 20h.01M24 20h.01M26 20h.01M50 20h.01M58 20h.01M60 20h.01M62 20h.01M64 20h.01M66 20h.01M68 20h.01M70 20h.01M74 20h.01M90 20h.01M18 22h.01M30 22h.01M32 22h.01M34 22h.01M50 22h.01M54 22h.01M70 22h.01M76 22h.01M6 24h.01M8 24h.01M10 24h.01M50 24h.01M54 24h.01M56 24h.01M68 24h.01M70 24h.01M72 24h.01M78 24h.01M86 24h.01M0 26h.01M2 26h.01M52 26h.01M54 26h.01M56 26h.01M66 26h.01M68 26h.01M70 26h.01M72 26h.01M82 26h.01M52 28h.01M54 28h.01M56 28h.01M60 28h.01M66 28h.01M46 30h.01M48 30h.01M52 30h.01M54 30h.01M56 30h.01M60 30h.01M68 30h.01M56 32h.01M58 32h.01M68 32h.01M54 34h.01M58 34h.01M48 36h.01M56 36h.01M58 36h.01M4 38h.01M6 38h.01M46 38h.01M48 38h.01M50 38h.01M52 38h.01M56 38h.01M58 38h.01M6 40h.01M44 40h.01M52 40h.01M10 42h.01M44 42h.01M44 44h.01M46 46h.01M46 48h.01M38 50h.01M48 50h.01M50 50h.01M52 50h.01M54 50h.01M56 50h.01M60 50h.01M42 52h.01M44 52h.01M46 52h.01M56 52h.01M58 52h.01M60 52h.01M38 54h.01M46 54h.01M48 54h.01M50 54h.01M56 54h.01M40 56h.01M44 56h.01M52 56h.01M54 56h.01M28 58h.01M40 58h.01M42 58h.01M46 58h.01M50 58h.01M52 58h.01M18 60h.01M20 60h.01M28 60h.01M32 60h.01M44 60h.01M46 60h.01M52 60h.01M26 62h.01M34 62h.01M38 62h.01M44 62h.01M48 62h.01M22 64h.01M32 64h.01M42 64h.01M44 64h.01M46 64h.01M48 64h.01M0 66h.01M2 66h.01M22 66h.01M24 66h.01M32 66h.01M28 68h.01M30 68h.01M32 68h.01M20 70h.01M28 70h.01M32 72h.01M34 72h.01M12 74h.01M36 74h.01M40 76h.01M48 76h.01M64 76h.01M66 76h.01M48 78h.01M52 78h.01M10 80h.01M38 80h.01M64 80h.01M12 82h.01M14 82h.01M16 82h.01M40 82h.01M60 82h.01M48 84h.01M60 84h.01M28 88h.01M54 88h.01M56 88h.01M30 90h.01M48 90h.01M52 90h.01M60 90h.01M48 92h.01M52 92h.01M54 92h.01M56 92h.01M58 92h.01M60 92h.01M50 94h.01M52 94h.01M52 96h.01M34 100h.01M38 100h.01M34 102h.01M36 104h.01"/>
<path stroke="#80ff80" d="M72 -2h.01M78 -2h.01M20 0h.01M72 0h.01M74 0h.01M76 0h.01M78 0h.01M80 0h.01M86 0h.01M88 0h.01M38 2h.01M76 2h.01M80 2h.01M82 2h.01M90 2h.01M92 2h.01M78 4h.01M80 4h.01M76 6h.01M78 6h.01M80 6h.01M88 6h.01M78 8h.01M80 8h.01M90 8h.01M92 8h.01M78 10h.01M82 10h.01M92 10h.01M94 10h.01M76 12h.01M82 12h.01M78 14h.01M82 14h.01M88 14h.01M20 16h.01M22 16h.01M82 16h.01M84 16h.01M86 16h.01M22 18h.01M24 18h.01M58 18h.01M74 18h.01M76 18h.01M80 18h.01M86 18h.01M88 18h.01M86 20h.01M88 20h.01M78 22h.01M84 22h.01M86 22h.01M88 22h.01M14 24h.01M16 24h.01M38 24h.01M-2 26h.01M4 26h.01M6 26h.01M8 26h.01M10 26h.01M40 26h.01M84 26h.01M2 28h.01M10 28h.01M42 28h.01M62 28h.01M64 28h.01M44 30h.01M46 32h.01M64 32h.01M66 32h.01M0 34h.01M0 36h.01M2 36h.01M4 36h.01M46 36h.01M42 38h.01M44 38h.01M8 40h.01M42 40h.01M8 42h.01M44 48h.01M36 50h.01M40 50h.01M44 50h.01M46 50h.01M58 50h.01M48 52h.01M50 52h.01M52 52h.01M54 52h.01M52 54h.01M54 54h.01M46 56h.01M48 56h.01M20 58h.01M26 58h.01M30 58h.01M0 60h.01M4 60h.01M16 60h.01M38 60h.01M48 60h.01M50 60h.01M0 62h.01M20 62h.01M36 62h.01M46 62h.01M20 64h.01M18 66h.01M-2 68h.01M0 68h.01M2 68h.01M18 68h.01M16 70h.01M30 70h.01M32 70h.01M14 72h.01M34 74h.01M12 76h.01M34 76h.01M12 78h.01M36 78h.01M42 78h.01M50 78h.01M64 78h.01M8 80h.01M46 80h.01M48 80h.01M56 80h.01M58 80h.01M48 82h.01M50 82h.01M20 84h.01M44 84h.01M50 84h.01M58 84h.01M62 84h.01M50 86h.01M52 86h.01M54 86h.01M58 86h.01M60 86h.01M62 86h.01M26 88h.01M50 88h.01M52 88h.01M58 88h.01M60 88h.01M50 90h.01M32 92h.01M50 92h.01M54 94h.01M56 94h.01M58 94h.01M54 96h.01M36 98h.01M22 100h.01M32 100h.01M36 100h.01M34 104h.01"/>
<path stroke="#95ff6a" d="M74 -2h.01M76 -2h.01M88 -2h.01M90 -2h.01M92 -2h.01M82 0h.01M84 0h.01M90 0h.01M84 2h.01M86 2h.01M88 2h.01M94 2h.01M76 4h.01M86 4h.01M88 4h.01M90 4h.01M96 4h.01M74 6h.01M90 6h.01M76 8h.01M76 10h.01M80 10h.01M78 12h.01M80 12h.01M94 12h.01M80 14h.01M88 16h.01M90 16h.01M92 16h.01M82 18h.01M84 18h.01M90 18h.01M76 20h.01M78 20h.01M84 20h.01M20 22h.01M22 22h.01M24 22h.01M26 22h.01M28 22h.01M12 24h.01M34 24h.01M36 24h.01M80 24h.01M82 24h.01M84 24h.01M0 28h.01M12 28h.01M62 30h.01M66 30h.01M44 32h.01M-2 34h.01M10 34h.01M12 34h.01M46 34h.01M40 36h.01M42 36h.01M44 36h.01M2 38h.01M40 38h.01M-2 40h.01M4 40h.01M10 40h.01M12 42h.01M42 42h.01M10 44h.01M12 44h.01M42 44h.01M44 46h.01M42 50h.01M36 52h.01M26 54h.01M22 56h.01M24 56h.01M26 56h.01M28 56h.01M36 56h.01M38 56h.01M-2 58h.01M4 58h.01M6 58h.01M16 58h.01M18 58h.01M22 58h.01M24 58h.01M32 58h.01M34 58h.01M38 58h.01M48 58h.01M2 60h.01M6 60h.01M8 60h.01M24 60h.01M26 60h.01M34 60h.01M4 62h.01M6 62h.01M16 62h.01M18 62h.01M2 64h.01M16 64h.01M18 64h.01M16 66h.01M4 68h.01M16 68h.01M-2 70h.01M0 70h.01M2 70h.01M6 70h.01M14 70h.01M18 70h.01M0 72h.01M2 72h.01M4 72h.01M6 72h.01M12 72h.01M4 74h.01M10 74h.01M10 76h.01M38 76h.01M8 78h.01M10 78h.01M38 78h.01M66 78h.01M6 80h.01M50 80h.01M54 80h.01M0 82h.01M8 82h.01M10 82h.01M46 82h.01M52 82h.01M54 82h.01M56 82h.01M58 82h.01M-2 84h.01M0 84h.01M2 84h.01M14 84h.01M16 84h.01M46 84h.01M52 84h.01M54 84h.01M0 86h.01M2 86h.01M4 86h.01M22 86h.01M56 86h.01M2 88h.01M4 88h.01M30 92h.01M28 96h.01M34 96h.01M56 96h.01M58 96h.01M30 98h.01M32 98h.01M34 98h.01M56 98h.01M20 100h.01M24 100h.01M32 104h.01"/>
<path stroke="#aaff55" d="M94 -2h.01M96 -2h.01M98 -2h.01M92 0h.01M96 2h.01M74 10h.01M80 20h.01M82 20h.01M80 22h.01M82 22h.01M18 24h.01M12 26h.01M38 26h.01M-2 28h.01M4 28h.01M8 28h.01M40 28h.01M12 30h.01M-2 32h.01M10 32h.01M12 32h.01M42 32h.01M2 34h.01M42 34h.01M44 34h.01M-2 36h.01M6 36h.01M12 36h.01M14 36h.01M38 36h.01M-2 38h.01M0 38h.01M8 38h.01M14 38h.01M0 40h.01M2 40h.01M12 40h.01M40 40h.01M-2 42h.01M0 42h.01M6 42h.01M40 42h.01M-2 44h.01M0 44h.01M2 44h.01M38 44h.01M40 44h.01M32 46h.01M38 46h.01M40 46h.01M34 48h.01M36 48h.01M38 48h.01M40 48h.01M42 48h.01M16 54h.01M22 54h.01M24 54h.01M28 54h.01M36 54h.01M2 56h.01M4 56h.01M20 56h.01M30 56h.01M32 56h.01M34 56h.01M0 58h.01M2 58h.01M14 58h.01M36 58h.01M14 60h.01M36 60h.01M2 62h.01M14 62h.01M14 64h.01M4 66h.01M6 68h.01M14 68h.01M4 70h.01M8 70h.01M-2 72h.01M8 72h.01M10 72h.01M-2 74h.01M0 74h.01M2 74h.01M6 74h.01M8 74h.01M-2 76h.01M0 76h.01M4 76h.01M6 76h.01M8 76h.01M36 76h.01M-2 78h.01M4 78h.01M6 78h.01M40 78h.01M-2 80h.01M0 80h.01M40 80h.01M44 80h.01M52 80h.01M2 82h.01M42 82h.01M44 82h.01M4 84h.01M12 84h.01M18 84h.01M56 84h.01M-2 90h.01M28 90h.01M32 94h.01M26 96h.01M30 96h.01M26 98h.01M28 98h.01M26 100h.01M28 100h.01M30 100h.01M24 102h.01M26 102h.01M32 102h.01M44 102h.01M26 104h.01"/>
<path stroke="#bfff40" d="M94 0h.01M96 0h.01M100 0h.01M98 2h.01M50 10h.01M20 24h.01M22 24h.01M24 24h.01M26 24h.01M32 24h.01M14 26h.01M6 28h.01M-2 30h.01M10 30h.01M42 30h.01M64 30h.01M0 32h.01M4 34h.01M6 34h.01M8 34h.01M38 34h.01M40 34h.01M8 36h.01M10 36h.01M12 38h.01M38 38h.01M14 40h.01M38 40h.01M2 42h.01M4 42h.01M14 42h.01M38 42h.01M4 44h.01M8 44h.01M14 44h.01M36 44h.01M-2 46h.01M0 46h.01M2 46h.01M34 46h.01M36 46h.01M42 46h.01M34 50h.01M34 52h.01M2 54h.01M14 54h.01M18 54h.01M20 54h.01M30 54h.01M0 56h.01M14 56h.01M16 56h.01M18 56h.01M8 58h.01M10 60h.01M12 60h.01M8 62h.01M12 62h.01M4 64h.01M6 64h.01M12 64h.01M12 66h.01M14 66h.01M12 68h.01M12 70h.01M2 76h.01M0 78h.01M2 78h.01M2 80h.01M4 80h.01M42 80h.01M-2 82h.01M4 82h.01M6 82h.01M10 84h.01M-2 86h.01M16 86h.01M-2 88h.01M0 88h.01M6 88h.01M24 88h.01M4 90h.01M28 92h.01M26 94h.01M28 94h.01M32 96h.01M20 98h.01M22 98h.01M24 98h.01M28 102h.01M30 102h.01M30 104h.01"/>
<path stroke="#d5ff2a" d="M98 0h.01M100 2h.01M68 8h.01M28 24h.01M30 24h.01M16 26h.01M36 26h.01M14 28h.01M38 28h.01M0 30h.01M2 30h.01M4 30h.01M14 30h.01M2 32h.01M6 32h.01M8 32h.01M14 32h.01M40 32h.01M14 34h.01M10 38h.01M16 38h.01M16 40h.01M36 42h.01M6 44h.01M16 44h.01M30 44h.01M32 44h.01M34 44h.01M4 46h.01M14 46h.01M28 46h.01M30 46h.01M32 48h.01M32 50h.01M-2 52h.01M14 52h.01M16 52h.01M18 52h.01M20 52h.01M22 52h.01M26 52h.01M28 52h.01M32 52h.01M0 54h.01M32 54h.01M34 54h.01M-2 56h.01M6 56h.01M12 58h.01M10 62h.01M8 64h.01M10 64h.01M10 66h.01M8 68h.01M10 70h.01M6 84h.01M8 84h.01M6 86h.01M14 86h.01M18 86h.01M20 86h.01M0 90h.01M2 90h.01M6 90h.01M-2 92h.01M24 94h.01M30 94h.01M24 96h.01M18 100h.01M28 104h.01"/>
<path stroke="#eaff15" d="M18 26h.01M20 26h.01M22 26h.01M24 26h.01M34 26h.01M6 30h.01M8 30h.01M40 30h.01M4 32h.01M36 34h.01M36 36h.01M34 38h.01M36 38h.01M34 40h.01M36 40h.01M16 42h.01M34 42h.01M18 44h.01M26 44h.01M28 44h.01M8 46h.01M12 46h.01M16 46h.01M-2 48h.01M0 48h.01M2 48h.01M4 48h.01M30 48h.01M6 50h.01M20 50h.01M6 52h.01M8 52h.01M12 52h.01M24 52h.01M30 52h.01M-2 54h.01M4 54h.01M6 54h.01M12 54h.01M8 56h.01M12 56h.01M10 58h.01M6 66h.01M8 66h.01M10 68h.01M12 86h.01M26 90h.01M0 92h.01M26 92h.01M-2 94h.01M22 94h.01M20 96h.01M22 96h.01M18 98h.01"/>
<path stroke="#ffff00" d="M46 10h.01M26 26h.01M16 28h.01M38 32h.01M16 36h.01M32 38h.01M32 40h.01M18 42h.01M20 44h.01M22 44h.01M24 44h.01M6 46h.01M10 46h.01M18 46h.01M20 46h.01M22 46h.01M24 46h.01M26 46h.01M6 48h.01M8 48h.01M10 48h.01M18 48h.01M20 48h.01M22 48h.01M28 48h.01M-2 50h.01M4 50h.01M8 50h.01M10 50h.01M12 50h.01M18 50h.01M22 50h.01M24 50h.01M30 50h.01M0 52h.01M4 52h.01M10 52h.01M8 54h.01M10 54h.01M10 56h.01M16 88h.01M22 92h.01M24 92h.01M-2 96h.01M18 96h.01M16 100h.01"/>
<path stroke="#ffea00" d="M52 8h.01M28 26h.01M32 26h.01M22 28h.01M24 28h.01M26 28h.01M36 28h.01M16 30h.01M38 30h.01M16 32h.01M36 32h.01M16 34h.01M34 36h.01M18 40h.01M20 42h.01M22 42h.01M24 42h.01M26 42h.01M28 42h.01M32 42h.01M12 48h.01M14 48h.01M16 48h.01M24 48h.01M26 48h.01M0 50h.01M2 50h.01M14 50h.01M16 50h.01M26 50h.01M28 50h.01M2 52h.01M8 86h.01M10 86h.01M8 88h.01M14 88h.01M18 88h.01M22 88h.01M8 90h.01M2 92h.01M6 92h.01M8 92h.01M0 94h.01M16 98h.01"/>
<path stroke="#ffd500" d="M30 26h.01M18 28h.01M20 28h.01M28 28h.01M34 34h.01M18 36h.01M32 36h.01M18 38h.01M30 38h.01M22 40h.01M24 40h.01M26 40h.01M30 40h.01M30 42h.01M20 88h.01M24 90h.01M4 92h.01M20 94h.01M0 96h.01M16 96h.01M-2 98h.01M0 98h.01M14 100h.01M44 104h.01"/>
<path stroke="#ffbf00" d="M40 14h.01M34 28h.01M26 30h.01M18 32h.01M24 32h.01M26 32h.01M28 32h.01M34 32h.01M18 34h.01M32 34h.01M30 36h.01M20 40h.01M10 88h.01M12 88h.01M22 90h.01M20 92h.01M2 94h.01M8 94h.01M18 94h.01M14 96h.01M14 98h.01M0 100h.01"/>
<path stroke="#ffaa00" d="M30 28h.01M32 28h.01M18 30h.01M24 30h.01M28 30h.01M36 30h.01M22 32h.01M30 32h.01M32 32h.01M20 34h.01M22 34h.01M24 34h.01M26 34h.01M28 34h.01M30 34h.01M20 36h.01M26 36h.01M28 36h.01M22 38h.01M24 38h.01M28 38h.01M28 40h.01M10 90h.01M18 90h.01M10 92h.01M12 92h.01M14 92h.01M18 92h.01M10 94h.01M12 94h.01M14 94h.01M16 94h.01M2 98h.01"/>
<path stroke="#ff9500" d="M44 8h.01M30 30h.01M32 30h.01M34 30h.01M20 32h.01M22 36h.01M24 36h.01M20 38h.01M26 38h.01M12 90h.01M14 90h.01M16 90h.01M20 90h.01M16 92h.01M4 94h.01M6 94h.01M2 96h.01M6 96h.01M8 96h.01M12 96h.01M12 98h.01M2 100h.01M12 100h.01"/>
<path stroke="#ff8000" d="M20 30h.01M22 30h.01M4 96h.01M10 96h.01M4 98h.01M6 98h.01M8 98h.01"/>
<path stroke="#ff6a00" d="M10 98h.01M4 100h.01M8 100h.01M10 100h.01"/>
<path stroke="#ff5500" d="M48 10h.01M6 100h.01"/>
<path stroke="#ff4000" d="M46 -2h.01M38 12h.01"/>
<path stroke="#ff2a00" d="M48 98h.01"/>
<path stroke="#ff1500" d="M52 4h.01M54 98h.01"/>
<path stroke="#ff0000" d="M44 2h.01M46 100h.01M56 100h.01"/>
<path stroke="#ea0000" d="M46 2h.01M48 2h.01M50 2h.01M44 4h.01M46 4h.01M48 4h.01M50 4h.01M44 6h.01M46 6h.01M48 6h.01M50 6h.01M52 6h.01M46 8h.01M48 8h.01M50 8h.01"/>
<path stroke="#d50000" d="M42 12h.01"/>
<path stroke="#bf0000" d="M40 10h.01"/>
<path stroke="#aa0000" d="M46 0h.01M34 6h.01M36 6h.01M70 6h.01M34 8h.01M36 8h.01M38 8h.01M34 10h.01M36 10h.01M38 10h.01M70 10h.01M40 12h.01M50 98h.01M52 98h.01M48 100h.01M50 100h.01M52 100h.01M54 100h.01M46 102h.01M48 102h.01M50 102h.01M52 102h.01M54 102h.01M56 102h.01M46 104h.01M48 104h.01M50 104h.01M52 104h.01M54 104h.01"/>
<path stroke="#950000" d="M38 -2h.01M40 -2h.01M42 -2h.01M44 -2h.01M38 0h.01M40 0h.01M42 0h.01M44 0h.01M40 2h.01M42 2h.01M72 6h.01M70 8h.01M72 8h.01M74 8h.01M72 10h.01"/>
<path stroke="#a80000" stroke-width="8" d="M51 106h.01"/>
<path stroke="#9e0000" stroke-width="7" d="M50 110h.01"/>
<path stroke="#d10000" stroke-width="6" d="M52.5 108h.01"/>
<path stroke="#ff9e00" stroke-width="3" d="M46.5 112.5h.01"/>
</g>
<use href="#st"/>
</g>
<rect x="617.0" y="486.1" width="233.7" height="212.8" fill="none" stroke="#101010" stroke-width="1.0"/>
<text x="636.80" y="466.60" font-size="12.72" font-weight="bold" fill="#262626" stroke="#262626" stroke-width="0.31" textLength="25.05" lengthAdjust="spacingAndGlyphs" >100</text>
<circle cx="664.85" cy="454.60" r="1.35" fill="none" stroke="#262626" stroke-width="0.9"/>
<text x="672.45" y="466.60" font-size="12.72" font-weight="bold" fill="#262626" stroke="#262626" stroke-width="0.31" textLength="13.24" lengthAdjust="spacingAndGlyphs" >W</text>
<text x="705.60" y="466.60" font-size="12.72" font-weight="bold" fill="#262626" stroke="#262626" stroke-width="0.31" textLength="16.70" lengthAdjust="spacingAndGlyphs" >90</text>
<circle cx="725.30" cy="454.60" r="1.35" fill="none" stroke="#262626" stroke-width="0.9"/>
<text x="732.90" y="466.60" font-size="12.72" font-weight="bold" fill="#262626" stroke="#262626" stroke-width="0.31" textLength="13.24" lengthAdjust="spacingAndGlyphs" >W</text>
<text x="769.50" y="466.60" font-size="12.72" font-weight="bold" fill="#262626" stroke="#262626" stroke-width="0.31" textLength="16.70" lengthAdjust="spacingAndGlyphs" >80</text>
<circle cx="789.20" cy="454.60" r="1.35" fill="none" stroke="#262626" stroke-width="0.9"/>
<text x="796.80" y="466.60" font-size="12.72" font-weight="bold" fill="#262626" stroke="#262626" stroke-width="0.31" textLength="13.24" lengthAdjust="spacingAndGlyphs" >W</text>
<text x="833.00" y="466.60" font-size="12.72" font-weight="bold" fill="#262626" stroke="#262626" stroke-width="0.31" textLength="16.70" lengthAdjust="spacingAndGlyphs" >70</text>
<circle cx="852.70" cy="454.60" r="1.35" fill="none" stroke="#262626" stroke-width="0.9"/>
<text x="860.30" y="466.60" font-size="12.72" font-weight="bold" fill="#262626" stroke="#262626" stroke-width="0.31" textLength="13.24" lengthAdjust="spacingAndGlyphs" >W</text>
<text x="567.30" y="501.70" font-size="12.72" font-weight="bold" fill="#262626" stroke="#262626" stroke-width="0.31" textLength="16.70" lengthAdjust="spacingAndGlyphs" >48</text>
<circle cx="588.90" cy="489.20" r="1.35" fill="none" stroke="#262626" stroke-width="0.9"/>
<text x="597.00" y="501.70" font-size="12.72" font-weight="bold" fill="#262626" stroke="#262626" stroke-width="0.31" textLength="10.04" lengthAdjust="spacingAndGlyphs" >N</text>
<text x="567.30" y="519.80" font-size="12.72" font-weight="bold" fill="#262626" stroke="#262626" stroke-width="0.31" textLength="16.70" lengthAdjust="spacingAndGlyphs" >46</text>
<circle cx="588.90" cy="507.30" r="1.35" fill="none" stroke="#262626" stroke-width="0.9"/>
<text x="597.00" y="519.80" font-size="12.72" font-weight="bold" fill="#262626" stroke="#262626" stroke-width="0.31" textLength="10.04" lengthAdjust="spacingAndGlyphs" >N</text>
<text x="567.30" y="536.90" font-size="12.72" font-weight="bold" fill="#262626" stroke="#262626" stroke-width="0.31" textLength="16.70" lengthAdjust="spacingAndGlyphs" >44</text>
<circle cx="588.90" cy="524.40" r="1.35" fill="none" stroke="#262626" stroke-width="0.9"/>
<text x="597.00" y="536.90" font-size="12.72" font-weight="bold" fill="#262626" stroke="#262626" stroke-width="0.31" textLength="10.04" lengthAdjust="spacingAndGlyphs" >N</text>
<text x="567.30" y="555.50" font-size="12.72" font-weight="bold" fill="#262626" stroke="#262626" stroke-width="0.31" textLength="16.70" lengthAdjust="spacingAndGlyphs" >42</text>
<circle cx="588.90" cy="543.00" r="1.35" fill="none" stroke="#262626" stroke-width="0.9"/>
<text x="597.00" y="555.50" font-size="12.72" font-weight="bold" fill="#262626" stroke="#262626" stroke-width="0.31" textLength="10.04" lengthAdjust="spacingAndGlyphs" >N</text>
<text x="567.30" y="571.50" font-size="12.72" font-weight="bold" fill="#262626" stroke="#262626" stroke-width="0.31" textLength="16.70" lengthAdjust="spacingAndGlyphs" >40</text>
<circle cx="588.90" cy="559.00" r="1.35" fill="none" stroke="#262626" stroke-width="0.9"/>
<text x="597.00" y="571.50" font-size="12.72" font-weight="bold" fill="#262626" stroke="#262626" stroke-width="0.31" textLength="10.04" lengthAdjust="spacingAndGlyphs" >N</text>
<text x="567.30" y="586.80" font-size="12.72" font-weight="bold" fill="#262626" stroke="#262626" stroke-width="0.31" textLength="16.70" lengthAdjust="spacingAndGlyphs" >38</text>
<circle cx="588.90" cy="574.30" r="1.35" fill="none" stroke="#262626" stroke-width="0.9"/>
<text x="597.00" y="586.80" font-size="12.72" font-weight="bold" fill="#262626" stroke="#262626" stroke-width="0.31" textLength="10.04" lengthAdjust="spacingAndGlyphs" >N</text>
<text x="567.30" y="603.80" font-size="12.72" font-weight="bold" fill="#262626" stroke="#262626" stroke-width="0.31" textLength="16.70" lengthAdjust="spacingAndGlyphs" >36</text>
<circle cx="588.90" cy="591.30" r="1.35" fill="none" stroke="#262626" stroke-width="0.9"/>
<text x="597.00" y="603.80" font-size="12.72" font-weight="bold" fill="#262626" stroke="#262626" stroke-width="0.31" textLength="10.04" lengthAdjust="spacingAndGlyphs" >N</text>
<text x="567.30" y="617.70" font-size="12.72" font-weight="bold" fill="#262626" stroke="#262626" stroke-width="0.31" textLength="16.70" lengthAdjust="spacingAndGlyphs" >34</text>
<circle cx="588.90" cy="605.20" r="1.35" fill="none" stroke="#262626" stroke-width="0.9"/>
<text x="597.00" y="617.70" font-size="12.72" font-weight="bold" fill="#262626" stroke="#262626" stroke-width="0.31" textLength="10.04" lengthAdjust="spacingAndGlyphs" >N</text>
<text x="567.30" y="634.70" font-size="12.72" font-weight="bold" fill="#262626" stroke="#262626" stroke-width="0.31" textLength="16.70" lengthAdjust="spacingAndGlyphs" >32</text>
<circle cx="588.90" cy="622.20" r="1.35" fill="none" stroke="#262626" stroke-width="0.9"/>
<text x="597.00" y="634.70" font-size="12.72" font-weight="bold" fill="#262626" stroke="#262626" stroke-width="0.31" textLength="10.04" lengthAdjust="spacingAndGlyphs" >N</text>
<text x="567.30" y="648.90" font-size="12.72" font-weight="bold" fill="#262626" stroke="#262626" stroke-width="0.31" textLength="16.70" lengthAdjust="spacingAndGlyphs" >30</text>
<circle cx="588.90" cy="636.40" r="1.35" fill="none" stroke="#262626" stroke-width="0.9"/>
<text x="597.00" y="648.90" font-size="12.72" font-weight="bold" fill="#262626" stroke="#262626" stroke-width="0.31" textLength="10.04" lengthAdjust="spacingAndGlyphs" >N</text>
<text x="567.30" y="662.00" font-size="12.72" font-weight="bold" fill="#262626" stroke="#262626" stroke-width="0.31" textLength="16.70" lengthAdjust="spacingAndGlyphs" >28</text>
<circle cx="588.90" cy="649.50" r="1.35" fill="none" stroke="#262626" stroke-width="0.9"/>
<text x="597.00" y="662.00" font-size="12.72" font-weight="bold" fill="#262626" stroke="#262626" stroke-width="0.31" textLength="10.04" lengthAdjust="spacingAndGlyphs" >N</text>
<text x="567.30" y="676.60" font-size="12.72" font-weight="bold" fill="#262626" stroke="#262626" stroke-width="0.31" textLength="16.70" lengthAdjust="spacingAndGlyphs" >26</text>
<circle cx="588.90" cy="664.10" r="1.35" fill="none" stroke="#262626" stroke-width="0.9"/>
<text x="597.00" y="676.60" font-size="12.72" font-weight="bold" fill="#262626" stroke="#262626" stroke-width="0.31" textLength="10.04" lengthAdjust="spacingAndGlyphs" >N</text>
<text x="567.30" y="690.70" font-size="12.72" font-weight="bold" fill="#262626" stroke="#262626" stroke-width="0.31" textLength="16.70" lengthAdjust="spacingAndGlyphs" >24</text>
<circle cx="588.90" cy="678.20" r="1.35" fill="none" stroke="#262626" stroke-width="0.9"/>
<text x="597.00" y="690.70" font-size="12.72" font-weight="bold" fill="#262626" stroke="#262626" stroke-width="0.31" textLength="10.04" lengthAdjust="spacingAndGlyphs" >N</text>
<text x="567.30" y="703.50" font-size="12.72" font-weight="bold" fill="#262626" stroke="#262626" stroke-width="0.31" textLength="16.70" lengthAdjust="spacingAndGlyphs" >22</text>
<circle cx="588.90" cy="691.00" r="1.35" fill="none" stroke="#262626" stroke-width="0.9"/>
<text x="597.00" y="703.50" font-size="12.72" font-weight="bold" fill="#262626" stroke="#262626" stroke-width="0.31" textLength="10.04" lengthAdjust="spacingAndGlyphs" >N</text>
<rect x="862.3" y="483.1" width="23.20" height="219.30" fill="url(#jet)" stroke="#1a1a1a" stroke-width="0.8"/>
<path d="M883.20 658.65H885.50" stroke="#1a1a1a" stroke-width="0.8"/>
<text x="894.50" y="665.95" font-size="21.19" font-weight="bold" fill="#262626" stroke="#262626" stroke-width="0.52" textLength="22.22" lengthAdjust="spacingAndGlyphs" >-1</text>
<path d="M883.20 592.75H885.50" stroke="#1a1a1a" stroke-width="0.8"/>
<text x="894.50" y="600.05" font-size="21.19" font-weight="bold" fill="#262626" stroke="#262626" stroke-width="0.52" textLength="13.92" lengthAdjust="spacingAndGlyphs" >0</text>
<path d="M883.20 526.85H885.50" stroke="#1a1a1a" stroke-width="0.8"/>
<text x="894.50" y="534.15" font-size="21.19" font-weight="bold" fill="#262626" stroke="#262626" stroke-width="0.52" textLength="13.92" lengthAdjust="spacingAndGlyphs" >1</text>
<text x="550.62" y="731.00" font-size="24.48" font-weight="bold" fill="#262626" stroke="#262626" stroke-width="0.60" textLength="107.26" lengthAdjust="spacingAndGlyphs" >SAT-RAP</text><text x="665.93" y="731.00" font-size="24.48" font-weight="bold" fill="#262626" stroke="#262626" stroke-width="0.60" textLength="48.22" lengthAdjust="spacingAndGlyphs" >700</text><text x="722.19" y="731.00" font-size="24.48" font-weight="bold" fill="#262626" stroke="#262626" stroke-width="0.60" textLength="48.34" lengthAdjust="spacingAndGlyphs" >hPa</text><text x="778.57" y="731.00" font-size="24.48" font-weight="bold" fill="#262626" stroke="#262626" stroke-width="0.60" textLength="40.78" lengthAdjust="spacingAndGlyphs" >MR</text><text x="827.39" y="731.00" font-size="24.48" font-weight="bold" fill="#262626" stroke="#262626" stroke-width="0.60" textLength="77.98" lengthAdjust="spacingAndGlyphs" >(g/kg)</text>
<g transform="translate(1038.0,485.2) scale(1.00428,1.01129)">
<g fill="none" stroke-linecap="round" stroke-width="3.7">
<path stroke="#0000bf" d="M28 104h.01M30 104h.01M32 104h.01M34 104h.01M28 106h.01M30 106h.01M32 106h.01M34 106h.01M36 106h.01M32 108h.01M34 108h.01M36 108h.01M38 108h.01M36 110h.01"/>
<path stroke="#0000ea" d="M36 104h.01M38 106h.01"/>
<path stroke="#0000ff" d="M26 104h.01"/>
<path stroke="#0015ff" d="M38 110h.01"/>
<path stroke="#0040ff" d="M52 86h.01M54 86h.01M48 88h.01M50 88h.01M52 88h.01M54 88h.01M44 90h.01M46 90h.01M48 90h.01M50 90h.01M52 90h.01M42 92h.01M44 92h.01M46 92h.01M48 92h.01M42 94h.01M44 94h.01"/>
<path stroke="#0055ff" d="M6 2h.01M8 2h.01M10 2h.01M6 4h.01M8 4h.01M10 4h.01M6 6h.01M8 6h.01M10 6h.01M68 42h.01M70 42h.01M72 42h.01M66 44h.01M68 44h.01M70 44h.01M72 44h.01M58 90h.01M60 90h.01M52 92h.01M54 92h.01M48 94h.01M50 94h.01M52 94h.01M54 94h.01M46 96h.01M48 96h.01M50 96h.01M52 96h.01M46 98h.01M48 98h.01M40 108h.01M40 110h.01M50 110h.01M48 112h.01M50 112h.01M52 112h.01"/>
<path stroke="#006aff" d="M2 -2h.01M4 -2h.01M4 0h.01M56 86h.01M58 88h.01M60 88h.01M56 90h.01M56 92h.01M40 106h.01"/>
<path stroke="#0080ff" d="M0 -2h.01M2 0h.01M6 0h.01M0 4h.01M0 6h.01M56 88h.01M54 90h.01M44 98h.01M34 102h.01M36 102h.01M42 106h.01M42 108h.01M42 110h.01"/>
<path stroke="#0095ff" d="M0 0h.01M8 0h.01M-2 2h.01M0 2h.01M40 94h.01M34 100h.01M36 100h.01M30 102h.01M32 102h.01M38 102h.01M40 102h.01M38 104h.01M40 104h.01M44 106h.01M42 112h.01"/>
<path stroke="#00aaff" d="M6 -2h.01M-2 4h.01M12 4h.01M0 8h.01M58 86h.01M60 86h.01M58 92h.01M60 92h.01M34 98h.01M36 98h.01M38 98h.01M40 98h.01M30 100h.01M32 100h.01M38 100h.01M40 100h.01M42 104h.01M44 108h.01M44 110h.01M44 112h.01"/>
<path stroke="#00bfff" d="M8 -2h.01M10 -2h.01M10 0h.01M-2 6h.01M0 10h.01M2 10h.01M62 86h.01M42 88h.01M44 88h.01M42 90h.01M34 96h.01M36 96h.01M38 96h.01M30 98h.01M32 98h.01M28 102h.01M42 102h.01M48 110h.01M52 110h.01"/>
<path stroke="#00d4ff" d="M12 -2h.01M12 0h.01M-2 8h.01M6 8h.01M4 10h.01M48 86h.01M50 86h.01M46 88h.01M50 92h.01M32 96h.01M40 96h.01M28 98h.01M28 100h.01M42 100h.01M44 104h.01M46 106h.01M46 108h.01M46 110h.01M46 112h.01"/>
<path stroke="#00eaff" d="M24 -2h.01M26 -2h.01M12 2h.01M6 10h.01M2 12h.01M4 12h.01M6 12h.01M8 12h.01M2 26h.01M60 84h.01M62 84h.01M40 88h.01M40 90h.01M40 92h.01M32 94h.01M34 94h.01M36 94h.01M38 94h.01M56 94h.01M58 94h.01M28 96h.01M30 96h.01M26 98h.01M26 100h.01M26 102h.01M44 102h.01"/>
<path stroke="#00ffff" d="M14 -2h.01M22 -2h.01M28 -2h.01M14 0h.01M16 0h.01M24 0h.01M26 0h.01M28 0h.01M30 0h.01M26 2h.01M-2 10h.01M0 12h.01M10 12h.01M4 14h.01M6 14h.01M8 14h.01M-2 18h.01M10 22h.01M-2 24h.01M0 24h.01M2 24h.01M0 26h.01M4 26h.01M8 30h.01M10 30h.01M48 84h.01M50 84h.01M52 84h.01M54 84h.01M56 84h.01M58 84h.01M40 86h.01M42 86h.01M44 86h.01M46 86h.01M30 92h.01M34 92h.01M38 92h.01M30 94h.01M46 94h.01M24 98h.01M42 98h.01M24 100h.01M24 102h.01M48 108h.01"/>
<path stroke="#15ffea" d="M30 -2h.01M22 0h.01M14 2h.01M16 2h.01M24 2h.01M28 2h.01M30 2h.01M12 6h.01M8 8h.01M8 10h.01M-2 14h.01M0 14h.01M2 14h.01M10 14h.01M-2 16h.01M0 16h.01M0 18h.01M0 20h.01M8 20h.01M-2 22h.01M0 22h.01M2 22h.01M6 26h.01M4 28h.01M6 28h.01M8 28h.01M86 30h.01M-2 40h.01M72 40h.01M66 42h.01M52 52h.01M54 52h.01M54 54h.01M60 56h.01M60 58h.01M62 58h.01M6 80h.01M-2 82h.01M6 82h.01M8 82h.01M60 82h.01M62 82h.01M64 82h.01M46 84h.01M2 86h.01M4 86h.01M38 86h.01M38 88h.01M38 90h.01M32 92h.01M36 92h.01M28 94h.01M26 96h.01M42 96h.01M44 96h.01M56 96h.01M58 96h.01M46 104h.01M50 108h.01"/>
<path stroke="#2bffd4" d="M16 -2h.01M20 -2h.01M32 -2h.01M60 -2h.01M18 0h.01M32 0h.01M60 0h.01M62 0h.01M18 2h.01M62 2h.01M14 4h.01M26 4h.01M14 6h.01M14 8h.01M-2 12h.01M2 16h.01M4 16h.01M6 16h.01M8 16h.01M10 16h.01M2 18h.01M4 18h.01M6 18h.01M8 18h.01M-2 20h.01M2 20h.01M6 20h.01M10 20h.01M8 22h.01M12 22h.01M10 24h.01M12 24h.01M-2 26h.01M8 26h.01M2 28h.01M10 28h.01M86 28h.01M6 30h.01M12 30h.01M10 32h.01M12 32h.01M84 34h.01M78 38h.01M0 40h.01M70 40h.01M-2 42h.01M0 42h.01M70 46h.01M50 50h.01M52 50h.01M58 50h.01M60 50h.01M62 50h.01M50 52h.01M56 52h.01M58 52h.01M56 54h.01M58 54h.01M60 54h.01M62 54h.01M46 56h.01M56 56h.01M58 56h.01M62 56h.01M62 60h.01M12 62h.01M14 62h.01M18 78h.01M-2 80h.01M0 80h.01M4 80h.01M8 80h.01M20 80h.01M4 82h.01M10 82h.01M52 82h.01M-2 84h.01M0 84h.01M2 84h.01M4 84h.01M6 84h.01M38 84h.01M40 84h.01M42 84h.01M44 84h.01M0 86h.01M2 88h.01M28 92h.01M24 96h.01M54 96h.01M22 98h.01M22 100h.01M44 100h.01M48 106h.01"/>
<path stroke="#40ffbf" d="M18 -2h.01M34 -2h.01M58 -2h.01M20 0h.01M20 2h.01M22 2h.01M32 2h.01M64 2h.01M100 2h.01M16 4h.01M28 4h.01M30 4h.01M48 6h.01M50 6h.01M58 6h.01M12 8h.01M58 8h.01M60 8h.01M10 10h.01M14 10h.01M60 10h.01M12 12h.01M12 14h.01M10 18h.01M4 20h.01M4 22h.01M6 22h.01M4 24h.01M8 24h.01M10 26h.01M14 26h.01M84 28h.01M-2 32h.01M8 32h.01M84 32h.01M0 34h.01M2 34h.01M-2 36h.01M0 36h.01M2 36h.01M84 36h.01M-2 38h.01M0 38h.01M76 38h.01M80 38h.01M68 40h.01M74 40h.01M76 40h.01M78 40h.01M80 40h.01M82 40h.01M2 42h.01M74 42h.01M74 44h.01M58 46h.01M60 46h.01M64 46h.01M66 46h.01M68 46h.01M74 46h.01M76 46h.01M60 48h.01M62 48h.01M64 48h.01M54 50h.01M56 50h.01M64 50h.01M60 52h.01M62 52h.01M52 54h.01M54 56h.01M64 56h.01M72 56h.01M74 56h.01M48 58h.01M50 58h.01M56 58h.01M58 58h.01M64 58h.01M74 58h.01M8 60h.01M10 60h.01M50 60h.01M52 60h.01M64 60h.01M64 62h.01M14 64h.01M48 64h.01M4 66h.01M4 68h.01M6 68h.01M8 68h.01M18 68h.01M8 70h.01M10 70h.01M18 70h.01M20 70h.01M10 72h.01M16 76h.01M18 76h.01M-2 78h.01M0 78h.01M4 78h.01M6 78h.01M16 78h.01M20 78h.01M2 80h.01M10 80h.01M16 80h.01M18 80h.01M22 80h.01M0 82h.01M2 82h.01M22 82h.01M24 82h.01M30 82h.01M32 82h.01M34 82h.01M38 82h.01M44 82h.01M46 82h.01M50 82h.01M54 82h.01M56 82h.01M58 82h.01M8 84h.01M10 84h.01M36 84h.01M-2 86h.01M36 86h.01M0 88h.01M4 88h.01M28 90h.01M30 90h.01M32 90h.01M34 90h.01M36 90h.01M22 96h.01M56 98h.01M46 102h.01M52 108h.01"/>
<path stroke="#55ffaa" d="M62 -2h.01M34 0h.01M64 0h.01M100 0h.01M56 2h.01M60 2h.01M18 4h.01M20 4h.01M22 4h.01M24 4h.01M32 4h.01M46 4h.01M48 4h.01M50 4h.01M56 4h.01M58 4h.01M64 4h.01M16 6h.01M52 6h.01M56 6h.01M60 6h.01M10 8h.01M50 8h.01M52 8h.01M56 8h.01M12 10h.01M16 10h.01M58 10h.01M58 12h.01M60 12h.01M52 14h.01M12 16h.01M60 18h.01M6 24h.01M14 24h.01M12 26h.01M-2 28h.01M0 28h.01M-2 30h.01M4 30h.01M78 30h.01M80 30h.01M82 30h.01M84 30h.01M0 32h.01M14 32h.01M80 32h.01M82 32h.01M-2 34h.01M10 34h.01M82 34h.01M4 36h.01M76 36h.01M78 36h.01M6 38h.01M82 38h.01M2 40h.01M64 40h.01M66 40h.01M76 42h.01M0 44h.01M2 44h.01M58 44h.01M60 44h.01M64 44h.01M76 44h.01M62 46h.01M72 46h.01M48 48h.01M50 48h.01M58 48h.01M66 48h.01M68 48h.01M74 48h.01M76 48h.01M78 48h.01M48 50h.01M66 50h.01M74 50h.01M76 50h.01M48 52h.01M64 52h.01M66 52h.01M72 52h.01M74 52h.01M42 54h.01M44 54h.01M46 54h.01M48 54h.01M50 54h.01M64 54h.01M70 54h.01M74 54h.01M76 54h.01M44 56h.01M48 56h.01M66 56h.01M70 56h.01M4 58h.01M6 58h.01M8 58h.01M46 58h.01M66 58h.01M72 58h.01M4 60h.01M6 60h.01M12 60h.01M32 60h.01M54 60h.01M60 60h.01M10 62h.01M52 62h.01M54 62h.01M62 62h.01M2 64h.01M4 64h.01M50 64h.01M64 64h.01M66 64h.01M6 66h.01M16 66h.01M48 66h.01M50 66h.01M52 66h.01M58 66h.01M-2 68h.01M0 68h.01M16 68h.01M56 68h.01M-2 70h.01M12 70h.01M0 72h.01M2 72h.01M4 72h.01M12 72h.01M20 72h.01M8 74h.01M10 74h.01M12 74h.01M14 74h.01M-2 76h.01M4 76h.01M8 76h.01M10 76h.01M14 76h.01M52 76h.01M2 78h.01M10 78h.01M12 78h.01M14 78h.01M56 78h.01M66 78h.01M12 80h.01M14 80h.01M28 80h.01M30 80h.01M50 80h.01M52 80h.01M58 80h.01M60 80h.01M62 80h.01M64 80h.01M12 82h.01M20 82h.01M36 82h.01M40 82h.01M48 82h.01M12 84h.01M24 84h.01M34 84h.01M6 86h.01M28 86h.01M-2 88h.01M6 88h.01M28 88h.01M30 88h.01M36 88h.01M-2 90h.01M26 90h.01M26 92h.01M26 94h.01M6 96h.01M16 96h.01M18 96h.01M20 96h.01M20 98h.01M50 98h.01M14 100h.01M16 100h.01M20 100h.01M48 104h.01M54 108h.01"/>
<path stroke="#6aff95" d="M98 -2h.01M54 0h.01M58 0h.01M34 2h.01M46 2h.01M54 2h.01M58 2h.01M98 2h.01M44 4h.01M60 4h.01M62 4h.01M66 4h.01M18 6h.01M20 6h.01M22 6h.01M24 6h.01M46 6h.01M54 6h.01M16 8h.01M22 8h.01M46 8h.01M48 8h.01M54 8h.01M62 8h.01M26 10h.01M28 10h.01M46 10h.01M48 10h.01M14 12h.01M16 12h.01M28 12h.01M54 14h.01M60 14h.01M52 16h.01M54 16h.01M56 16h.01M60 16h.01M92 16h.01M56 18h.01M58 18h.01M12 20h.01M58 20h.01M60 20h.01M62 20h.01M90 22h.01M88 24h.01M16 26h.01M84 26h.01M86 26h.01M88 26h.01M12 28h.01M82 28h.01M0 30h.01M2 30h.01M2 32h.01M6 32h.01M78 32h.01M4 34h.01M12 34h.01M74 34h.01M6 36h.01M10 36h.01M74 36h.01M80 36h.01M82 36h.01M2 38h.01M4 38h.01M8 38h.01M68 38h.01M70 38h.01M72 38h.01M74 38h.01M4 42h.01M38 42h.01M40 42h.01M64 42h.01M78 42h.01M80 42h.01M-2 44h.01M4 44h.01M8 44h.01M40 44h.01M42 44h.01M48 44h.01M50 44h.01M56 44h.01M62 44h.01M0 46h.01M2 46h.01M4 46h.01M8 46h.01M46 46h.01M48 46h.01M50 46h.01M52 46h.01M78 46h.01M30 48h.01M46 48h.01M52 48h.01M54 48h.01M70 48h.01M72 48h.01M46 50h.01M68 50h.01M70 50h.01M72 50h.01M78 50h.01M46 52h.01M68 52h.01M70 52h.01M76 52h.01M-2 54h.01M0 54h.01M66 54h.01M68 54h.01M72 54h.01M2 56h.01M4 56h.01M50 56h.01M52 56h.01M68 56h.01M2 58h.01M10 58h.01M32 58h.01M52 58h.01M54 58h.01M68 58h.01M70 58h.01M14 60h.01M56 60h.01M58 60h.01M66 60h.01M68 60h.01M70 60h.01M72 60h.01M2 62h.01M4 62h.01M6 62h.01M8 62h.01M46 62h.01M48 62h.01M50 62h.01M56 62h.01M60 62h.01M66 62h.01M68 62h.01M6 64h.01M12 64h.01M16 64h.01M56 64h.01M58 64h.01M62 64h.01M68 64h.01M-2 66h.01M2 66h.01M14 66h.01M18 66h.01M56 66h.01M60 66h.01M62 66h.01M64 66h.01M66 66h.01M68 66h.01M2 68h.01M10 68h.01M20 68h.01M52 68h.01M54 68h.01M58 68h.01M68 68h.01M0 70h.01M2 70h.01M4 70h.01M6 70h.01M16 70h.01M22 70h.01M56 70h.01M-2 72h.01M6 72h.01M8 72h.01M14 72h.01M16 72h.01M18 72h.01M22 72h.01M52 72h.01M54 72h.01M56 72h.01M-2 74h.01M0 74h.01M2 74h.01M4 74h.01M6 74h.01M16 74h.01M18 74h.01M20 74h.01M48 74h.01M50 74h.01M52 74h.01M54 74h.01M0 76h.01M2 76h.01M6 76h.01M12 76h.01M20 76h.01M48 76h.01M50 76h.01M54 76h.01M56 76h.01M66 76h.01M8 78h.01M22 78h.01M42 78h.01M48 78h.01M50 78h.01M52 78h.01M54 78h.01M58 78h.01M24 80h.01M26 80h.01M32 80h.01M34 80h.01M42 80h.01M44 80h.01M54 80h.01M56 80h.01M14 82h.01M16 82h.01M18 82h.01M26 82h.01M42 82h.01M14 84h.01M16 84h.01M22 84h.01M26 84h.01M30 84h.01M32 84h.01M18 86h.01M20 86h.01M22 86h.01M24 86h.01M26 86h.01M30 86h.01M34 86h.01M22 88h.01M24 88h.01M26 88h.01M32 88h.01M34 88h.01M0 90h.01M2 90h.01M6 90h.01M24 90h.01M22 92h.01M24 92h.01M14 94h.01M22 94h.01M24 94h.01M8 96h.01M-2 98h.01M8 98h.01M10 98h.01M12 98h.01M16 98h.01M18 98h.01M0 100h.01M12 100h.01M18 100h.01"/>
<path stroke="#80ff80" d="M52 -2h.01M56 -2h.01M52 0h.01M56 0h.01M98 0h.01M48 2h.01M50 2h.01M96 2h.01M34 4h.01M42 4h.01M52 4h.01M54 4h.01M96 4h.01M26 6h.01M28 6h.01M30 6h.01M32 6h.01M44 6h.01M66 6h.01M18 8h.01M20 8h.01M24 8h.01M26 8h.01M28 8h.01M24 10h.01M30 10h.01M32 10h.01M50 10h.01M52 10h.01M56 10h.01M62 10h.01M18 12h.01M26 12h.01M30 12h.01M46 12h.01M48 12h.01M50 12h.01M52 12h.01M56 12h.01M14 14h.01M50 14h.01M56 14h.01M58 14h.01M14 16h.01M50 16h.01M58 16h.01M62 16h.01M90 16h.01M12 18h.01M54 18h.01M62 18h.01M90 18h.01M56 20h.01M58 22h.01M60 22h.01M62 22h.01M64 22h.01M62 24h.01M64 24h.01M64 26h.01M66 26h.01M16 28h.01M76 28h.01M78 28h.01M80 28h.01M14 30h.01M70 30h.01M76 30h.01M4 32h.01M16 32h.01M70 32h.01M72 32h.01M74 32h.01M6 34h.01M8 34h.01M14 34h.01M70 34h.01M72 34h.01M76 34h.01M78 34h.01M80 34h.01M8 36h.01M12 36h.01M10 38h.01M62 38h.01M64 38h.01M66 38h.01M4 40h.01M6 40h.01M34 40h.01M36 40h.01M38 40h.01M62 40h.01M6 42h.01M36 42h.01M42 42h.01M56 42h.01M58 42h.01M6 44h.01M38 44h.01M44 44h.01M46 44h.01M78 44h.01M80 44h.01M-2 46h.01M6 46h.01M10 46h.01M42 46h.01M44 46h.01M54 46h.01M56 46h.01M-2 48h.01M0 48h.01M2 48h.01M4 48h.01M6 48h.01M32 48h.01M44 48h.01M56 48h.01M-2 50h.01M30 50h.01M32 50h.01M34 50h.01M38 50h.01M44 50h.01M-2 52h.01M34 52h.01M36 52h.01M38 52h.01M42 52h.01M44 52h.01M6 54h.01M8 54h.01M24 54h.01M26 54h.01M38 54h.01M40 54h.01M-2 56h.01M0 56h.01M6 56h.01M8 56h.01M10 56h.01M22 56h.01M24 56h.01M26 56h.01M28 56h.01M30 56h.01M42 56h.01M-2 58h.01M12 58h.01M22 58h.01M24 58h.01M28 58h.01M30 58h.01M44 58h.01M-2 60h.01M2 60h.01M24 60h.01M26 60h.01M30 60h.01M34 60h.01M44 60h.01M46 60h.01M48 60h.01M16 62h.01M34 62h.01M44 62h.01M70 62h.01M72 62h.01M-2 64h.01M10 64h.01M18 64h.01M46 64h.01M52 64h.01M54 64h.01M60 64h.01M70 64h.01M72 64h.01M0 66h.01M8 66h.01M54 66h.01M70 66h.01M12 68h.01M14 68h.01M48 68h.01M50 68h.01M64 68h.01M66 68h.01M70 68h.01M14 70h.01M50 70h.01M52 70h.01M54 70h.01M58 70h.01M68 70h.01M46 72h.01M48 72h.01M50 72h.01M58 72h.01M22 74h.01M56 74h.01M58 74h.01M60 74h.01M62 74h.01M64 74h.01M22 76h.01M44 76h.01M46 76h.01M58 76h.01M60 76h.01M62 76h.01M64 76h.01M24 78h.01M26 78h.01M28 78h.01M30 78h.01M34 78h.01M40 78h.01M44 78h.01M46 78h.01M60 78h.01M62 78h.01M64 78h.01M36 80h.01M38 80h.01M40 80h.01M46 80h.01M48 80h.01M28 82h.01M18 84h.01M28 84h.01M8 86h.01M10 86h.01M12 86h.01M14 86h.01M16 86h.01M32 86h.01M8 88h.01M14 88h.01M20 88h.01M4 90h.01M8 90h.01M22 90h.01M-2 92h.01M0 92h.01M2 92h.01M6 92h.01M8 92h.01M12 92h.01M20 92h.01M6 94h.01M8 94h.01M12 94h.01M16 94h.01M20 94h.01M-2 96h.01M10 96h.01M14 96h.01M14 98h.01M10 100h.01M46 100h.01"/>
<path stroke="#95ff6a" d="M36 -2h.01M50 -2h.01M54 -2h.01M64 -2h.01M70 -2h.01M72 -2h.01M96 -2h.01M50 0h.01M70 0h.01M36 2h.01M38 2h.01M52 2h.01M66 2h.01M36 4h.01M94 4h.01M34 6h.01M36 6h.01M62 6h.01M64 6h.01M30 8h.01M32 8h.01M44 8h.01M64 8h.01M18 10h.01M22 10h.01M34 10h.01M54 10h.01M64 10h.01M32 12h.01M34 12h.01M54 12h.01M62 12h.01M16 14h.01M30 14h.01M34 14h.01M36 14h.01M46 14h.01M48 14h.01M62 14h.01M48 16h.01M88 16h.01M52 18h.01M64 18h.01M54 20h.01M64 20h.01M90 20h.01M14 22h.01M56 22h.01M66 22h.01M16 24h.01M56 24h.01M58 24h.01M60 24h.01M66 24h.01M86 24h.01M18 26h.01M56 26h.01M58 26h.01M60 26h.01M62 26h.01M68 26h.01M82 26h.01M14 28h.01M18 28h.01M66 28h.01M68 28h.01M70 28h.01M74 28h.01M16 30h.01M68 30h.01M72 30h.01M74 30h.01M68 32h.01M76 32h.01M16 34h.01M56 34h.01M58 34h.01M60 34h.01M14 36h.01M56 36h.01M58 36h.01M60 36h.01M62 36h.01M64 36h.01M66 36h.01M68 36h.01M70 36h.01M72 36h.01M12 38h.01M14 38h.01M60 38h.01M8 40h.01M10 40h.01M14 40h.01M40 40h.01M60 40h.01M8 42h.01M34 42h.01M44 42h.01M46 42h.01M54 42h.01M60 42h.01M62 42h.01M10 44h.01M24 44h.01M26 44h.01M36 44h.01M52 44h.01M54 44h.01M24 46h.01M26 46h.01M28 46h.01M30 46h.01M40 46h.01M8 48h.01M10 48h.01M26 48h.01M28 48h.01M34 48h.01M42 48h.01M0 50h.01M2 50h.01M4 50h.01M16 50h.01M26 50h.01M28 50h.01M36 50h.01M40 50h.01M42 50h.01M0 52h.01M4 52h.01M6 52h.01M8 52h.01M10 52h.01M12 52h.01M22 52h.01M24 52h.01M26 52h.01M28 52h.01M32 52h.01M40 52h.01M2 54h.01M4 54h.01M10 54h.01M12 54h.01M14 54h.01M22 54h.01M28 54h.01M30 54h.01M36 54h.01M12 56h.01M20 56h.01M32 56h.01M0 58h.01M14 58h.01M26 58h.01M34 58h.01M0 60h.01M28 60h.01M0 62h.01M26 62h.01M28 62h.01M32 62h.01M36 62h.01M58 62h.01M0 64h.01M8 64h.01M26 64h.01M28 64h.01M10 66h.01M12 66h.01M20 66h.01M46 66h.01M46 68h.01M60 68h.01M62 68h.01M46 70h.01M48 70h.01M64 70h.01M66 70h.01M24 72h.01M42 72h.01M44 72h.01M60 72h.01M62 72h.01M64 72h.01M68 72h.01M24 74h.01M28 74h.01M30 74h.01M44 74h.01M46 74h.01M66 74h.01M24 76h.01M26 76h.01M28 76h.01M30 76h.01M40 76h.01M42 76h.01M32 78h.01M36 78h.01M38 78h.01M20 84h.01M10 88h.01M12 88h.01M10 90h.01M12 90h.01M4 92h.01M10 92h.01M14 92h.01M18 92h.01M-2 94h.01M0 94h.01M4 94h.01M10 94h.01M18 94h.01M4 96h.01M12 96h.01M0 98h.01M6 98h.01M2 100h.01M48 100h.01M48 102h.01"/>
<path stroke="#aaff55" d="M68 -2h.01M74 -2h.01M72 0h.01M68 4h.01M42 6h.01M68 6h.01M96 6h.01M34 8h.01M36 8h.01M38 8h.01M66 8h.01M20 10h.01M36 10h.01M44 10h.01M20 12h.01M22 12h.01M24 12h.01M36 12h.01M42 12h.01M44 12h.01M64 12h.01M18 14h.01M20 14h.01M22 14h.01M28 14h.01M32 14h.01M38 14h.01M40 14h.01M42 14h.01M44 14h.01M64 14h.01M66 14h.01M16 16h.01M30 16h.01M32 16h.01M34 16h.01M40 16h.01M42 16h.01M44 16h.01M46 16h.01M64 16h.01M66 16h.01M14 18h.01M30 18h.01M32 18h.01M48 18h.01M50 18h.01M66 18h.01M14 20h.01M30 20h.01M32 20h.01M66 20h.01M32 22h.01M52 22h.01M54 22h.01M68 22h.01M34 24h.01M52 24h.01M54 24h.01M68 24h.01M82 24h.01M84 24h.01M54 26h.01M70 26h.01M72 26h.01M74 26h.01M76 26h.01M78 26h.01M44 28h.01M56 28h.01M58 28h.01M60 28h.01M62 28h.01M64 28h.01M72 28h.01M18 30h.01M58 30h.01M66 30h.01M18 32h.01M36 32h.01M58 32h.01M60 32h.01M18 34h.01M52 34h.01M54 34h.01M62 34h.01M68 34h.01M16 36h.01M40 36h.01M54 36h.01M16 38h.01M34 38h.01M38 38h.01M40 38h.01M42 38h.01M50 38h.01M52 38h.01M58 38h.01M12 40h.01M32 40h.01M42 40h.01M44 40h.01M46 40h.01M50 40h.01M52 40h.01M54 40h.01M56 40h.01M10 42h.01M30 42h.01M32 42h.01M48 42h.01M50 42h.01M52 42h.01M22 44h.01M28 44h.01M34 44h.01M12 46h.01M32 46h.01M34 46h.01M36 46h.01M38 46h.01M12 48h.01M14 48h.01M24 48h.01M36 48h.01M38 48h.01M6 50h.01M8 50h.01M14 50h.01M24 50h.01M2 52h.01M16 52h.01M18 52h.01M30 52h.01M16 54h.01M18 54h.01M20 54h.01M32 54h.01M14 56h.01M16 56h.01M18 56h.01M40 56h.01M42 58h.01M16 60h.01M22 60h.01M36 60h.01M-2 62h.01M30 62h.01M30 64h.01M32 64h.01M36 64h.01M44 64h.01M26 66h.01M28 66h.01M30 66h.01M22 68h.01M24 70h.01M42 70h.01M44 70h.01M60 70h.01M62 70h.01M40 72h.01M66 72h.01M26 74h.01M42 74h.01M32 76h.01M34 76h.01M38 76h.01M16 88h.01M18 88h.01M14 90h.01M16 90h.01M18 90h.01M20 90h.01M16 92h.01M2 94h.01M0 96h.01M8 100h.01"/>
<path stroke="#bfff40" d="M66 0h.01M74 0h.01M68 2h.01M38 4h.01M40 4h.01M38 6h.01M40 8h.01M68 8h.01M38 10h.01M40 10h.01M42 10h.01M66 10h.01M38 12h.01M40 12h.01M66 12h.01M68 12h.01M26 14h.01M68 14h.01M28 16h.01M36 16h.01M38 16h.01M68 16h.01M34 18h.01M40 18h.01M42 18h.01M44 18h.01M46 18h.01M68 18h.01M70 18h.01M88 18h.01M46 20h.01M48 20h.01M52 20h.01M68 20h.01M70 20h.01M16 22h.01M34 22h.01M40 22h.01M50 22h.01M80 22h.01M82 22h.01M32 24h.01M36 24h.01M38 24h.01M40 24h.01M42 24h.01M70 24h.01M72 24h.01M74 24h.01M78 24h.01M80 24h.01M34 26h.01M36 26h.01M38 26h.01M40 26h.01M42 26h.01M44 26h.01M52 26h.01M80 26h.01M28 28h.01M34 28h.01M42 28h.01M46 28h.01M54 28h.01M20 30h.01M34 30h.01M36 30h.01M46 30h.01M48 30h.01M56 30h.01M60 30h.01M64 30h.01M20 32h.01M34 32h.01M38 32h.01M40 32h.01M50 32h.01M52 32h.01M54 32h.01M56 32h.01M62 32h.01M66 32h.01M34 34h.01M36 34h.01M38 34h.01M40 34h.01M42 34h.01M44 34h.01M64 34h.01M66 34h.01M18 36h.01M34 36h.01M36 36h.01M38 36h.01M42 36h.01M52 36h.01M32 38h.01M36 38h.01M44 38h.01M48 38h.01M54 38h.01M56 38h.01M16 40h.01M30 40h.01M48 40h.01M58 40h.01M12 42h.01M14 42h.01M20 42h.01M12 44h.01M30 44h.01M32 44h.01M22 46h.01M16 48h.01M40 48h.01M10 50h.01M12 50h.01M18 50h.01M22 50h.01M14 52h.01M20 52h.01M34 54h.01M34 56h.01M38 56h.01M20 58h.01M36 58h.01M42 60h.01M18 62h.01M24 62h.01M38 62h.01M42 62h.01M20 64h.01M24 64h.01M34 64h.01M38 64h.01M42 64h.01M22 66h.01M24 66h.01M32 66h.01M40 66h.01M44 66h.01M24 68h.01M34 68h.01M36 68h.01M44 68h.01M36 70h.01M38 70h.01M40 70h.01M26 72h.01M32 74h.01M40 74h.01M36 76h.01M4 100h.01M6 100h.01M50 106h.01"/>
<path stroke="#d5ff2a" d="M48 -2h.01M66 -2h.01M76 -2h.01M68 0h.01M76 0h.01M40 6h.01M70 6h.01M42 8h.01M70 8h.01M96 8h.01M68 10h.01M70 12h.01M94 12h.01M24 14h.01M70 14h.01M18 16h.01M22 16h.01M24 16h.01M26 16h.01M86 16h.01M16 18h.01M16 20h.01M34 20h.01M38 20h.01M40 20h.01M44 20h.01M50 20h.01M82 20h.01M18 22h.01M30 22h.01M38 22h.01M42 22h.01M44 22h.01M46 22h.01M48 22h.01M70 22h.01M78 22h.01M18 24h.01M30 24h.01M44 24h.01M50 24h.01M76 24h.01M30 26h.01M32 26h.01M20 28h.01M26 28h.01M30 28h.01M32 28h.01M36 28h.01M40 28h.01M22 30h.01M28 30h.01M30 30h.01M32 30h.01M42 30h.01M44 30h.01M50 30h.01M54 30h.01M62 30h.01M30 32h.01M32 32h.01M42 32h.01M44 32h.01M48 32h.01M64 32h.01M46 34h.01M48 34h.01M50 34h.01M30 36h.01M32 36h.01M44 36h.01M46 36h.01M48 36h.01M50 36h.01M18 38h.01M30 38h.01M46 38h.01M18 40h.01M20 40h.01M18 42h.01M22 42h.01M28 42h.01M20 44h.01M14 46h.01M22 48h.01M20 50h.01M36 56h.01M16 58h.01M18 58h.01M38 58h.01M40 58h.01M38 60h.01M22 64h.01M40 64h.01M34 66h.01M38 66h.01M42 66h.01M26 68h.01M28 68h.01M30 68h.01M32 68h.01M38 68h.01M40 68h.01M42 68h.01M32 70h.01M34 70h.01M28 72h.01M30 72h.01M32 72h.01M34 72h.01M36 72h.01M38 72h.01M34 74h.01M36 74h.01M38 74h.01M2 96h.01M2 98h.01M4 98h.01M52 98h.01M54 98h.01"/>
<path stroke="#eaff15" d="M78 -2h.01M82 -2h.01M36 0h.01M78 0h.01M70 2h.01M72 2h.01M74 2h.01M76 2h.01M70 4h.01M76 4h.01M92 4h.01M94 6h.01M70 10h.01M72 12h.01M20 16h.01M84 16h.01M22 18h.01M24 18h.01M26 18h.01M28 18h.01M36 18h.01M38 18h.01M82 18h.01M84 18h.01M22 20h.01M24 20h.01M26 20h.01M28 20h.01M36 20h.01M42 20h.01M72 20h.01M78 20h.01M80 20h.01M20 22h.01M22 22h.01M24 22h.01M26 22h.01M28 22h.01M36 22h.01M72 22h.01M76 22h.01M20 24h.01M22 24h.01M24 24h.01M26 24h.01M28 24h.01M46 24h.01M48 24h.01M20 26h.01M22 26h.01M24 26h.01M26 26h.01M28 26h.01M46 26h.01M48 26h.01M50 26h.01M22 28h.01M24 28h.01M38 28h.01M48 28h.01M50 28h.01M52 28h.01M38 30h.01M40 30h.01M52 30h.01M46 32h.01M30 34h.01M32 34h.01M16 42h.01M14 44h.01M18 48h.01M20 48h.01M18 60h.01M20 60h.01M40 60h.01M20 62h.01M22 62h.01M40 62h.01M36 66h.01M26 70h.01M28 70h.01M30 70h.01"/>
<path stroke="#ffff00" d="M80 -2h.01M80 0h.01M82 0h.01M78 2h.01M72 4h.01M74 4h.01M78 4h.01M72 6h.01M72 8h.01M72 10h.01M94 10h.01M74 12h.01M82 16h.01M18 18h.01M78 18h.01M80 18h.01M74 20h.01M76 20h.01M74 22h.01M16 44h.01M18 44h.01M16 46h.01M20 46h.01"/>
<path stroke="#ffea00" d="M48 0h.01M96 0h.01M80 2h.01M84 2h.01M86 4h.01M92 6h.01M92 8h.01M94 8h.01M82 14h.01M78 16h.01M80 16h.01M18 20h.01M18 46h.01"/>
<path stroke="#ffd500" d="M82 2h.01M80 4h.01M82 4h.01M84 4h.01M88 4h.01M90 4h.01M74 6h.01M76 12h.01M78 14h.01M80 14h.01M20 18h.01M20 20h.01M26 30h.01M26 42h.01"/>
<path stroke="#ffbf00" d="M84 -2h.01M88 6h.01M90 6h.01M84 14h.01M92 14h.01M88 22h.01M24 30h.01M28 32h.01M20 34h.01M20 38h.01M28 40h.01M24 42h.01"/>
<path stroke="#ffaa00" d="M86 6h.01M78 12h.01M86 14h.01M76 18h.01M86 18h.01M84 20h.01M86 20h.01M88 20h.01M84 22h.01M86 22h.01M50 100h.01M56 100h.01M50 102h.01M56 102h.01M50 104h.01M52 106h.01M54 106h.01"/>
<path stroke="#ff9500" d="M92 -2h.01M94 -2h.01M92 0h.01M94 0h.01M90 2h.01M92 2h.01M94 2h.01M74 10h.01M22 32h.01M24 32h.01M26 32h.01M22 34h.01M24 34h.01M26 34h.01M28 34h.01M20 36h.01M22 36h.01M24 36h.01M26 36h.01M28 36h.01M22 38h.01M24 38h.01M26 38h.01M28 38h.01M22 40h.01M24 40h.01M26 40h.01"/>
<path stroke="#ff8000" d="M90 0h.01M80 12h.01"/>
<path stroke="#ff5500" d="M44 2h.01"/>
<path stroke="#ff4000" d="M40 2h.01M52 100h.01M54 100h.01M52 102h.01M54 102h.01M52 104h.01M54 104h.01"/>
<path stroke="#ff2a00" d="M70 16h.01"/>
<path stroke="#ff1500" d="M90 -2h.01M84 0h.01"/>
<path stroke="#ff0000" d="M38 -2h.01M40 -2h.01M42 -2h.01M44 -2h.01M46 -2h.01M38 0h.01M40 0h.01M42 0h.01M44 0h.01M46 0h.01M42 2h.01M80 6h.01M76 14h.01"/>
<path stroke="#ea0000" d="M82 6h.01"/>
<path stroke="#d50000" d="M74 8h.01M88 8h.01M90 8h.01M86 10h.01M88 10h.01M90 10h.01M92 10h.01M86 12h.01M88 12h.01M90 12h.01M92 12h.01M88 14h.01M90 14h.01"/>
<path stroke="#bf0000" d="M86 -2h.01M88 -2h.01M86 0h.01M88 0h.01M86 2h.01M88 2h.01M76 6h.01M78 6h.01M76 8h.01M78 8h.01M80 8h.01M76 10h.01M78 10h.01M72 18h.01"/>
<path stroke="#aa0000" d="M84 6h.01M82 8h.01M84 8h.01M86 8h.01M80 10h.01M82 10h.01M84 10h.01M82 12h.01M84 12h.01M72 14h.01M74 14h.01M72 16h.01M74 16h.01M76 16h.01M74 18h.01"/>
</g>
<use href="#st"/>
</g>
<rect x="1038.0" y="485.2" width="234.7" height="214.9" fill="none" stroke="#101010" stroke-width="1.0"/>
<text x="1060.00" y="464.60" font-size="12.72" font-weight="bold" fill="#262626" stroke="#262626" stroke-width="0.31" textLength="25.05" lengthAdjust="spacingAndGlyphs" >100</text>
<circle cx="1088.05" cy="452.60" r="1.35" fill="none" stroke="#262626" stroke-width="0.9"/>
<text x="1095.65" y="464.60" font-size="12.72" font-weight="bold" fill="#262626" stroke="#262626" stroke-width="0.31" textLength="13.24" lengthAdjust="spacingAndGlyphs" >W</text>
<text x="1127.50" y="464.60" font-size="12.72" font-weight="bold" fill="#262626" stroke="#262626" stroke-width="0.31" textLength="16.70" lengthAdjust="spacingAndGlyphs" >90</text>
<circle cx="1147.20" cy="452.60" r="1.35" fill="none" stroke="#262626" stroke-width="0.9"/>
<text x="1154.80" y="464.60" font-size="12.72" font-weight="bold" fill="#262626" stroke="#262626" stroke-width="0.31" textLength="13.24" lengthAdjust="spacingAndGlyphs" >W</text>
<text x="1190.50" y="464.60" font-size="12.72" font-weight="bold" fill="#262626" stroke="#262626" stroke-width="0.31" textLength="16.70" lengthAdjust="spacingAndGlyphs" >80</text>
<circle cx="1210.20" cy="452.60" r="1.35" fill="none" stroke="#262626" stroke-width="0.9"/>
<text x="1217.80" y="464.60" font-size="12.72" font-weight="bold" fill="#262626" stroke="#262626" stroke-width="0.31" textLength="13.24" lengthAdjust="spacingAndGlyphs" >W</text>
<text x="1256.00" y="464.60" font-size="12.72" font-weight="bold" fill="#262626" stroke="#262626" stroke-width="0.31" textLength="16.70" lengthAdjust="spacingAndGlyphs" >70</text>
<circle cx="1275.70" cy="452.60" r="1.35" fill="none" stroke="#262626" stroke-width="0.9"/>
<text x="1283.30" y="464.60" font-size="12.72" font-weight="bold" fill="#262626" stroke="#262626" stroke-width="0.31" textLength="13.24" lengthAdjust="spacingAndGlyphs" >W</text>
<text x="988.30" y="501.70" font-size="12.72" font-weight="bold" fill="#262626" stroke="#262626" stroke-width="0.31" textLength="16.70" lengthAdjust="spacingAndGlyphs" >48</text>
<circle cx="1008.90" cy="489.20" r="1.35" fill="none" stroke="#262626" stroke-width="0.9"/>
<text x="1018.00" y="501.70" font-size="12.72" font-weight="bold" fill="#262626" stroke="#262626" stroke-width="0.31" textLength="10.04" lengthAdjust="spacingAndGlyphs" >N</text>
<text x="988.30" y="519.98" font-size="12.72" font-weight="bold" fill="#262626" stroke="#262626" stroke-width="0.31" textLength="16.70" lengthAdjust="spacingAndGlyphs" >46</text>
<circle cx="1008.90" cy="507.48" r="1.35" fill="none" stroke="#262626" stroke-width="0.9"/>
<text x="1018.00" y="519.98" font-size="12.72" font-weight="bold" fill="#262626" stroke="#262626" stroke-width="0.31" textLength="10.04" lengthAdjust="spacingAndGlyphs" >N</text>
<text x="988.30" y="537.25" font-size="12.72" font-weight="bold" fill="#262626" stroke="#262626" stroke-width="0.31" textLength="16.70" lengthAdjust="spacingAndGlyphs" >44</text>
<circle cx="1008.90" cy="524.75" r="1.35" fill="none" stroke="#262626" stroke-width="0.9"/>
<text x="1018.00" y="537.25" font-size="12.72" font-weight="bold" fill="#262626" stroke="#262626" stroke-width="0.31" textLength="10.04" lengthAdjust="spacingAndGlyphs" >N</text>
<text x="988.30" y="556.04" font-size="12.72" font-weight="bold" fill="#262626" stroke="#262626" stroke-width="0.31" textLength="16.70" lengthAdjust="spacingAndGlyphs" >42</text>
<circle cx="1008.90" cy="543.54" r="1.35" fill="none" stroke="#262626" stroke-width="0.9"/>
<text x="1018.00" y="556.04" font-size="12.72" font-weight="bold" fill="#262626" stroke="#262626" stroke-width="0.31" textLength="10.04" lengthAdjust="spacingAndGlyphs" >N</text>
<text x="988.30" y="572.20" font-size="12.72" font-weight="bold" fill="#262626" stroke="#262626" stroke-width="0.31" textLength="16.70" lengthAdjust="spacingAndGlyphs" >40</text>
<circle cx="1008.90" cy="559.70" r="1.35" fill="none" stroke="#262626" stroke-width="0.9"/>
<text x="1018.00" y="572.20" font-size="12.72" font-weight="bold" fill="#262626" stroke="#262626" stroke-width="0.31" textLength="10.04" lengthAdjust="spacingAndGlyphs" >N</text>
<text x="988.30" y="587.65" font-size="12.72" font-weight="bold" fill="#262626" stroke="#262626" stroke-width="0.31" textLength="16.70" lengthAdjust="spacingAndGlyphs" >38</text>
<circle cx="1008.90" cy="575.15" r="1.35" fill="none" stroke="#262626" stroke-width="0.9"/>
<text x="1018.00" y="587.65" font-size="12.72" font-weight="bold" fill="#262626" stroke="#262626" stroke-width="0.31" textLength="10.04" lengthAdjust="spacingAndGlyphs" >N</text>
<text x="988.30" y="604.82" font-size="12.72" font-weight="bold" fill="#262626" stroke="#262626" stroke-width="0.31" textLength="16.70" lengthAdjust="spacingAndGlyphs" >36</text>
<circle cx="1008.90" cy="592.32" r="1.35" fill="none" stroke="#262626" stroke-width="0.9"/>
<text x="1018.00" y="604.82" font-size="12.72" font-weight="bold" fill="#262626" stroke="#262626" stroke-width="0.31" textLength="10.04" lengthAdjust="spacingAndGlyphs" >N</text>
<text x="988.30" y="618.85" font-size="12.72" font-weight="bold" fill="#262626" stroke="#262626" stroke-width="0.31" textLength="16.70" lengthAdjust="spacingAndGlyphs" >34</text>
<circle cx="1008.90" cy="606.35" r="1.35" fill="none" stroke="#262626" stroke-width="0.9"/>
<text x="1018.00" y="618.85" font-size="12.72" font-weight="bold" fill="#262626" stroke="#262626" stroke-width="0.31" textLength="10.04" lengthAdjust="spacingAndGlyphs" >N</text>
<text x="988.30" y="636.02" font-size="12.72" font-weight="bold" fill="#262626" stroke="#262626" stroke-width="0.31" textLength="16.70" lengthAdjust="spacingAndGlyphs" >32</text>
<circle cx="1008.90" cy="623.52" r="1.35" fill="none" stroke="#262626" stroke-width="0.9"/>
<text x="1018.00" y="636.02" font-size="12.72" font-weight="bold" fill="#262626" stroke="#262626" stroke-width="0.31" textLength="10.04" lengthAdjust="spacingAndGlyphs" >N</text>
<text x="988.30" y="650.36" font-size="12.72" font-weight="bold" fill="#262626" stroke="#262626" stroke-width="0.31" textLength="16.70" lengthAdjust="spacingAndGlyphs" >30</text>
<circle cx="1008.90" cy="637.86" r="1.35" fill="none" stroke="#262626" stroke-width="0.9"/>
<text x="1018.00" y="650.36" font-size="12.72" font-weight="bold" fill="#262626" stroke="#262626" stroke-width="0.31" textLength="10.04" lengthAdjust="spacingAndGlyphs" >N</text>
<text x="988.30" y="663.59" font-size="12.72" font-weight="bold" fill="#262626" stroke="#262626" stroke-width="0.31" textLength="16.70" lengthAdjust="spacingAndGlyphs" >28</text>
<circle cx="1008.90" cy="651.09" r="1.35" fill="none" stroke="#262626" stroke-width="0.9"/>
<text x="1018.00" y="663.59" font-size="12.72" font-weight="bold" fill="#262626" stroke="#262626" stroke-width="0.31" textLength="10.04" lengthAdjust="spacingAndGlyphs" >N</text>
<text x="988.30" y="678.34" font-size="12.72" font-weight="bold" fill="#262626" stroke="#262626" stroke-width="0.31" textLength="16.70" lengthAdjust="spacingAndGlyphs" >26</text>
<circle cx="1008.90" cy="665.84" r="1.35" fill="none" stroke="#262626" stroke-width="0.9"/>
<text x="1018.00" y="678.34" font-size="12.72" font-weight="bold" fill="#262626" stroke="#262626" stroke-width="0.31" textLength="10.04" lengthAdjust="spacingAndGlyphs" >N</text>
<text x="988.30" y="692.58" font-size="12.72" font-weight="bold" fill="#262626" stroke="#262626" stroke-width="0.31" textLength="16.70" lengthAdjust="spacingAndGlyphs" >24</text>
<circle cx="1008.90" cy="680.08" r="1.35" fill="none" stroke="#262626" stroke-width="0.9"/>
<text x="1018.00" y="692.58" font-size="12.72" font-weight="bold" fill="#262626" stroke="#262626" stroke-width="0.31" textLength="10.04" lengthAdjust="spacingAndGlyphs" >N</text>
<text x="988.30" y="705.50" font-size="12.72" font-weight="bold" fill="#262626" stroke="#262626" stroke-width="0.31" textLength="16.70" lengthAdjust="spacingAndGlyphs" >22</text>
<circle cx="1008.90" cy="693.00" r="1.35" fill="none" stroke="#262626" stroke-width="0.9"/>
<text x="1018.00" y="705.50" font-size="12.72" font-weight="bold" fill="#262626" stroke="#262626" stroke-width="0.31" textLength="10.04" lengthAdjust="spacingAndGlyphs" >N</text>
<rect x="1285.2" y="483.1" width="23.50" height="219.30" fill="url(#jet)" stroke="#1a1a1a" stroke-width="0.8"/>
<path d="M1306.40 686.55H1308.70" stroke="#1a1a1a" stroke-width="0.8"/>
<text x="1317.70" y="693.85" font-size="21.19" font-weight="bold" fill="#262626" stroke="#262626" stroke-width="0.52" textLength="43.73" lengthAdjust="spacingAndGlyphs" >-0.5</text>
<path d="M1306.40 592.75H1308.70" stroke="#1a1a1a" stroke-width="0.8"/>
<text x="1317.70" y="600.05" font-size="21.19" font-weight="bold" fill="#262626" stroke="#262626" stroke-width="0.52" textLength="13.92" lengthAdjust="spacingAndGlyphs" >0</text>
<path d="M1306.40 498.95H1308.70" stroke="#1a1a1a" stroke-width="0.8"/>
<text x="1317.70" y="506.25" font-size="21.19" font-weight="bold" fill="#262626" stroke="#262626" stroke-width="0.52" textLength="35.43" lengthAdjust="spacingAndGlyphs" >0.5</text>
<text x="972.12" y="731.80" font-size="24.48" font-weight="bold" fill="#262626" stroke="#262626" stroke-width="0.60" textLength="107.26" lengthAdjust="spacingAndGlyphs" >SAT-RAP</text><text x="1087.43" y="731.80" font-size="24.48" font-weight="bold" fill="#262626" stroke="#262626" stroke-width="0.60" textLength="48.22" lengthAdjust="spacingAndGlyphs" >500</text><text x="1143.69" y="731.80" font-size="24.48" font-weight="bold" fill="#262626" stroke="#262626" stroke-width="0.60" textLength="48.34" lengthAdjust="spacingAndGlyphs" >hPa</text><text x="1200.07" y="731.80" font-size="24.48" font-weight="bold" fill="#262626" stroke="#262626" stroke-width="0.60" textLength="40.78" lengthAdjust="spacingAndGlyphs" >MR</text><text x="1248.89" y="731.80" font-size="24.48" font-weight="bold" fill="#262626" stroke="#262626" stroke-width="0.60" textLength="77.98" lengthAdjust="spacingAndGlyphs" >(g/kg)</text>
</svg></body></html>
